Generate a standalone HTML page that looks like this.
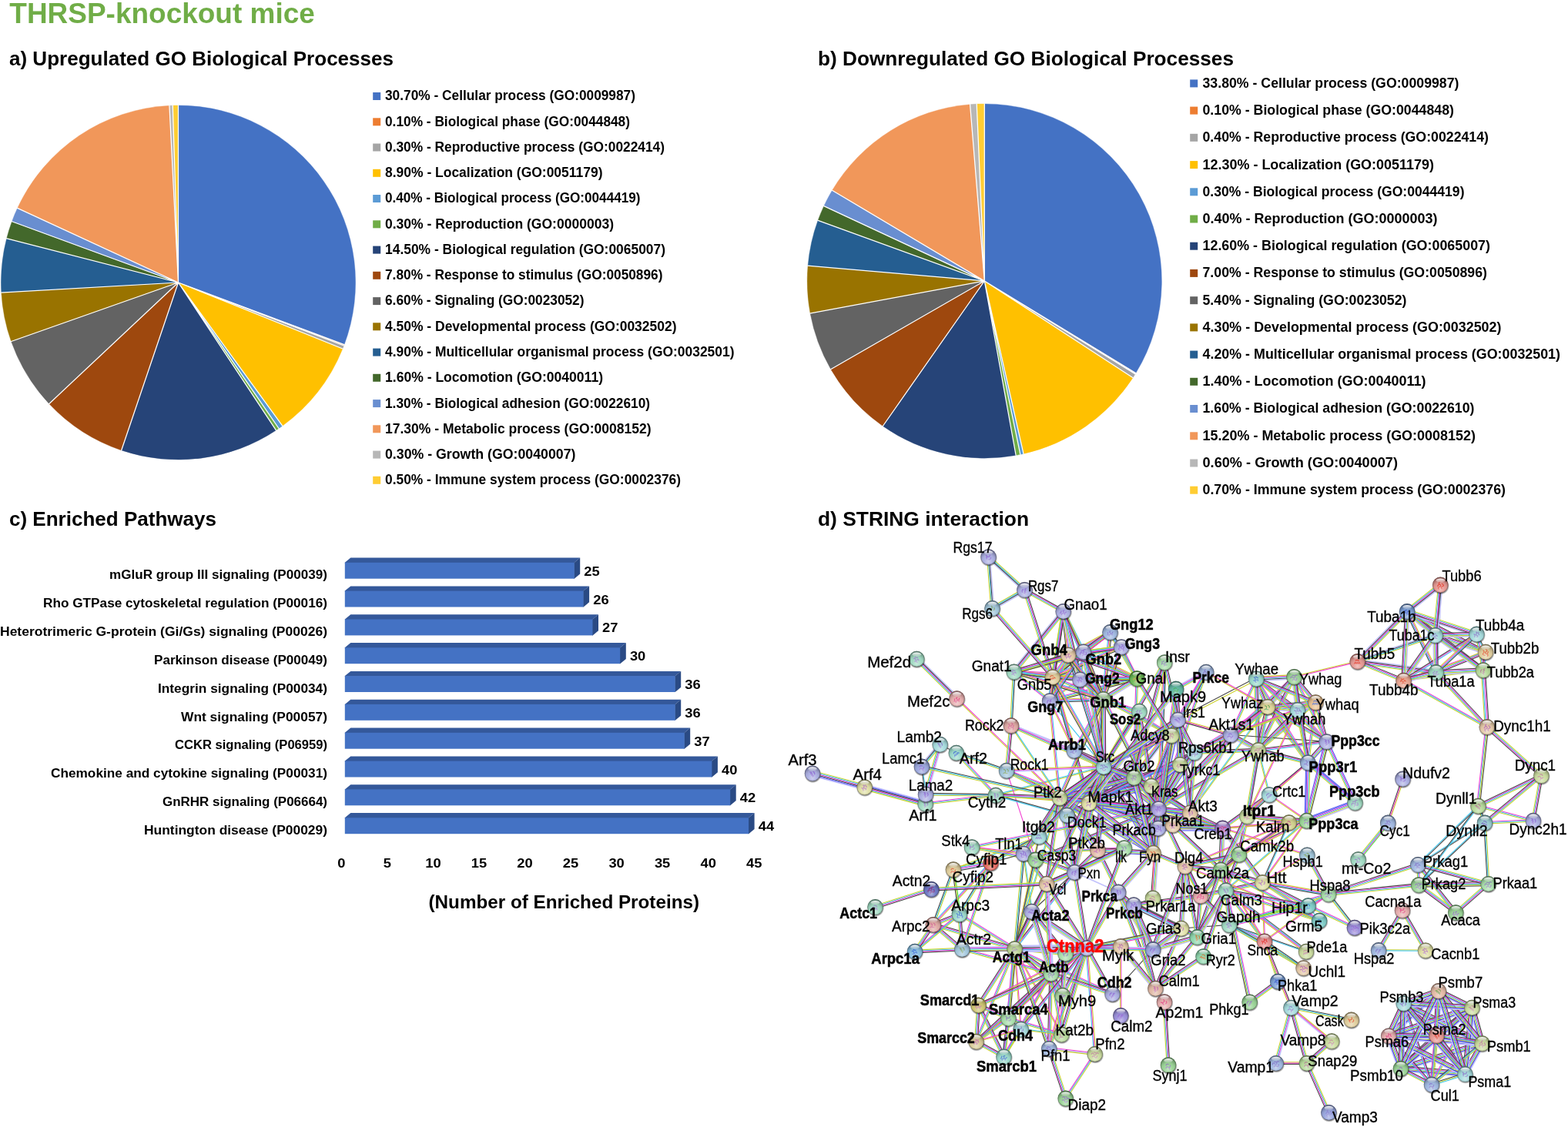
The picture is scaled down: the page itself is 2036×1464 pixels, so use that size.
<!DOCTYPE html>
<html lang="en">
<head>
<meta charset="utf-8">
<title>THRSP-knockout mice</title>
<style>
html,body{margin:0;padding:0;background:#fff;}
body{width:2036px;height:1464px;overflow:hidden;}
svg{display:block;font-family:"Liberation Sans",sans-serif;}
text{white-space:pre;}
</style>
</head>
<body>
<svg width="2036" height="1464" viewBox="0 0 2036 1464">
<rect width="2036" height="1464" fill="#fff"/>
<text x="12.3" y="30.2" font-size="37.5" textLength="396.5" lengthAdjust="spacingAndGlyphs" font-weight="700" fill="#70AD47">THRSP-knockout mice</text>
<text x="12.0" y="85.2" font-size="26" textLength="499.0" lengthAdjust="spacingAndGlyphs" font-weight="700">a) Upregulated GO Biological Processes</text>
<text x="1062.0" y="85.2" font-size="26" textLength="540.0" lengthAdjust="spacingAndGlyphs" font-weight="700">b) Downregulated GO Biological Processes</text>
<text x="12.0" y="683.2" font-size="26" textLength="269.0" lengthAdjust="spacingAndGlyphs" font-weight="700">c) Enriched Pathways</text>
<text x="1062.0" y="683.2" font-size="26" textLength="274.0" lengthAdjust="spacingAndGlyphs" font-weight="700">d) STRING interaction</text>
<g stroke-linejoin="round"><path d="M231.50 367.00L231.50 136.90A230.1 230.1 0 0 1 447.00 447.66Z" fill="#4472C4" stroke="#4472C4" stroke-width="0.4"/><path d="M231.50 367.00L447.00 447.66A230.1 230.1 0 0 1 446.49 449.01Z" fill="#ED7D31" stroke="#ED7D31" stroke-width="0.4"/><path d="M231.50 367.00L446.49 449.01A230.1 230.1 0 0 1 444.91 453.05Z" fill="#A5A5A5" stroke="#A5A5A5" stroke-width="0.4"/><path d="M231.50 367.00L444.91 453.05A230.1 230.1 0 0 1 366.75 553.15Z" fill="#FFC000" stroke="#FFC000" stroke-width="0.4"/><path d="M231.50 367.00L366.75 553.15A230.1 230.1 0 0 1 362.03 556.49Z" fill="#5B9BD5" stroke="#5B9BD5" stroke-width="0.4"/><path d="M231.50 367.00L362.03 556.49A230.1 230.1 0 0 1 358.43 558.92Z" fill="#70AD47" stroke="#70AD47" stroke-width="0.4"/><path d="M231.50 367.00L358.43 558.92A230.1 230.1 0 0 1 157.65 584.93Z" fill="#264478" stroke="#264478" stroke-width="0.4"/><path d="M231.50 367.00L157.65 584.93A230.1 230.1 0 0 1 63.76 524.51Z" fill="#9E480E" stroke="#9E480E" stroke-width="0.4"/><path d="M231.50 367.00L63.76 524.51A230.1 230.1 0 0 1 14.52 443.58Z" fill="#636363" stroke="#636363" stroke-width="0.4"/><path d="M231.50 367.00L14.52 443.58A230.1 230.1 0 0 1 1.77 380.00Z" fill="#997300" stroke="#997300" stroke-width="0.4"/><path d="M231.50 367.00L1.77 380.00A230.1 230.1 0 0 1 8.63 309.78Z" fill="#255E91" stroke="#255E91" stroke-width="0.4"/><path d="M231.50 367.00L8.63 309.78A230.1 230.1 0 0 1 15.50 287.70Z" fill="#43682B" stroke="#43682B" stroke-width="0.4"/><path d="M231.50 367.00L15.50 287.70A230.1 230.1 0 0 1 22.69 270.34Z" fill="#698ED0" stroke="#698ED0" stroke-width="0.4"/><path d="M231.50 367.00L22.69 270.34A230.1 230.1 0 0 1 219.94 137.19Z" fill="#F1975A" stroke="#F1975A" stroke-width="0.4"/><path d="M231.50 367.00L219.94 137.19A230.1 230.1 0 0 1 224.27 137.01Z" fill="#B7B7B7" stroke="#B7B7B7" stroke-width="0.4"/><path d="M231.50 367.00L224.27 137.01A230.1 230.1 0 0 1 231.50 136.90Z" fill="#FFCD33" stroke="#FFCD33" stroke-width="0.4"/></g><path d="M231.50 367.00L231.50 136.30M231.50 367.00L447.56 447.87M231.50 367.00L447.05 449.22M231.50 367.00L445.46 453.27M231.50 367.00L367.10 553.64M231.50 367.00L362.37 556.99M231.50 367.00L358.76 559.42M231.50 367.00L157.46 585.50M231.50 367.00L63.33 524.93M231.50 367.00L13.95 443.78M231.50 367.00L1.17 380.04M231.50 367.00L8.05 309.63M231.50 367.00L14.93 287.49M231.50 367.00L22.14 270.09M231.50 367.00L219.91 136.59M231.50 367.00L224.25 136.41" fill="none" stroke="#fff" stroke-width="1.25" stroke-linecap="butt"/>
<g stroke-linejoin="round"><path d="M1278.30 365.00L1278.30 134.90A230.1 230.1 0 0 1 1474.88 484.60Z" fill="#4472C4" stroke="#4472C4" stroke-width="0.4"/><path d="M1278.30 365.00L1474.88 484.60A230.1 230.1 0 0 1 1474.12 485.83Z" fill="#ED7D31" stroke="#ED7D31" stroke-width="0.4"/><path d="M1278.30 365.00L1474.12 485.83A230.1 230.1 0 0 1 1471.04 490.69Z" fill="#A5A5A5" stroke="#A5A5A5" stroke-width="0.4"/><path d="M1278.30 365.00L1471.04 490.69A230.1 230.1 0 0 1 1329.05 589.43Z" fill="#FFC000" stroke="#FFC000" stroke-width="0.4"/><path d="M1278.30 365.00L1329.05 589.43A230.1 230.1 0 0 1 1324.82 590.35Z" fill="#5B9BD5" stroke="#5B9BD5" stroke-width="0.4"/><path d="M1278.30 365.00L1324.82 590.35A230.1 230.1 0 0 1 1319.16 591.44Z" fill="#70AD47" stroke="#70AD47" stroke-width="0.4"/><path d="M1278.30 365.00L1319.16 591.44A230.1 230.1 0 0 1 1146.34 553.50Z" fill="#264478" stroke="#264478" stroke-width="0.4"/><path d="M1278.30 365.00L1146.34 553.50A230.1 230.1 0 0 1 1078.79 479.63Z" fill="#9E480E" stroke="#9E480E" stroke-width="0.4"/><path d="M1278.30 365.00L1078.79 479.63A230.1 230.1 0 0 1 1052.05 406.93Z" fill="#636363" stroke="#636363" stroke-width="0.4"/><path d="M1278.30 365.00L1052.05 406.93A230.1 230.1 0 0 1 1049.05 345.20Z" fill="#997300" stroke="#997300" stroke-width="0.4"/><path d="M1278.30 365.00L1049.05 345.20A230.1 230.1 0 0 1 1062.09 286.26Z" fill="#255E91" stroke="#255E91" stroke-width="0.4"/><path d="M1278.30 365.00L1062.09 286.26A230.1 230.1 0 0 1 1069.82 267.63Z" fill="#43682B" stroke="#43682B" stroke-width="0.4"/><path d="M1278.30 365.00L1069.82 267.63A230.1 230.1 0 0 1 1080.61 247.26Z" fill="#698ED0" stroke="#698ED0" stroke-width="0.4"/><path d="M1278.30 365.00L1080.61 247.26A230.1 230.1 0 0 1 1259.58 135.66Z" fill="#F1975A" stroke="#F1975A" stroke-width="0.4"/><path d="M1278.30 365.00L1259.58 135.66A230.1 230.1 0 0 1 1268.21 135.12Z" fill="#B7B7B7" stroke="#B7B7B7" stroke-width="0.4"/><path d="M1278.30 365.00L1268.21 135.12A230.1 230.1 0 0 1 1278.30 134.90Z" fill="#FFCD33" stroke="#FFCD33" stroke-width="0.4"/></g><path d="M1278.30 365.00L1278.30 134.30M1278.30 365.00L1475.39 484.91M1278.30 365.00L1474.64 486.14M1278.30 365.00L1471.54 491.02M1278.30 365.00L1329.18 590.02M1278.30 365.00L1324.95 590.94M1278.30 365.00L1319.27 592.03M1278.30 365.00L1145.99 553.99M1278.30 365.00L1078.27 479.93M1278.30 365.00L1051.46 407.04M1278.30 365.00L1048.46 345.15M1278.30 365.00L1061.53 286.06M1278.30 365.00L1069.27 267.37M1278.30 365.00L1080.09 246.95M1278.30 365.00L1259.53 135.06M1278.30 365.00L1268.19 134.52" fill="none" stroke="#fff" stroke-width="1.25" stroke-linecap="butt"/>
<rect x="484.2" y="120.0" width="10" height="10" fill="#4472C4"/><text x="500.0" y="130.4" font-size="17.5" textLength="325.0" lengthAdjust="spacingAndGlyphs" font-weight="700">30.70% - Cellular process (GO:0009987)</text><rect x="484.2" y="153.3" width="10" height="10" fill="#ED7D31"/><text x="500.0" y="163.7" font-size="17.5" textLength="318.0" lengthAdjust="spacingAndGlyphs" font-weight="700">0.10% - Biological phase (GO:0044848)</text><rect x="484.2" y="186.5" width="10" height="10" fill="#A5A5A5"/><text x="500.0" y="196.9" font-size="17.5" textLength="363.0" lengthAdjust="spacingAndGlyphs" font-weight="700">0.30% - Reproductive process (GO:0022414)</text><rect x="484.2" y="219.8" width="10" height="10" fill="#FFC000"/><text x="500.0" y="230.2" font-size="17.5" textLength="282.5" lengthAdjust="spacingAndGlyphs" font-weight="700">8.90% - Localization (GO:0051179)</text><rect x="484.2" y="253.0" width="10" height="10" fill="#5B9BD5"/><text x="500.0" y="263.4" font-size="17.5" textLength="331.5" lengthAdjust="spacingAndGlyphs" font-weight="700">0.40% - Biological process (GO:0044419)</text><rect x="484.2" y="286.3" width="10" height="10" fill="#70AD47"/><text x="500.0" y="296.7" font-size="17.5" textLength="297.0" lengthAdjust="spacingAndGlyphs" font-weight="700">0.30% - Reproduction (GO:0000003)</text><rect x="484.2" y="319.6" width="10" height="10" fill="#264478"/><text x="500.0" y="329.9" font-size="17.5" textLength="364.0" lengthAdjust="spacingAndGlyphs" font-weight="700">14.50% - Biological regulation (GO:0065007)</text><rect x="484.2" y="352.8" width="10" height="10" fill="#9E480E"/><text x="500.0" y="363.2" font-size="17.5" textLength="360.5" lengthAdjust="spacingAndGlyphs" font-weight="700">7.80% - Response to stimulus (GO:0050896)</text><rect x="484.2" y="386.1" width="10" height="10" fill="#636363"/><text x="500.0" y="396.4" font-size="17.5" textLength="258.5" lengthAdjust="spacingAndGlyphs" font-weight="700">6.60% - Signaling (GO:0023052)</text><rect x="484.2" y="419.3" width="10" height="10" fill="#997300"/><text x="500.0" y="429.7" font-size="17.5" textLength="378.5" lengthAdjust="spacingAndGlyphs" font-weight="700">4.50% - Developmental process (GO:0032502)</text><rect x="484.2" y="452.6" width="10" height="10" fill="#255E91"/><text x="500.0" y="462.9" font-size="17.5" textLength="453.5" lengthAdjust="spacingAndGlyphs" font-weight="700">4.90% - Multicellular organismal process (GO:0032501)</text><rect x="484.2" y="485.8" width="10" height="10" fill="#43682B"/><text x="500.0" y="496.2" font-size="17.5" textLength="283.0" lengthAdjust="spacingAndGlyphs" font-weight="700">1.60% - Locomotion (GO:0040011)</text><rect x="484.2" y="519.1" width="10" height="10" fill="#698ED0"/><text x="500.0" y="529.5" font-size="17.5" textLength="344.0" lengthAdjust="spacingAndGlyphs" font-weight="700">1.30% - Biological adhesion (GO:0022610)</text><rect x="484.2" y="552.3" width="10" height="10" fill="#F1975A"/><text x="500.0" y="562.7" font-size="17.5" textLength="345.5" lengthAdjust="spacingAndGlyphs" font-weight="700">17.30% - Metabolic process (GO:0008152)</text><rect x="484.2" y="585.6" width="10" height="10" fill="#B7B7B7"/><text x="500.0" y="596.0" font-size="17.5" textLength="247.5" lengthAdjust="spacingAndGlyphs" font-weight="700">0.30% - Growth (GO:0040007)</text><rect x="484.2" y="618.8" width="10" height="10" fill="#FFCD33"/><text x="500.0" y="629.2" font-size="17.5" textLength="384.0" lengthAdjust="spacingAndGlyphs" font-weight="700">0.50% - Immune system process (GO:0002376)</text>
<rect x="1545.2" y="103.4" width="10" height="10" fill="#4472C4"/><text x="1561.5" y="113.8" font-size="17.9" textLength="333.0" lengthAdjust="spacingAndGlyphs" font-weight="700">33.80% - Cellular process (GO:0009987)</text><rect x="1545.2" y="138.6" width="10" height="10" fill="#ED7D31"/><text x="1561.5" y="149.0" font-size="17.9" textLength="326.5" lengthAdjust="spacingAndGlyphs" font-weight="700">0.10% - Biological phase (GO:0044848)</text><rect x="1545.2" y="173.8" width="10" height="10" fill="#A5A5A5"/><text x="1561.5" y="184.2" font-size="17.9" textLength="371.5" lengthAdjust="spacingAndGlyphs" font-weight="700">0.40% - Reproductive process (GO:0022414)</text><rect x="1545.2" y="209.1" width="10" height="10" fill="#FFC000"/><text x="1561.5" y="219.5" font-size="17.9" textLength="300.5" lengthAdjust="spacingAndGlyphs" font-weight="700">12.30% - Localization (GO:0051179)</text><rect x="1545.2" y="244.3" width="10" height="10" fill="#5B9BD5"/><text x="1561.5" y="254.7" font-size="17.9" textLength="340.0" lengthAdjust="spacingAndGlyphs" font-weight="700">0.30% - Biological process (GO:0044419)</text><rect x="1545.2" y="279.5" width="10" height="10" fill="#70AD47"/><text x="1561.5" y="289.9" font-size="17.9" textLength="305.0" lengthAdjust="spacingAndGlyphs" font-weight="700">0.40% - Reproduction (GO:0000003)</text><rect x="1545.2" y="314.7" width="10" height="10" fill="#264478"/><text x="1561.5" y="325.1" font-size="17.9" textLength="373.5" lengthAdjust="spacingAndGlyphs" font-weight="700">12.60% - Biological regulation (GO:0065007)</text><rect x="1545.2" y="349.9" width="10" height="10" fill="#9E480E"/><text x="1561.5" y="360.3" font-size="17.9" textLength="369.5" lengthAdjust="spacingAndGlyphs" font-weight="700">7.00% - Response to stimulus (GO:0050896)</text><rect x="1545.2" y="385.2" width="10" height="10" fill="#636363"/><text x="1561.5" y="395.6" font-size="17.9" textLength="265.0" lengthAdjust="spacingAndGlyphs" font-weight="700">5.40% - Signaling (GO:0023052)</text><rect x="1545.2" y="420.4" width="10" height="10" fill="#997300"/><text x="1561.5" y="430.8" font-size="17.9" textLength="388.0" lengthAdjust="spacingAndGlyphs" font-weight="700">4.30% - Developmental process (GO:0032502)</text><rect x="1545.2" y="455.6" width="10" height="10" fill="#255E91"/><text x="1561.5" y="466.0" font-size="17.9" textLength="464.5" lengthAdjust="spacingAndGlyphs" font-weight="700">4.20% - Multicellular organismal process (GO:0032501)</text><rect x="1545.2" y="490.8" width="10" height="10" fill="#43682B"/><text x="1561.5" y="501.2" font-size="17.9" textLength="290.0" lengthAdjust="spacingAndGlyphs" font-weight="700">1.40% - Locomotion (GO:0040011)</text><rect x="1545.2" y="526.0" width="10" height="10" fill="#698ED0"/><text x="1561.5" y="536.4" font-size="17.9" textLength="353.0" lengthAdjust="spacingAndGlyphs" font-weight="700">1.60% - Biological adhesion (GO:0022610)</text><rect x="1545.2" y="561.3" width="10" height="10" fill="#F1975A"/><text x="1561.5" y="571.7" font-size="17.9" textLength="354.5" lengthAdjust="spacingAndGlyphs" font-weight="700">15.20% - Metabolic process (GO:0008152)</text><rect x="1545.2" y="596.5" width="10" height="10" fill="#B7B7B7"/><text x="1561.5" y="606.9" font-size="17.9" textLength="253.5" lengthAdjust="spacingAndGlyphs" font-weight="700">0.60% - Growth (GO:0040007)</text><rect x="1545.2" y="631.7" width="10" height="10" fill="#FFCD33"/><text x="1561.5" y="642.1" font-size="17.9" textLength="393.5" lengthAdjust="spacingAndGlyphs" font-weight="700">0.70% - Immune system process (GO:0002376)</text>
<path d="M447.8 731.4V730.8L455.3 724.6H753.2L745.7 730.8V731.4Z" fill="#34589A"/><path d="M745.2 730.8H745.7L753.2 724.6V745.5L745.7 751.7H745.2Z" fill="#2A4A84"/><rect x="447.8" y="730.8" width="297.9" height="20.9" fill="#4472C4"/><text x="758.3" y="747.7" font-size="17.3" textLength="20.4" lengthAdjust="spacingAndGlyphs" font-weight="700">25</text><text x="142.0" y="752.4" font-size="17.4" textLength="283.0" lengthAdjust="spacingAndGlyphs" font-weight="700">mGluR group III signaling (P00039)</text><path d="M447.8 768.2V767.6L455.3 761.4H765.1L757.6 767.6V768.2Z" fill="#34589A"/><path d="M757.1 767.6H757.6L765.1 761.4V782.3L757.6 788.5H757.1Z" fill="#2A4A84"/><rect x="447.8" y="767.6" width="309.8" height="20.9" fill="#4472C4"/><text x="770.2" y="784.5" font-size="17.3" textLength="20.4" lengthAdjust="spacingAndGlyphs" font-weight="700">26</text><text x="56.0" y="789.2" font-size="17.4" textLength="369.0" lengthAdjust="spacingAndGlyphs" font-weight="700">Rho GTPase cytoskeletal regulation (P00016)</text><path d="M447.8 805.1V804.5L455.3 798.3H777.0L769.5 804.5V805.1Z" fill="#34589A"/><path d="M769.0 804.5H769.5L777.0 798.3V819.2L769.5 825.4H769.0Z" fill="#2A4A84"/><rect x="447.8" y="804.5" width="321.7" height="20.9" fill="#4472C4"/><text x="782.1" y="821.4" font-size="17.3" textLength="20.4" lengthAdjust="spacingAndGlyphs" font-weight="700">27</text><text x="0.0" y="826.1" font-size="17.4" textLength="425.0" lengthAdjust="spacingAndGlyphs" font-weight="700">Heterotrimeric G-protein (Gi/Gs) signaling (P00026)</text><path d="M447.8 841.9V841.3L455.3 835.1H812.8L805.2 841.3V841.9Z" fill="#34589A"/><path d="M804.8 841.3H805.2L812.8 835.1V856.0L805.2 862.2H804.8Z" fill="#2A4A84"/><rect x="447.8" y="841.3" width="357.4" height="20.9" fill="#4472C4"/><text x="817.9" y="858.2" font-size="17.3" textLength="20.4" lengthAdjust="spacingAndGlyphs" font-weight="700">30</text><text x="200.0" y="862.9" font-size="17.4" textLength="225.0" lengthAdjust="spacingAndGlyphs" font-weight="700">Parkinson disease (P00049)</text><path d="M447.8 878.7V878.1L455.3 871.9H884.2L876.7 878.1V878.7Z" fill="#34589A"/><path d="M876.2 878.1H876.7L884.2 871.9V892.8L876.7 899.0H876.2Z" fill="#2A4A84"/><rect x="447.8" y="878.1" width="428.9" height="20.9" fill="#4472C4"/><text x="889.3" y="895.0" font-size="17.3" textLength="20.4" lengthAdjust="spacingAndGlyphs" font-weight="700">36</text><text x="205.0" y="899.7" font-size="17.4" textLength="220.0" lengthAdjust="spacingAndGlyphs" font-weight="700">Integrin signaling (P00034)</text><path d="M447.8 915.5V914.9L455.3 908.7H884.2L876.7 914.9V915.5Z" fill="#34589A"/><path d="M876.2 914.9H876.7L884.2 908.7V929.6L876.7 935.8H876.2Z" fill="#2A4A84"/><rect x="447.8" y="914.9" width="428.9" height="20.9" fill="#4472C4"/><text x="889.3" y="931.8" font-size="17.3" textLength="20.4" lengthAdjust="spacingAndGlyphs" font-weight="700">36</text><text x="235.0" y="936.5" font-size="17.4" textLength="190.0" lengthAdjust="spacingAndGlyphs" font-weight="700">Wnt signaling (P00057)</text><path d="M447.8 952.4V951.8L455.3 945.6H896.2L888.7 951.8V952.4Z" fill="#34589A"/><path d="M888.2 951.8H888.7L896.2 945.6V966.5L888.7 972.7H888.2Z" fill="#2A4A84"/><rect x="447.8" y="951.8" width="440.9" height="20.9" fill="#4472C4"/><text x="901.3" y="968.7" font-size="17.3" textLength="20.4" lengthAdjust="spacingAndGlyphs" font-weight="700">37</text><text x="227.0" y="973.4" font-size="17.4" textLength="198.0" lengthAdjust="spacingAndGlyphs" font-weight="700">CCKR signaling (P06959)</text><path d="M447.8 989.2V988.6L455.3 982.4H931.9L924.4 988.6V989.2Z" fill="#34589A"/><path d="M923.9 988.6H924.4L931.9 982.4V1003.3L924.4 1009.5H923.9Z" fill="#2A4A84"/><rect x="447.8" y="988.6" width="476.6" height="20.9" fill="#4472C4"/><text x="937.0" y="1005.5" font-size="17.3" textLength="20.4" lengthAdjust="spacingAndGlyphs" font-weight="700">40</text><text x="66.0" y="1010.2" font-size="17.4" textLength="359.0" lengthAdjust="spacingAndGlyphs" font-weight="700">Chemokine and cytokine signaling (P00031)</text><path d="M447.8 1026.0V1025.4L455.3 1019.2H955.7L948.2 1025.4V1026.0Z" fill="#34589A"/><path d="M947.7 1025.4H948.2L955.7 1019.2V1040.1L948.2 1046.3H947.7Z" fill="#2A4A84"/><rect x="447.8" y="1025.4" width="500.4" height="20.9" fill="#4472C4"/><text x="960.8" y="1042.3" font-size="17.3" textLength="20.4" lengthAdjust="spacingAndGlyphs" font-weight="700">42</text><text x="211.0" y="1047.0" font-size="17.4" textLength="214.0" lengthAdjust="spacingAndGlyphs" font-weight="700">GnRHR signaling (P06664)</text><path d="M447.8 1062.9V1062.3L455.3 1056.1H979.6L972.1 1062.3V1062.9Z" fill="#34589A"/><path d="M971.6 1062.3H972.1L979.6 1056.1V1077.0L972.1 1083.2H971.6Z" fill="#2A4A84"/><rect x="447.8" y="1062.3" width="524.3" height="20.9" fill="#4472C4"/><text x="984.7" y="1079.2" font-size="17.3" textLength="20.4" lengthAdjust="spacingAndGlyphs" font-weight="700">44</text><text x="187.0" y="1083.9" font-size="17.4" textLength="238.0" lengthAdjust="spacingAndGlyphs" font-weight="700">Huntington disease (P00029)</text><text x="443.3" y="1127.3" font-size="17.3" textLength="10.2" lengthAdjust="spacingAndGlyphs" text-anchor="middle" font-weight="700">0</text><text x="502.9" y="1127.3" font-size="17.3" textLength="10.2" lengthAdjust="spacingAndGlyphs" text-anchor="middle" font-weight="700">5</text><text x="562.4" y="1127.3" font-size="17.3" textLength="20.4" lengthAdjust="spacingAndGlyphs" text-anchor="middle" font-weight="700">10</text><text x="622.0" y="1127.3" font-size="17.3" textLength="20.4" lengthAdjust="spacingAndGlyphs" text-anchor="middle" font-weight="700">15</text><text x="681.5" y="1127.3" font-size="17.3" textLength="20.4" lengthAdjust="spacingAndGlyphs" text-anchor="middle" font-weight="700">20</text><text x="741.0" y="1127.3" font-size="17.3" textLength="20.4" lengthAdjust="spacingAndGlyphs" text-anchor="middle" font-weight="700">25</text><text x="800.6" y="1127.3" font-size="17.3" textLength="20.4" lengthAdjust="spacingAndGlyphs" text-anchor="middle" font-weight="700">30</text><text x="860.1" y="1127.3" font-size="17.3" textLength="20.4" lengthAdjust="spacingAndGlyphs" text-anchor="middle" font-weight="700">35</text><text x="919.7" y="1127.3" font-size="17.3" textLength="20.4" lengthAdjust="spacingAndGlyphs" text-anchor="middle" font-weight="700">40</text><text x="979.2" y="1127.3" font-size="17.3" textLength="20.4" lengthAdjust="spacingAndGlyphs" text-anchor="middle" font-weight="700">45</text><text x="556.5" y="1179.5" font-size="24.2" textLength="351.5" lengthAdjust="spacingAndGlyphs" font-weight="700">(Number of Enriched Proteins)</text>
<defs><radialGradient id="ns" cx="50%" cy="72%" r="78%" fx="50%" fy="80%"><stop offset="0" stop-color="#fff" stop-opacity="0.45"/><stop offset="0.38" stop-color="#fff" stop-opacity="0.05"/><stop offset="0.7" stop-color="#000" stop-opacity="0.20"/><stop offset="1" stop-color="#000" stop-opacity="0.48"/></radialGradient><linearGradient id="nh" x1="0" y1="0" x2="0" y2="1"><stop offset="0" stop-color="#fff" stop-opacity="0.95"/><stop offset="1" stop-color="#fff" stop-opacity="0.08"/></linearGradient><radialGradient id="nd" cx="50%" cy="50%" r="50%"><stop offset="0.74" stop-color="#000" stop-opacity="0.7"/><stop offset="1" stop-color="#000" stop-opacity="0"/></radialGradient></defs><g fill="none" stroke-width="1.10" stroke-linecap="butt"><path stroke="#C2C2FC" stroke-width="1.7" d="M1645.7 920.7L1684.6 924.8M1821.1 1390.5L1867.6 1347.6M1862.9 827.7L1928.2 849.4"/><path stroke="#CDD22E" d="M1423.6 1105.0L1450.3 1159.7M1403.7 882.8L1408.1 846.9M1645.9 919.4L1684.8 923.5M1644.4 919.2L1696.7 991.6M1501.9 1285.2L1556.1 1218.5M1505.6 1050.9L1567.3 873.4M1819.3 1388.6L1865.8 1345.7M1413.9 1044.3L1504.3 1051.8M1863.3 826.4L1928.6 848.1M1329.5 767.9L1379.8 795.8M1367.0 877.5L1402.6 880.7M1328.4 1110.1L1344.1 1118.0"/><path stroke="#3FC6EE" d="M1424.8 1104.4L1451.5 1159.1M1402.4 882.6L1406.8 846.7M1646.0 918.1L1684.9 922.2M1645.5 918.5L1697.8 990.9M1500.9 1284.4L1555.1 1217.7M1504.4 1050.5L1566.1 873.0M1818.5 1387.6L1865.0 1344.7M1414.0 1043.0L1504.4 1050.5M1863.7 825.2L1929.0 846.9M1330.1 766.8L1380.4 794.7M1366.9 878.8L1402.5 882.0M1329.0 1108.9L1344.7 1116.8"/><path stroke="#F23FD2" d="M1426.0 1103.8L1452.7 1158.5M1401.1 882.4L1405.5 846.5M1646.1 916.8L1685.0 920.9M1646.5 917.7L1698.8 990.1M1499.9 1283.6L1554.1 1216.9M1503.2 1050.1L1564.9 872.6M1817.6 1386.7L1864.1 1343.8M1414.1 1041.7L1504.5 1049.2M1864.1 824.0L1929.4 845.7M1330.7 765.6L1381.0 793.5M1366.7 880.0L1402.3 883.2M1329.6 1107.7L1345.3 1115.6"/><path stroke="#5A5AF2" d="M1413.8 1045.6L1504.2 1053.1"/><path stroke="#3A3AE8" d="M1820.2 1389.5L1866.7 1346.6"/><path stroke="#4A4A4A" d="M1427.2 1103.2L1453.9 1157.9M1646.3 915.5L1685.2 919.6M1647.6 917.0L1699.9 989.4M1498.9 1282.8L1553.1 1216.1M1816.7 1385.7L1863.2 1342.8M1414.2 1040.4L1504.6 1047.9M1864.5 822.7L1929.8 844.4M1331.3 764.5L1381.6 792.4M1366.6 881.3L1402.2 884.5"/><path stroke="#C2C2FC" stroke-width="1.7" d="M1867.4 1347.8L1913.4 1311.5M1763.1 856.7L1865.1 870.7"/><path stroke="#3FC6EE" d="M1865.0 1344.7L1911.0 1308.4M1634.1 975.6L1722.8 964.7M1559.1 1164.4L1591.8 1157.3M1840.7 1122.7L1919.0 1046.5M1864.2 873.7L1930.3 944.7M1639.3 1146.3L1713.1 1196.0M1362.8 1362.1L1365.3 1264.7M1495.0 1021.0L1545.3 1055.6M1414.0 1043.0L1529.5 934.9M1762.5 860.6L1864.5 874.6M1472.2 1176.1L1559.1 1164.4"/><path stroke="#CDD22E" d="M1865.8 1345.7L1911.8 1309.4M1559.4 1165.7L1592.1 1158.6M1863.3 874.6L1929.4 945.6M1638.6 1147.4L1712.4 1197.1M1364.1 1362.2L1366.6 1264.8M1494.3 1022.1L1544.6 1056.7M1414.9 1043.9L1530.4 935.8M1762.3 861.9L1864.3 875.9M1472.4 1177.4L1559.3 1165.7"/><path stroke="#F23FD2" d="M1864.2 1343.7L1910.2 1307.4M1633.9 974.3L1722.6 963.4M1558.9 1163.2L1591.6 1156.1M1865.2 872.9L1931.3 943.9M1640.0 1145.2L1713.8 1194.9M1361.6 1362.1L1364.1 1264.7M1495.7 1019.9L1546.0 1054.5M1413.1 1042.1L1528.6 934.0M1762.7 859.3L1864.7 873.3M1472.0 1174.9L1558.9 1163.2"/><path stroke="#3A3AE8" d="M1866.6 1346.7L1912.6 1310.4"/><path stroke="#5A5AF2" d="M1493.5 1023.1L1543.8 1057.7M1415.8 1044.9L1531.3 936.8"/><path stroke="#4A4A4A" d="M1863.4 1342.6L1909.4 1306.3M1633.7 973.0L1722.4 962.1M1558.6 1161.9L1591.3 1154.8M1444.5 1291.1L1497.2 1233.3M1841.7 1123.7L1920.0 1047.5M1866.1 872.0L1932.2 943.0M1360.3 1362.0L1362.8 1264.6M1496.5 1018.9L1546.8 1053.5M1412.2 1041.1L1527.7 933.0M1762.9 858.0L1864.9 872.0M1471.8 1173.6L1558.7 1161.9"/><path stroke="#C2C2FC" stroke-width="1.7" d="M1506.3 1050.9L1531.4 935.3M1819.9 1391.2L1925.5 1358.5M1868.6 1345.3L1871.1 1287.4M1825.5 796.4L1924.3 872.6"/><path stroke="#F23FD2" d="M1842.2 1148.2L1932.6 1146.8M1318.2 1232.1L1379.0 1343.5M1502.5 1050.1L1527.6 934.5M1818.3 1386.2L1923.9 1353.5M1863.5 1345.1L1866.0 1287.2M1377.1 1343.8L1378.4 1293.0M1385.2 1058.2L1472.2 1009.4M1827.7 794.0L1865.3 873.0M1827.9 793.3L1926.7 869.5M1472.4 1174.9L1554.9 1216.7M1823.1 882.8L1931.4 943.2M1608.1 1108.9L1673.0 1067.4"/><path stroke="#CDD22E" d="M1842.2 1150.8L1932.6 1149.4M1317.0 1232.7L1377.8 1344.1M1505.0 1050.6L1530.1 935.0M1819.1 1388.7L1924.7 1356.0M1866.0 1345.2L1868.5 1287.3M1379.7 1343.8L1381.0 1293.0M1386.5 1060.5L1473.5 1011.7M1828.9 793.5L1866.5 872.5M1826.3 795.3L1925.1 871.5M1471.2 1177.2L1553.7 1219.0M1821.9 885.0L1930.2 945.4M1609.5 1111.1L1674.4 1069.6"/><path stroke="#3FC6EE" d="M1842.2 1149.5L1932.6 1148.1M1503.8 1050.4L1528.9 934.8M1818.7 1387.5L1924.3 1354.8M1864.8 1345.2L1867.3 1287.3M1378.4 1343.8L1379.7 1293.0M1385.8 1059.4L1472.8 1010.6M1826.5 794.6L1864.1 873.6M1827.1 794.3L1925.9 870.5M1471.8 1176.1L1554.3 1217.9M1822.5 883.9L1930.8 944.3M1608.8 1110.0L1673.7 1068.5"/><path stroke="#5A5AF2" d="M1507.6 1051.2L1532.7 935.6"/><path stroke="#3A3AE8" d="M1819.5 1390.0L1925.1 1357.3M1867.3 1345.3L1869.8 1287.4"/><path stroke="#4A4A4A" d="M1842.2 1146.9L1932.6 1145.5M1842.2 1152.1L1932.6 1150.7M1501.2 1049.8L1526.3 934.2M1817.9 1385.0L1923.5 1352.3M1862.2 1345.1L1864.7 1287.2M1384.5 1057.1L1471.5 1008.3M1825.3 795.1L1862.9 874.1M1828.7 792.2L1927.5 868.4M1473.0 1173.8L1555.5 1215.6"/><path stroke="#C2C2FC" stroke-width="1.7" d="M1866.0 873.4L1871.6 759.9M1677.9 879.5L1682.3 922.5M1532.7 1208.3L1553.4 1219.6M1634.3 880.5L1649.0 916.9M1633.1 881.0L1647.8 917.4M1503.8 1077.8L1587.5 1077.8"/><path stroke="#CDD22E" d="M1679.2 879.3L1683.6 922.3M1330.4 1110.2L1350.5 1088.0M1304.8 1372.8L1318.9 1232.5M1630.1 883.3L1683.7 923.8M1720.8 964.2L1757.7 1043.3M1551.7 978.6L1646.7 919.2M1696.6 992.5L1757.8 1044.5M1533.3 1207.1L1554.0 1218.4M1628.3 882.9L1643.0 919.3M1503.8 1076.5L1587.5 1076.5"/><path stroke="#F23FD2" d="M1863.4 873.2L1869.0 759.7M1681.8 879.1L1686.2 922.1M1328.5 1108.5L1348.6 1086.3M1303.5 1372.7L1317.6 1232.4M1631.7 881.2L1685.3 921.7M1723.2 963.1L1760.1 1042.2M1550.3 976.4L1645.3 917.0M1698.3 990.5L1759.5 1042.5M1534.5 1204.9L1555.2 1216.2M1630.7 881.9L1645.4 918.3M1503.8 1073.8L1587.5 1073.8"/><path stroke="#3FC6EE" d="M1680.5 879.2L1684.9 922.2M1329.5 1109.3L1349.6 1087.1M1302.2 1372.6L1316.3 1232.3M1630.9 882.2L1684.5 922.7M1722.0 963.7L1758.9 1042.8M1551.0 977.5L1646.0 918.1M1697.5 991.5L1758.7 1043.5M1533.9 1206.0L1554.6 1217.3M1698.6 1176.5L1713.1 1196.0M1629.5 882.4L1644.2 918.8M1503.8 1075.1L1587.5 1075.1"/><path stroke="#4A4A4A" d="M1864.7 873.3L1870.3 759.8M1683.1 878.9L1687.5 921.9M1327.6 1107.6L1347.7 1085.4M1632.5 880.1L1686.1 920.6M1535.1 1203.7L1555.8 1215.0M1631.9 881.5L1646.6 917.9M1503.8 1072.5L1587.5 1072.5"/><path stroke="#5A5AF2" d="M1724.4 962.6L1761.3 1041.7M1700.0 988.5L1761.2 1040.5M1699.1 989.5L1760.3 1041.5M1503.8 1079.0L1587.5 1079.0"/><path stroke="#C2C2FC" stroke-width="1.7" d="M1818.6 1391.3L1902.1 1398.4M1587.8 1130.0L1590.1 1075.9"/><path stroke="#CDD22E" d="M1818.8 1388.7L1902.3 1395.8M1595.7 1202.6L1641.4 1223.8M1586.5 1130.0L1588.8 1075.9M1860.9 1409.0L1867.3 1345.4M1374.8 1037.9L1458.6 1103.0M1237.7 1128.9L1348.9 1086.1M1317.1 1233.6L1444.0 1292.3M1706.4 912.9L1720.7 963.9M1266.6 1354.7L1302.6 1374.4M1493.8 1021.4L1503.2 1050.9"/><path stroke="#3FC6EE" d="M1819.0 1387.5L1902.5 1394.6M1596.2 1201.4L1641.9 1222.6M1585.2 1129.9L1587.5 1075.8M1859.6 1408.9L1866.0 1345.3M1375.6 1036.9L1459.4 1102.0M1840.9 1122.6L1927.7 1068.2M1238.1 1130.1L1349.3 1087.3M1317.6 1232.4L1444.5 1291.1M1413.8 1043.6L1522.8 1072.2M1707.7 912.6L1722.0 963.6M1267.2 1353.6L1303.2 1373.3M1495.0 1021.0L1504.4 1050.5"/><path stroke="#F23FD2" d="M1819.1 1386.2L1902.6 1393.3M1596.7 1200.2L1642.4 1221.4M1583.9 1129.8L1586.2 1075.7M1858.4 1408.7L1864.8 1345.1M1376.4 1035.9L1460.2 1101.0M1318.1 1231.2L1445.0 1289.9M1414.2 1042.4L1523.2 1071.0M1708.9 912.2L1723.2 963.2M1267.8 1352.4L1303.8 1372.1M1496.2 1020.6L1505.6 1050.1"/><path stroke="#5A5AF2" d="M1413.5 1044.9L1522.5 1073.5M1492.5 1021.8L1501.9 1051.3"/><path stroke="#3A3AE8" d="M1818.7 1390.0L1902.2 1397.1"/><path stroke="#4A4A4A" d="M1819.2 1384.9L1902.7 1392.0M1582.6 1129.8L1584.9 1075.7M1857.1 1408.6L1863.5 1345.0M1377.2 1034.9L1461.0 1100.0M1841.5 1123.8L1928.3 1069.4M1414.5 1041.1L1523.5 1069.7M1710.2 911.9L1724.5 962.9M1268.4 1351.3L1304.4 1371.0M1497.5 1020.2L1506.9 1049.7"/><path stroke="#C2C2FC" stroke-width="1.7" d="M1908.3 1309.8L1921.4 1356.3M1313.4 941.3L1395.2 973.8"/><path stroke="#3FC6EE" d="M1504.4 1050.5L1532.2 993.1M1382.6 793.9L1389.0 850.5M1912.0 1308.7L1925.1 1355.2M1411.8 1231.8L1452.7 1159.1M1696.7 1066.0L1722.6 963.4M1340.3 1184.3L1359.7 1148.3M1634.3 974.8L1708.7 912.9M1433.1 996.1L1504.4 1050.5M1375.9 1037.0L1413.9 1043.6"/><path stroke="#CDD22E" d="M1505.6 1051.1L1533.4 993.7M1380.1 794.2L1386.5 850.8M1910.8 1309.1L1923.9 1355.6M1412.9 1232.5L1453.8 1159.8M1317.0 1232.4L1325.0 1336.8M1698.0 1066.3L1723.9 963.7M1312.4 943.7L1394.2 976.2M1341.4 1184.9L1360.8 1148.9M1530.1 936.1L1631.9 882.9M1635.1 975.8L1709.5 913.9M1432.3 997.1L1503.6 1051.5M1375.7 1038.3L1413.7 1044.9"/><path stroke="#F23FD2" d="M1503.2 1049.9L1531.0 992.5M1381.3 794.0L1387.7 850.6M1913.3 1308.4L1926.4 1354.9M1410.6 1231.2L1451.5 1158.5M1318.2 1232.4L1326.2 1336.8M1695.4 1065.7L1721.3 963.1M1312.9 942.5L1394.7 975.0M1339.1 1183.7L1358.5 1147.7M1633.5 973.8L1707.9 911.9M1433.9 995.1L1505.2 1049.5M1376.1 1035.8L1414.1 1042.4"/><path stroke="#3A3AE8" d="M1909.5 1309.4L1922.6 1355.9"/><path stroke="#5A5AF2" d="M1506.7 1051.6L1534.5 994.2M1694.2 1065.4L1720.1 962.8M1431.5 998.2L1502.8 1052.6"/><path stroke="#4A4A4A" d="M1502.1 1049.4L1529.9 992.0M1378.8 794.3L1385.2 850.9M1914.5 1308.0L1927.6 1354.5M1409.5 1230.5L1450.4 1157.8M1699.2 1066.6L1725.1 964.0M1338.0 1183.1L1357.4 1147.1M1528.9 933.7L1630.7 880.5M1632.7 972.8L1707.1 910.9M1434.7 994.0L1506.0 1048.4M1376.3 1034.5L1414.3 1041.1"/><path stroke="#C2C2FC" stroke-width="1.7" d="M1633.9 881.6L1636.5 974.2M1338.3 1186.2L1409.8 1233.7M1631.4 884.3L1680.6 881.8M1820.4 1305.7L1863.1 1347.5"/><path stroke="#F23FD2" d="M1267.1 1352.5L1309.0 1322.2M1631.3 881.7L1633.9 974.3M1316.4 871.4L1455.8 839.2M1381.3 793.8L1407.4 846.4M1340.4 1182.9L1411.9 1230.4M1403.7 882.3L1434.4 995.8M1631.2 880.4L1680.4 877.9M1395.3 974.8L1414.6 1042.8M1619.0 1059.7L1697.9 990.0M1597.2 953.5L1679.6 878.2M1329.0 1108.3L1459.8 1100.9M1824.1 1302.0L1866.8 1343.8"/><path stroke="#CDD22E" d="M1268.6 1354.6L1310.5 1324.3M1628.7 881.8L1631.3 974.4M1317.0 874.0L1456.4 841.8M1380.1 794.4L1406.2 847.0M1339.0 1185.1L1410.5 1232.6M1401.1 882.9L1431.8 996.4M1631.2 879.1L1680.4 876.6M1392.8 975.5L1412.1 1043.5M1619.8 1060.7L1698.7 991.0M1599.0 955.5L1681.4 880.2M1329.0 1109.5L1459.8 1102.1M1822.2 1303.9L1864.9 1345.7"/><path stroke="#3FC6EE" d="M1267.9 1353.5L1309.8 1323.2M1630.0 881.7L1632.6 974.3M1316.7 872.7L1456.1 840.5M1382.4 793.2L1408.5 845.8M1339.7 1184.0L1411.2 1231.5M1402.4 882.6L1433.1 996.1M1631.3 881.7L1680.5 879.2M1394.1 975.2L1413.4 1043.2M1598.1 954.5L1680.5 879.2M1823.2 1302.9L1865.9 1344.7"/><path stroke="#3A3AE8" d="M1821.3 1304.8L1864.0 1346.6"/><path stroke="#4A4A4A" d="M1266.4 1351.4L1308.3 1321.1M1632.6 881.7L1635.2 974.3M1379.0 795.0L1405.1 847.6M1341.1 1181.8L1412.6 1229.3M1631.4 883.0L1680.6 880.5M1396.6 974.5L1415.9 1042.5M1825.0 1301.1L1867.7 1342.9"/><path stroke="#C2C2FC" stroke-width="1.7" d="M1203.9 1032.2L1222.6 967.5M1471.2 1177.2L1533.0 1207.7"/><path stroke="#CDD22E" d="M1839.7 1124.4L1888.8 1186.6M1822.7 884.5L1929.2 847.5M1762.1 1115.2L1800.8 1067.6M1200.1 1031.2L1218.8 966.5M1592.1 1158.6L1639.7 1148.2M1505.4 1052.2L1634.9 976.0M1537.1 1126.2L1557.3 1164.7M1496.7 1109.8L1538.0 1127.1M1539.1 1125.9L1674.0 1069.1"/><path stroke="#F23FD2" d="M1841.7 1122.8L1890.8 1185.0M1822.3 883.3L1928.8 846.3M1764.1 1116.8L1802.8 1069.2M1202.6 1031.9L1221.3 967.2M1591.6 1156.1L1639.2 1145.7M1504.1 1049.9L1633.6 973.7M1539.4 1125.0L1559.6 1163.5M1497.8 1107.4L1539.1 1124.7M1538.5 1124.7L1673.4 1067.9M1500.4 1284.0L1512.0 1301.5M1472.4 1174.9L1534.2 1205.4"/><path stroke="#3FC6EE" d="M1840.7 1123.6L1889.8 1185.8M1763.1 1116.0L1801.8 1068.4M1201.4 1031.5L1220.1 966.8M1591.8 1157.3L1639.4 1146.9M1504.7 1051.1L1634.2 974.9M1538.2 1125.6L1558.4 1164.1M1497.2 1108.6L1538.5 1125.9M1499.3 1284.7L1510.9 1302.2M1197.5 995.7L1202.6 1031.6M1471.8 1176.1L1533.6 1206.6"/><path stroke="#55DD44" d="M1765.1 1117.6L1803.8 1070.0"/><path stroke="#4A4A4A" d="M1842.7 1122.0L1891.8 1184.2M1591.3 1154.8L1638.9 1144.4M1503.4 1048.8L1632.9 972.6M1540.5 1124.4L1560.7 1162.9M1498.3 1106.2L1539.6 1123.5M1501.5 1283.3L1513.1 1300.8M1196.3 995.9L1201.4 1031.8M1473.5 1172.6L1535.3 1203.1M1473.0 1173.8L1534.8 1204.3M1470.7 1178.4L1532.5 1208.9"/><path stroke="#C2C2FC" stroke-width="1.7" d="M1828.7 796.3L1871.9 761.8M1289.5 791.9L1331.4 767.9M1673.8 1069.8L1696.8 1067.3M1824.6 885.4L1865.8 826.7"/><path stroke="#CDD22E" d="M1502.2 1284.8L1535.7 1206.8M1825.5 792.3L1868.7 757.8M1432.1 997.0L1502.8 1076.7M1638.7 1146.3L1641.3 1222.6M1864.0 871.5L1928.3 845.1M1287.5 788.5L1329.4 764.5M1474.4 1010.2L1481.2 924.1M1823.6 884.6L1864.8 825.9M1503.4 1051.4L1522.0 1072.5M1213.0 1201.5L1239.1 1129.9"/><path stroke="#3FC6EE" d="M1501.0 1284.3L1534.5 1206.3M1826.3 793.3L1869.5 758.8M1433.1 996.1L1503.8 1075.8M1864.5 872.7L1928.8 846.3M1288.2 789.6L1330.1 765.6M1473.1 1010.1L1479.9 924.0M1596.0 1202.0L1695.8 1236.6M1822.5 883.9L1863.7 825.2M1504.4 1050.5L1523.0 1071.6M1211.8 1201.1L1237.9 1129.5"/><path stroke="#F23FD2" d="M1499.8 1283.7L1533.3 1205.7M1827.1 794.3L1870.3 759.8M1434.1 995.2L1504.8 1074.9M1639.9 1146.3L1642.5 1222.6M1864.9 873.9L1929.2 847.5M1471.9 1009.9L1478.7 923.8M1673.7 1068.5L1696.7 1066.0M1821.4 883.2L1862.6 824.5M1505.4 1049.6L1524.0 1070.7"/><path stroke="#5A5AF2" d="M1431.2 997.8L1501.9 1077.5M1502.4 1052.2L1521.0 1073.3"/><path stroke="#4A4A4A" d="M1498.6 1283.2L1532.1 1205.2M1827.9 795.3L1871.1 760.8M1435.0 994.4L1505.7 1074.1M1865.4 875.1L1929.7 848.7M1288.8 790.8L1330.7 766.8M1470.6 1009.8L1477.4 923.7M1596.4 1200.8L1696.2 1235.4M1673.6 1067.2L1696.6 1064.7M1820.4 882.4L1861.6 823.7M1506.4 1048.8L1525.0 1069.9M1210.6 1200.7L1236.7 1129.1"/><path stroke="#C2C2FC" stroke-width="1.7" d="M1396.4 1135.3L1460.9 1103.8"/><path stroke="#3FC6EE" d="M1677.1 1308.8L1697.5 1380.9M1363.1 910.4L1433.1 996.1M1634.5 974.6L1681.1 879.5M1529.5 934.9L1532.2 993.1M1211.4 1201.6L1248.8 1233.6M1587.9 1076.3L1648.5 1032.9M1841.8 1149.0L1927.6 1068.3M1591.7 1156.7L1713.1 1196.0M1697.3 1381.6L1729.6 1353.0M1395.3 1133.0L1459.8 1101.5M1592.1 1156.2L1696.4 1235.5M1395.8 1133.5L1425.9 1104.6"/><path stroke="#CDD22E" d="M1678.4 1308.5L1698.8 1380.6M1635.7 975.2L1682.3 880.1M1528.2 935.0L1530.9 993.2M1210.5 1202.6L1247.9 1234.6M1588.6 1077.4L1649.2 1034.0M1591.3 1157.9L1712.7 1197.2M1698.2 1382.6L1730.5 1354.0M1395.9 1134.2L1460.4 1102.7M1590.5 1158.3L1694.8 1237.6M1396.7 1134.4L1426.8 1105.5"/><path stroke="#F23FD2" d="M1675.9 1309.2L1696.3 1381.3M1633.3 974.0L1679.9 878.9M1530.8 934.8L1533.5 993.0M1212.2 1200.6L1249.6 1232.6M1587.1 1075.3L1647.7 1031.9M1592.1 1155.5L1713.5 1194.8M1696.5 1380.6L1728.8 1352.0M1394.7 1131.8L1459.2 1100.3M1591.3 1157.2L1695.6 1236.5M1394.8 1132.5L1424.9 1103.6"/><path stroke="#5A5AF2" d="M1526.9 935.0L1529.6 993.2"/><path stroke="#4A4A4A" d="M1674.6 1309.5L1695.0 1381.6M1632.1 973.4L1678.7 878.3M1532.1 934.8L1534.8 993.0M1213.1 1199.6L1250.5 1231.6M1586.4 1074.2L1647.0 1030.8M1842.6 1150.0L1928.4 1069.3M1695.6 1379.6L1727.9 1351.0M1394.2 1130.7L1458.7 1099.2M1592.9 1155.1L1697.2 1234.4M1393.9 1131.6L1424.0 1102.7"/><path stroke="#C2C2FC" stroke-width="1.7" d="M1192.1 854.1L1244.3 905.7"/><path stroke="#F23FD2" d="M1366.8 880.7L1476.3 882.8M1432.4 995.0L1528.8 933.8M1584.8 1129.4L1608.4 1109.5M1344.5 1116.2L1504.2 1049.9M1328.0 1108.0L1432.1 995.2M1386.8 850.1L1441.2 820.7M1558.5 1163.4L1608.3 1109.6M1821.6 1182.2L1851.6 1234.3M1190.3 855.9L1242.5 907.5M1927.9 1067.5L1990.8 1064.7M1471.2 1010.0L1475.0 881.5M1539.0 1124.7L1713.3 1195.4"/><path stroke="#CDD22E" d="M1366.8 878.1L1476.3 880.2M1431.7 993.9L1528.1 932.7M1586.5 1131.4L1610.1 1111.5M1345.4 1118.6L1505.1 1052.3M1330.0 1109.8L1434.1 997.0M1386.2 849.0L1440.6 819.6M1560.4 1165.1L1610.2 1111.3M1819.3 1183.5L1849.3 1235.6M1188.5 857.7L1240.7 909.3M1928.1 1070.1L1991.0 1067.3M1473.8 1010.0L1477.6 881.5M1538.6 1125.9L1712.9 1196.6"/><path stroke="#3FC6EE" d="M1366.8 879.4L1476.3 881.5M1433.1 996.1L1529.5 934.9M1585.6 1130.4L1609.2 1110.5M1344.9 1117.4L1504.6 1051.1M1329.0 1108.9L1433.1 996.1M1387.4 851.3L1441.8 821.9M1559.5 1164.2L1609.3 1110.4M1820.4 1182.8L1850.4 1234.9M1189.4 856.8L1241.6 908.4M1928.0 1068.8L1990.9 1066.0M1472.5 1010.0L1476.3 881.5"/><path stroke="#5A5AF2" d="M1434.5 998.3L1530.9 937.1"/><path stroke="#4A4A4A" d="M1433.8 997.2L1530.2 936.0M1583.9 1128.4L1607.5 1108.5M1344.0 1115.0L1503.7 1048.7M1388.0 852.4L1442.4 823.0M1557.6 1162.5L1607.4 1108.7M1822.7 1181.5L1852.7 1233.6M1191.2 855.0L1243.4 906.6"/><path stroke="#C2C2FC" stroke-width="1.7" d="M1351.4 1087.9L1378.3 1037.6M1905.2 1396.8L1927.3 1357.0M1474.6 1011.6L1531.6 936.5"/><path stroke="#CDD22E" d="M1471.8 1011.1L1544.6 1056.7M1305.4 1372.9L1311.3 1322.9M1361.2 910.1L1378.8 793.8M1363.4 1362.6L1412.4 1232.0M1551.1 979.4L1634.0 976.2M1431.4 995.1L1510.5 859.5M1412.1 1042.7L1430.7 907.9M1350.2 1087.3L1377.1 1037.0M1903.0 1395.5L1925.1 1355.7M1470.4 1008.4L1527.4 933.3M1268.8 1306.7L1301.8 1373.6M1306.1 1002.7L1375.1 1038.1"/><path stroke="#F23FD2" d="M1473.2 1008.9L1546.0 1054.5M1302.9 1372.6L1308.8 1322.6M1363.7 910.5L1381.3 794.2M1361.0 1361.6L1410.0 1231.0M1551.0 976.9L1633.9 973.7M1433.7 996.4L1512.8 860.8M1413.4 1042.9L1432.0 908.1M1348.0 1086.1L1374.9 1035.8M1900.7 1394.3L1922.8 1354.5M1471.5 1009.2L1528.5 934.1M1271.1 1305.5L1304.1 1372.4M1307.3 1000.4L1376.3 1035.8"/><path stroke="#3FC6EE" d="M1472.5 1010.0L1545.3 1055.6M1304.1 1372.8L1310.0 1322.8M1362.5 910.3L1380.1 794.0M1362.2 1362.1L1411.2 1231.5M1551.0 978.1L1633.9 974.9M1432.5 995.8L1511.6 860.2M1414.6 1043.1L1433.2 908.3M1349.1 1086.7L1376.0 1036.4M1901.8 1394.9L1923.9 1355.1M1472.5 1010.0L1529.5 934.9M1269.9 1306.1L1302.9 1373.0M1306.7 1001.6L1375.7 1037.0"/><path stroke="#4A4A4A" d="M1473.9 1007.8L1546.7 1053.4M1301.6 1372.5L1307.5 1322.5M1365.0 910.7L1382.6 794.4M1550.9 975.6L1633.8 972.4M1434.8 997.1L1513.9 861.5M1415.9 1043.3L1434.5 908.5M1346.8 1085.5L1373.7 1035.2M1899.6 1393.6L1921.7 1353.8M1473.5 1010.8L1530.5 935.7M1272.2 1304.9L1305.2 1371.8M1307.9 999.3L1376.9 1034.7"/><path stroke="#5A5AF2" d="M1471.1 1012.2L1543.9 1057.8"/><path stroke="#3A3AE8" d="M1904.1 1396.1L1926.2 1356.3"/><path stroke="#C2C2FC" stroke-width="1.7" d="M1395.3 1133.0L1452.1 1158.8M1496.2 1022.6L1533.4 994.7M1314.7 871.1L1378.7 792.5"/><path stroke="#CDD22E" d="M1639.6 1144.4L1725.3 1159.6M1292.8 1033.6L1413.9 1043.6M1304.6 1373.4L1326.7 1337.5M1599.3 955.0L1632.5 882.2M1495.4 1021.5L1532.6 993.6M1318.7 874.3L1382.7 795.7M1247.0 1188.2L1287.7 1121.4M1505.8 1051.9L1599.5 955.9M1309.0 1323.9L1378.0 1345.0M1365.6 879.8L1412.8 1043.4M1286.6 1120.7L1349.1 1086.7"/><path stroke="#3FC6EE" d="M1639.2 1146.9L1724.9 1162.1M1303.5 1372.7L1325.6 1336.8M1598.1 954.5L1631.3 881.7M1494.6 1020.5L1531.8 992.6M1317.7 873.5L1381.7 794.9M1245.9 1187.5L1286.6 1120.7M1504.9 1051.0L1598.6 955.0M1309.4 1322.7L1378.4 1343.8M1366.8 879.4L1414.0 1043.0M1287.2 1121.8L1349.7 1087.8"/><path stroke="#F23FD2" d="M1639.4 1145.7L1725.1 1160.9M1293.0 1032.4L1414.1 1042.4M1302.4 1372.0L1324.5 1336.1M1596.9 954.0L1630.1 881.2M1493.8 1019.4L1531.0 991.5M1316.7 872.7L1380.7 794.1M1503.9 1050.0L1597.6 954.0M1309.8 1321.5L1378.8 1342.6M1368.0 879.0L1415.2 1042.6"/><path stroke="#5A5AF2" d="M1497.0 1023.6L1534.2 995.7"/><path stroke="#4A4A4A" d="M1639.0 1148.2L1724.7 1163.4M1493.0 1018.4L1530.2 990.5M1315.7 871.9L1379.7 793.3M1244.8 1186.8L1285.5 1120.0M1503.0 1049.1L1596.7 953.1M1286.0 1119.6L1348.5 1085.6"/><path stroke="#C2C2FC" stroke-width="1.7" d="M1496.2 1022.5L1552.2 979.0M1585.4 1077.3L1637.2 1147.8M1636.4 974.8L1648.5 918.6"/><path stroke="#3FC6EE" d="M1494.6 1020.5L1550.6 977.0M1376.0 1036.4L1497.5 1108.0M1505.0 1050.5L1512.8 860.5M1587.5 1075.8L1639.3 1146.3M1478.7 924.0L1494.4 1021.1M1188.0 1235.4L1249.2 1232.5M1633.9 974.3L1646.0 918.1M1317.1 1232.9L1379.2 1293.5M1201.6 1044.0L1292.9 1033.0M1642.5 1222.4L1659.9 1274.7M1697.5 1380.8L1726.0 1444.8"/><path stroke="#CDD22E" d="M1495.4 1021.5L1551.4 978.0M1375.3 1037.5L1496.8 1109.1M1502.5 1050.4L1510.3 860.4M1586.5 1076.6L1638.3 1147.1M1477.4 924.2L1493.1 1021.3M1187.9 1234.1L1249.1 1231.2M1635.2 974.6L1647.3 918.4M1316.2 1233.8L1378.3 1294.4M1201.8 1045.3L1293.1 1034.3M1363.5 910.9L1402.8 883.1M1641.3 1222.8L1658.7 1275.1M1698.7 1380.3L1727.2 1444.3"/><path stroke="#F23FD2" d="M1493.8 1019.5L1549.8 976.0M1376.7 1035.3L1498.2 1106.9M1503.8 1050.5L1511.6 860.5M1588.5 1075.0L1640.3 1145.5M1479.9 923.8L1495.6 1020.9M1188.0 1236.6L1249.2 1233.7M1632.6 974.0L1644.7 917.8M1318.1 1231.9L1380.2 1292.5M1201.4 1042.7L1292.7 1031.7M1362.7 909.9L1402.0 882.1M1696.3 1381.4L1724.8 1445.4"/><path stroke="#5A5AF2" d="M1497.0 1023.6L1553.0 980.1M1374.7 1038.6L1496.2 1110.2"/><path stroke="#4A4A4A" d="M1493.0 1018.4L1549.0 974.9M1377.3 1034.2L1498.8 1105.8M1506.3 1050.6L1514.1 860.6M1589.6 1074.3L1641.4 1144.8M1481.2 923.6L1496.9 1020.7M1188.1 1237.9L1249.3 1235.0M1631.4 973.8L1643.5 917.6M1319.0 1231.0L1381.1 1291.6M1695.1 1381.9L1723.6 1445.9"/><path stroke="#C2C2FC" stroke-width="1.7" d="M1454.0 1160.5L1499.4 1109.7M1825.4 796.3L1862.0 827.2"/><path stroke="#F23FD2" d="M1434.2 995.5L1498.6 1107.4M1451.1 1157.9L1496.5 1107.1M1531.8 992.6L1645.6 917.6M1362.6 908.5L1475.8 879.6M1587.6 1076.4L1673.8 1069.1M1414.4 1041.8L1504.2 1074.6M1410.6 1231.3L1459.2 1101.3M1375.8 1035.1L1494.8 1019.7M1827.9 793.3L1864.5 824.2"/><path stroke="#CDD22E" d="M1432.0 996.7L1496.4 1108.6M1453.1 1159.7L1498.5 1108.9M1241.4 979.1L1306.6 1002.2M1532.6 993.6L1646.4 918.6M1363.3 911.0L1476.5 882.1M1587.4 1075.2L1673.6 1067.9M1595.5 1202.5L1691.9 1258.5M1413.6 1044.2L1503.4 1077.0M1413.0 1232.2L1461.6 1102.2M1376.2 1037.7L1495.2 1022.3M1826.3 795.3L1862.9 826.2"/><path stroke="#3FC6EE" d="M1433.1 996.1L1497.5 1108.0M1452.1 1158.8L1497.5 1108.0M1241.8 977.9L1307.0 1001.0M1362.9 909.8L1476.1 880.9M1596.2 1201.4L1692.6 1257.4M1414.0 1043.0L1503.8 1075.8M1411.8 1231.7L1460.4 1101.7M1376.0 1036.4L1495.0 1021.0M1827.1 794.3L1863.7 825.2"/><path stroke="#5A5AF2" d="M1430.8 997.4L1495.2 1109.3M1413.1 1045.4L1502.9 1078.2M1376.3 1039.0L1495.3 1023.6"/><path stroke="#4A4A4A" d="M1435.4 994.8L1499.8 1106.7M1450.2 1157.1L1495.6 1106.3M1242.2 976.7L1307.4 999.8M1598.1 954.5L1722.6 963.4M1363.6 912.3L1476.8 883.4M1596.9 1200.3L1693.3 1256.3M1414.9 1040.6L1504.7 1073.4M1409.4 1230.8L1458.0 1100.8M1375.7 1033.8L1494.7 1018.4M1828.8 792.3L1865.4 823.2"/><path stroke="#C2C2FC" stroke-width="1.7" d="M1413.6 1044.9L1587.1 1077.7M1596.8 956.8L1632.6 976.6"/><path stroke="#CDD22E" d="M1826.2 796.0L1928.1 848.6M1618.8 1060.1L1645.4 918.0M1593.5 1157.4L1610.6 1110.7M1725.6 1163.4L1841.8 1125.1M1413.9 1043.6L1587.4 1076.4M1647.7 1032.9L1696.3 1066.5M1450.3 1159.5L1498.6 1284.7M1317.4 1234.3L1383.3 1240.6M1695.6 1111.6L1723.3 1162.4M1560.5 1165.0L1586.7 1131.1M1597.5 955.6L1633.3 975.4M1365.6 877.9L1440.3 819.8"/><path stroke="#F23FD2" d="M1827.4 793.7L1929.3 846.3M1591.1 1156.5L1608.2 1109.8M1724.8 1160.9L1841.0 1122.6M1414.4 1041.1L1587.9 1073.9M1648.5 1031.9L1697.1 1065.5M1452.7 1158.6L1501.0 1283.8M1317.7 1231.8L1383.6 1238.1M1697.9 1110.4L1725.6 1161.2M1558.5 1163.4L1584.7 1129.5M1598.7 953.4L1634.5 973.2M1367.2 879.9L1441.9 821.8"/><path stroke="#3FC6EE" d="M1826.8 794.9L1928.7 847.5M1620.0 1060.3L1646.6 918.2M1592.3 1156.9L1609.4 1110.2M1725.2 1162.1L1841.4 1123.8M1414.1 1042.4L1587.6 1075.2M1451.5 1159.0L1499.8 1284.2M1317.5 1233.0L1383.4 1239.3M1696.7 1111.0L1724.4 1161.8M1559.5 1164.2L1585.7 1130.3M1598.1 954.5L1633.9 974.3M1366.4 878.9L1441.1 820.8"/><path stroke="#4A4A4A" d="M1828.0 792.6L1929.9 845.2M1589.9 1156.0L1607.0 1109.3M1724.4 1159.6L1840.6 1121.3M1414.6 1039.8L1588.1 1072.6M1453.9 1158.1L1502.2 1283.3M1317.8 1230.5L1383.7 1236.8M1699.0 1109.8L1726.7 1160.6M1557.5 1162.6L1583.7 1128.7M1599.4 952.2L1635.2 972.0M1368.0 880.9L1442.7 822.8"/><path stroke="#5A5AF2" d="M1413.4 1046.2L1586.9 1079.0"/><path stroke="#C2C2FC" stroke-width="1.7" d="M1195.4 994.6L1219.2 965.8M1499.6 1166.8L1506.4 1076.0M1373.5 1036.9L1392.8 1133.5"/><path stroke="#CDD22E" d="M1198.4 997.0L1222.2 968.2M1498.3 1166.7L1505.1 1075.9M1599.3 956.1L1647.2 919.7M1762.0 861.1L1821.8 885.7M1293.1 1033.6L1433.3 996.7M1367.2 879.9L1407.2 847.2M1374.7 1036.7L1394.0 1133.3M1598.6 955.7L1685.4 923.4M1362.8 1362.3L1380.3 1293.2"/><path stroke="#3FC6EE" d="M1802.2 1346.5L1858.0 1409.7M1197.4 996.2L1221.2 967.4M1497.0 1166.6L1503.8 1075.8M1598.5 955.0L1646.4 918.6M1762.5 859.9L1822.3 884.5M1292.7 1032.4L1432.9 995.5M1366.4 878.9L1406.4 846.2M1376.0 1036.4L1395.3 1133.0M1598.1 954.5L1684.9 922.2M1927.2 870.7L1930.3 847.1"/><path stroke="#F23FD2" d="M1803.2 1345.6L1859.0 1408.8M1495.7 1166.5L1502.5 1075.7M1597.7 954.0L1645.6 917.6M1762.9 858.7L1822.7 883.3M1365.6 877.9L1405.6 845.2M1377.3 1036.1L1396.6 1132.7M1597.6 953.3L1684.4 921.0M1925.9 870.5L1929.0 846.9M1361.6 1361.9L1379.1 1292.8"/><path stroke="#4A4A4A" d="M1804.2 1344.7L1860.0 1407.9M1196.4 995.4L1220.2 966.6M1494.4 1166.4L1501.2 1075.6M1596.9 952.9L1644.8 916.5M1533.9 1206.0L1596.2 1201.4M1763.4 857.5L1823.2 882.1M1368.0 880.9L1408.0 848.2M1378.5 1035.9L1397.8 1132.5M1924.6 870.3L1927.7 846.7"/><path stroke="#C2C2FC" stroke-width="1.7" d="M1449.9 1160.1L1495.0 1234.6M1493.1 1021.3L1501.9 1076.1M1497.9 1235.8L1555.3 1219.8M1805.4 1348.0L1870.1 1289.7"/><path stroke="#3FC6EE" d="M1452.1 1158.8L1497.2 1233.3M1918.9 1046.9L1930.2 944.2M1363.1 910.4L1387.1 850.7M1495.6 1020.9L1504.4 1075.7M1591.3 1156.2L1696.3 1065.5M1592.3 1156.6L1623.3 1301.6M1503.8 1075.8L1504.4 1050.5M1497.2 1233.3L1554.6 1217.3M1307.0 1001.0L1414.0 1043.0M1802.8 1345.1L1867.5 1286.8"/><path stroke="#CDD22E" d="M1451.0 1159.5L1496.1 1234.0M1920.1 1047.1L1931.4 944.4M1364.3 910.9L1388.3 851.2M1494.4 1021.1L1503.2 1075.9M1592.1 1157.2L1697.1 1066.5M1591.1 1156.8L1622.1 1301.8M1505.1 1075.8L1505.7 1050.5M1497.5 1234.6L1554.9 1218.6M1306.5 1002.2L1413.5 1044.2M1656.8 1379.8L1696.9 1379.8M1803.6 1346.1L1868.3 1287.8"/><path stroke="#F23FD2" d="M1453.2 1158.1L1498.3 1232.6M1917.6 1046.8L1928.9 944.1M1361.9 909.9L1385.9 850.2M1496.9 1020.7L1505.7 1075.5M1593.6 1156.3L1624.6 1301.3M1502.5 1075.8L1503.1 1050.5M1496.9 1232.0L1554.3 1216.0M1307.5 999.8L1414.5 1041.8M1656.8 1381.1L1696.9 1381.1M1801.9 1344.2L1866.6 1285.9"/><path stroke="#3A3AE8" d="M1804.5 1347.0L1869.2 1288.7"/><path stroke="#5A5AF2" d="M1491.8 1021.5L1500.6 1076.3M1506.4 1075.9L1507.0 1050.6"/><path stroke="#4A4A4A" d="M1454.3 1157.5L1499.4 1232.0M1921.4 1047.2L1932.7 944.5M1498.2 1020.5L1507.0 1075.3M1589.8 1157.1L1620.8 1302.1M1220.7 967.0L1241.8 977.9M1501.2 1075.7L1501.8 1050.4M1496.5 1230.8L1553.9 1214.8M1656.8 1382.4L1696.9 1382.4M1801.0 1343.2L1865.7 1284.9"/><path stroke="#C2C2FC" stroke-width="1.7" d="M1499.6 1234.2L1541.2 1126.2M1317.6 1228.5L1411.2 1227.6M1317.6 1229.8L1411.2 1228.9M1317.6 1235.0L1411.2 1234.1M1317.6 1236.3L1411.2 1235.4M1393.6 977.4L1471.4 1012.4"/><path stroke="#F23FD2" d="M1315.9 873.7L1362.3 911.4M1407.1 846.1L1476.6 880.9M1496.0 1232.8L1537.6 1124.8M1307.5 1322.5L1315.7 1232.2M1329.5 1108.5L1359.6 1147.6M1890.7 1185.9L1933.0 1148.6M1529.5 934.9L1598.1 954.5M1384.5 1058.0L1432.1 995.3M1317.6 1232.4L1411.2 1231.5M1472.3 1009.4L1532.0 992.5M1395.2 973.8L1473.0 1008.8"/><path stroke="#CDD22E" d="M1317.5 871.7L1363.9 909.4M1407.7 845.0L1477.2 879.8M1498.4 1233.8L1540.0 1125.8M1310.0 1322.8L1318.2 1232.5M1327.5 1110.1L1357.6 1149.2M1889.0 1183.9L1931.3 1146.6M1529.9 933.7L1598.5 953.3M1386.5 1059.6L1434.1 996.9M1545.8 1056.0L1646.5 918.5M1394.2 976.2L1472.0 1011.2"/><path stroke="#3FC6EE" d="M1316.7 872.7L1363.1 910.4M1406.5 847.3L1476.0 882.1M1497.2 1233.3L1538.8 1125.3M1308.8 1322.6L1317.0 1232.3M1328.5 1109.3L1358.6 1148.4M1889.9 1184.9L1932.2 1147.6M1385.5 1058.8L1433.1 996.1M1317.6 1233.7L1411.2 1232.8M1544.8 1055.2L1645.5 917.7M1472.7 1010.6L1532.4 993.7M1394.7 975.0L1472.5 1010.0"/><path stroke="#5A5AF2" d="M1387.6 1060.4L1435.2 997.7M1473.0 1011.9L1532.7 995.0"/><path stroke="#4A4A4A" d="M1405.9 848.4L1475.4 883.2M1494.8 1232.4L1536.4 1124.4M1311.3 1322.9L1319.5 1232.6M1330.5 1107.7L1360.6 1146.8M1891.6 1186.9L1933.9 1149.6M1529.1 936.1L1597.7 955.7M1383.4 1057.2L1431.0 994.5M1317.6 1231.1L1411.2 1230.2M1472.0 1008.1L1531.7 991.2M1395.8 972.6L1473.6 1007.6"/><path stroke="#CDD22E" d="M1316.6 874.0L1476.2 882.8M1433.2 908.3L1442.1 821.4M1242.0 908.0L1375.5 1036.9M1368.7 878.9L1396.6 974.5M1503.8 1052.4L1586.9 1077.7M1639.6 1146.9L1697.6 1111.3M1338.2 1185.2L1382.0 1239.9M1521.7 1073.0L1583.9 1131.3M1363.0 908.5L1432.5 906.3M1841.7 1121.3L1933.1 1146.2"/><path stroke="#F23FD2" d="M1316.8 871.4L1476.4 880.2M1432.0 908.1L1440.9 821.2M1243.0 907.0L1376.5 1035.9M1367.4 879.2L1395.3 974.8M1504.6 1049.9L1587.7 1075.2M1639.0 1145.7L1697.0 1110.1M1340.2 1183.6L1384.0 1238.3M1317.6 1232.4L1395.3 1133.0M1523.4 1071.1L1585.6 1129.4M1363.1 909.8L1432.6 907.6M1841.0 1123.8L1932.4 1148.7"/><path stroke="#3FC6EE" d="M1316.7 872.7L1476.3 881.5M1842.7 1149.9L1920.0 1047.4M1430.7 908.0L1439.6 821.1M1366.2 879.6L1394.1 975.2M1504.2 1051.1L1587.3 1076.4M1339.2 1184.4L1383.0 1239.1M1318.6 1233.2L1396.3 1133.8M1522.6 1072.1L1584.8 1130.4M1363.1 911.0L1432.6 908.8M1841.4 1122.6L1932.8 1147.5"/><path stroke="#4A4A4A" d="M1841.7 1149.1L1919.0 1046.6M1434.5 908.4L1443.4 821.5M1364.9 879.9L1392.8 975.5M1505.0 1048.6L1588.1 1073.9M1341.2 1182.8L1385.0 1237.5M1316.6 1231.6L1394.3 1132.2M1524.3 1070.2L1586.5 1128.5M1363.2 912.3L1432.7 910.1M1840.7 1125.1L1932.1 1150.0"/><path stroke="#C2C2FC" stroke-width="1.7" d="M1362.4 1265.9L1377.4 1294.2M1531.2 935.9L1567.8 874.0M1675.7 1310.0L1728.4 1353.5M1806.2 1347.0L1825.7 1304.8"/><path stroke="#CDD22E" d="M1510.1 1301.6L1515.1 1383.6M1363.6 1265.3L1378.6 1293.6M1530.1 935.2L1566.7 873.3M1725.2 1163.4L1842.4 1151.4M1361.8 910.5L1374.7 1036.5M1639.8 1146.7L1697.2 1066.4M1618.0 1058.8L1646.7 1031.0M1677.3 1308.0L1730.0 1351.5M1414.6 1044.1L1473.1 1011.1M1245.2 1188.6L1316.9 1233.5M1803.8 1345.9L1823.3 1303.7"/><path stroke="#3FC6EE" d="M1511.4 1301.5L1516.4 1383.5M1364.7 1264.7L1379.7 1293.0M1528.9 934.6L1565.5 872.7M1725.1 1162.1L1842.3 1150.1M1364.4 910.3L1377.3 1036.3M1619.9 1060.7L1648.6 1032.9M1414.0 1043.0L1472.5 1010.0M1245.9 1187.5L1317.6 1232.4M1802.6 1345.3L1822.1 1303.1"/><path stroke="#F23FD2" d="M1512.6 1301.5L1517.6 1383.5M1309.8 1323.2L1411.6 1232.0M1365.8 1264.1L1380.8 1292.4M1527.8 933.9L1564.4 872.0M1724.9 1160.9L1842.1 1148.9M1363.1 910.4L1376.0 1036.4M1638.8 1145.9L1696.2 1065.6M1618.9 1059.7L1647.6 1031.9M1676.5 1309.0L1729.2 1352.5M1413.4 1041.9L1471.9 1008.9M1246.6 1186.4L1318.3 1231.3M1801.4 1344.8L1820.9 1302.6"/><path stroke="#5A5AF2" d="M1415.3 1045.3L1473.8 1012.3"/><path stroke="#3A3AE8" d="M1805.0 1346.4L1824.5 1304.2"/><path stroke="#4A4A4A" d="M1513.9 1301.4L1518.9 1383.4M1309.0 1322.2L1410.8 1231.0M1367.0 1263.5L1382.0 1291.8M1724.8 1159.6L1842.0 1147.6M1620.8 1061.6L1649.5 1033.8M1412.7 1040.7L1471.2 1007.7M1800.2 1344.2L1819.7 1302.0"/><path stroke="#C2C2FC" stroke-width="1.7" d="M1826.3 796.8L1916.6 826.3M1760.9 857.5L1825.3 792.5"/><path stroke="#3FC6EE" d="M1698.6 1176.5L1758.9 1205.0M1827.5 793.1L1917.8 822.6M1366.2 879.3L1380.1 794.0M1306.4 1000.9L1312.3 942.4M1545.0 1056.2L1587.2 1076.4M1725.0 1161.5L1758.9 1205.0M1634.5 974.1L1648.7 1032.2M1763.6 860.2L1828.0 795.2M1472.5 1010.0L1495.0 1021.0M1329.6 1108.8L1340.3 1183.9M1623.1 1302.2L1659.7 1275.4"/><path stroke="#CDD22E" d="M1698.0 1177.7L1758.3 1206.2M1827.9 791.8L1918.2 821.3M1641.5 1222.1L1724.6 1161.0M1364.9 879.1L1378.8 793.8M1305.1 1000.8L1311.0 942.3M1544.5 1057.4L1586.7 1077.6M1724.0 1162.3L1757.9 1205.8M1633.3 974.5L1647.5 1032.6M1764.5 861.1L1828.9 796.1M1471.9 1011.2L1494.4 1022.2M1328.4 1109.0L1339.1 1184.1M1623.9 1303.3L1660.5 1276.5"/><path stroke="#F23FD2" d="M1699.2 1175.3L1759.5 1203.8M1827.1 794.3L1917.4 823.8M1642.3 1223.1L1725.4 1162.0M1367.4 879.5L1381.3 794.2M1307.6 1001.1L1313.5 942.6M1545.6 1055.0L1587.8 1075.2M1762.7 859.3L1827.1 794.3M1473.1 1008.8L1495.6 1019.8M1622.3 1301.2L1658.9 1274.4"/><path stroke="#5A5AF2" d="M1471.4 1012.3L1493.9 1023.3"/><path stroke="#4A4A4A" d="M1826.7 795.5L1917.0 825.0M1368.7 879.7L1382.6 794.4M1308.9 1001.2L1314.8 942.7M1546.1 1053.8L1588.3 1074.0M1726.0 1160.7L1759.9 1204.2M1761.8 858.4L1826.2 793.4M1473.6 1007.7L1496.1 1018.7M1621.5 1300.1L1658.1 1273.3"/><path stroke="#C2C2FC" stroke-width="1.7" d="M1404.4 847.7L1430.2 909.2"/><path stroke="#F23FD2" d="M1413.7 1041.7L1494.7 1019.7M1822.5 883.9L1917.4 823.8M1585.8 1129.7L1592.3 1156.5M1266.3 1352.5L1316.4 1231.9M1242.8 977.0L1293.9 1032.1M1408.0 846.2L1433.8 907.7M1841.8 1150.0L1889.9 1185.9M1425.5 1102.8L1497.6 1106.7M1395.9 1132.9L1411.8 1231.4M1413.7 1042.4L1550.7 976.9M1376.1 1035.8L1504.5 1049.9M1619.4 1060.2L1673.7 1068.5"/><path stroke="#CDD22E" d="M1414.3 1044.3L1495.3 1022.3M1583.3 1130.4L1589.8 1157.2M1268.7 1353.5L1318.8 1232.9M1240.8 978.8L1291.9 1033.9M1405.6 847.2L1431.4 908.7M1843.4 1147.9L1891.5 1183.8M1425.3 1105.4L1497.4 1109.3M1393.4 1133.3L1409.3 1231.8M1619.6 1058.9L1673.9 1067.2"/><path stroke="#3FC6EE" d="M1414.0 1043.0L1495.0 1021.0M1823.2 885.0L1918.1 824.9M1584.6 1130.1L1591.1 1156.9M1267.5 1353.0L1317.6 1232.4M1241.8 977.9L1292.9 1033.0M1406.8 846.7L1432.6 908.2M1842.6 1149.0L1890.7 1184.9M1425.4 1104.1L1497.5 1108.0M1394.7 1133.1L1410.6 1231.6M1414.3 1043.6L1551.3 978.1M1375.9 1037.0L1504.3 1051.1"/><path stroke="#5A5AF2" d="M1414.7 1045.5L1495.7 1023.5M1425.3 1106.7L1497.4 1110.6M1414.8 1044.8L1551.8 979.3M1375.8 1038.3L1504.2 1052.4"/><path stroke="#4A4A4A" d="M1413.3 1040.5L1494.3 1018.5M1821.8 882.8L1916.7 822.7M1587.1 1129.4L1593.6 1156.2M1409.2 845.7L1435.0 907.2M1841.0 1151.1L1889.1 1187.0M1425.5 1101.5L1497.6 1105.4M1397.2 1132.7L1413.1 1231.2M1413.2 1041.2L1550.2 975.7M1376.2 1034.5L1504.6 1048.6M1619.2 1061.5L1673.5 1069.8"/><path stroke="#C2C2FC" stroke-width="1.7" d="M1547.6 1056.8L1600.4 955.7M1374.4 1037.5L1423.8 1105.2M1434.0 910.4L1477.7 883.7M1821.2 1306.3L1923.0 1358.3"/><path stroke="#CDD22E" d="M1318.2 1232.6L1376.6 1036.6M1316.5 1234.0L1363.6 1266.3M1433.4 996.7L1521.5 955.9M1546.5 1056.2L1599.3 955.1M1265.6 1352.9L1268.6 1305.7M1539.2 1127.2L1609.2 1111.9M1375.5 1036.8L1424.9 1104.5M1433.3 909.3L1477.0 882.6M1822.4 1304.0L1924.2 1356.0M1839.9 1123.2L1840.9 1149.5"/><path stroke="#F23FD2" d="M1318.0 1231.9L1365.1 1264.2M1432.8 995.5L1520.9 954.7M1544.1 1055.0L1596.9 953.9M1268.1 1353.0L1271.1 1305.8M1538.7 1124.7L1608.7 1109.4M1377.6 1035.3L1427.0 1103.0M1307.0 1001.0L1344.7 1116.8M1431.9 907.1L1475.6 880.4M1823.6 1301.7L1925.4 1353.7M1842.5 1123.2L1843.5 1149.5"/><path stroke="#3FC6EE" d="M1317.0 1232.2L1375.4 1036.2M1317.2 1232.9L1364.3 1265.2M1545.3 1055.6L1598.1 954.5M1266.9 1353.0L1269.9 1305.8M1538.9 1125.9L1608.9 1110.6M1376.5 1036.0L1425.9 1103.7M1432.6 908.2L1476.3 881.5M1823.0 1302.8L1924.8 1354.8M1841.2 1123.2L1842.2 1149.5"/><path stroke="#4A4A4A" d="M1318.7 1230.8L1365.8 1263.1M1432.3 994.3L1520.4 953.5M1543.0 1054.4L1595.8 953.3M1269.4 1353.1L1272.4 1305.9M1538.4 1123.4L1608.4 1108.1M1378.6 1034.5L1428.0 1102.2M1431.2 906.0L1474.9 879.3M1824.2 1300.5L1926.0 1352.5M1309.4 1322.7L1325.6 1336.8"/><path stroke="#5A5AF2" d="M1433.9 997.9L1522.0 957.1M1373.4 1038.3L1422.8 1106.0"/><path stroke="#3A3AE8" d="M1821.8 1305.1L1923.6 1357.1"/><path stroke="#C2C2FC" stroke-width="1.7" d="M1862.2 827.3L1924.4 872.6M1905.6 1395.5L1914.6 1309.2M1866.5 1290.2L1910.0 1311.8"/><path stroke="#CDD22E" d="M1439.8 822.3L1474.6 882.5M1862.9 826.3L1925.1 871.6M1366.3 880.6L1432.1 909.4M1212.8 1202.0L1287.6 1121.6M1903.0 1395.3L1912.0 1309.0M1316.9 870.8L1402.6 880.7M1867.6 1287.9L1911.1 1309.5M1618.8 1059.9L1684.3 921.9"/><path stroke="#3FC6EE" d="M1440.9 821.6L1475.7 881.8M1863.7 825.2L1925.9 870.5M1366.8 879.4L1432.6 908.2M1210.8 1200.2L1285.6 1119.8M1901.8 1395.1L1910.8 1308.8M1316.6 873.3L1402.3 883.2M1868.2 1286.7L1911.7 1308.3M1821.5 1303.8L1857.8 1409.2"/><path stroke="#F23FD2" d="M1442.1 821.0L1476.9 881.2M1864.5 824.1L1926.7 869.4M1367.3 878.2L1433.1 907.0M1211.8 1201.1L1286.6 1120.7M1900.5 1395.0L1909.5 1308.7M1316.8 872.1L1402.5 882.0M1868.8 1285.6L1912.3 1307.2M1822.7 1303.4L1859.0 1408.8M1267.9 1353.5L1411.6 1232.0M1620.0 1060.5L1685.5 922.5"/><path stroke="#3A3AE8" d="M1904.3 1395.4L1913.3 1309.1M1867.0 1289.0L1910.5 1310.6"/><path stroke="#4A4A4A" d="M1339.7 1184.0L1395.3 1133.0M1443.2 820.3L1478.0 880.5M1865.2 823.1L1927.4 868.4M1899.2 1394.9L1908.2 1308.6M1316.5 874.6L1402.2 884.5M1869.3 1284.4L1912.8 1306.0M1823.9 1303.0L1860.2 1408.4M1267.1 1352.5L1410.8 1231.0"/><path stroke="#C2C2FC" stroke-width="1.7" d="M1800.2 1346.7L1815.9 1389.2M1821.0 1390.6L1913.5 1311.4M1415.8 1043.7L1434.9 996.8M1123.6 1019.4L1202.5 1040.9"/><path stroke="#3FC6EE" d="M1503.8 1050.4L1526.4 894.8M1803.8 1345.4L1819.5 1387.9M1818.5 1387.6L1911.0 1308.4M1409.9 1231.6L1420.4 1369.2M1413.4 1042.8L1432.5 995.9M1859.0 1408.8L1911.4 1308.9M1122.2 1024.4L1201.1 1045.9M1292.7 1033.6L1385.3 1059.4M1376.0 1036.4L1472.5 1010.0M1366.0 877.6L1455.3 838.7"/><path stroke="#CDD22E" d="M1505.0 1050.6L1527.6 895.0M1326.2 1337.1L1365.3 1265.0M1802.6 1345.8L1818.3 1388.3M1819.3 1388.6L1911.8 1309.4M1412.5 1231.4L1423.0 1369.0M1414.6 1043.2L1433.7 996.3M1860.2 1409.4L1912.6 1309.5M1121.8 1025.6L1200.7 1047.1M1376.3 1037.7L1472.8 1011.3M1367.1 880.0L1456.4 841.1"/><path stroke="#F23FD2" d="M1502.5 1050.2L1525.1 894.6M1325.0 1336.5L1364.1 1264.4M1805.0 1344.9L1820.7 1387.4M1817.6 1386.6L1910.1 1307.4M1411.2 1231.5L1421.7 1369.1M1412.2 1042.3L1431.3 995.4M1857.8 1408.2L1910.2 1308.3M1122.5 1023.1L1201.4 1044.6M1375.7 1035.1L1472.2 1008.7M1366.5 878.8L1455.8 839.9"/><path stroke="#3A3AE8" d="M1801.4 1346.3L1817.1 1388.8M1820.2 1389.6L1912.7 1310.4"/><path stroke="#5A5AF2" d="M1417.0 1044.2L1436.1 997.3M1123.2 1020.6L1202.1 1042.1M1376.7 1038.9L1473.2 1012.5"/><path stroke="#4A4A4A" d="M1506.3 1050.8L1528.9 895.2M1806.2 1344.5L1821.9 1387.0M1816.8 1385.6L1909.3 1306.4M1411.0 1041.8L1430.1 994.9M1122.9 1021.9L1201.8 1043.4M1293.1 1032.4L1385.7 1058.2M1375.3 1033.9L1471.8 1007.5M1367.6 881.2L1456.9 842.3"/><path stroke="#C2C2FC" stroke-width="1.7" d="M1647.9 919.8L1682.4 880.9M1685.9 924.6L1709.3 914.8M1282.2 724.9L1329.1 767.6"/><path stroke="#F23FD2" d="M1316.3 1232.1L1343.4 1116.5M1608.2 1109.9L1618.8 1060.1M1387.2 851.3L1456.2 841.1M1645.0 917.2L1679.5 878.3M1432.6 995.7L1478.8 923.5M1472.7 1175.3L1501.0 1283.8M1648.5 1032.9L1698.7 991.0M1433.9 908.2L1434.4 996.1M1684.4 921.0L1707.8 911.2"/><path stroke="#CDD22E" d="M1318.9 1232.7L1346.0 1117.1M1610.7 1110.4L1621.3 1060.6M1386.8 848.8L1455.8 838.6M1859.8 1409.8L1925.3 1356.4M1647.0 919.0L1681.5 880.1M1434.7 997.2L1480.9 925.0M1470.2 1176.0L1498.5 1284.5M1431.3 908.2L1431.8 996.1M1685.4 923.4L1708.8 913.6M1284.8 722.1L1331.7 764.8"/><path stroke="#3FC6EE" d="M1317.6 1232.4L1344.7 1116.8M1609.4 1110.1L1620.0 1060.3M1387.0 850.1L1456.0 839.9M1859.0 1408.8L1924.5 1355.4M1646.0 918.1L1680.5 879.2M1433.6 996.5L1479.8 924.3M1471.5 1175.7L1499.8 1284.2M1432.6 908.2L1433.1 996.1M1684.9 922.2L1708.3 912.4M1283.9 723.0L1330.8 765.7"/><path stroke="#4A4A4A" d="M1606.9 1109.6L1617.5 1059.8M1387.4 852.6L1456.4 842.4M1858.2 1407.8L1923.7 1354.4M1644.1 916.4L1678.6 877.5M1431.5 995.0L1477.7 922.8M1474.0 1175.0L1502.3 1283.5M1647.7 1031.9L1697.9 990.0M1435.2 908.2L1435.7 996.1M1430.0 908.2L1430.5 996.1M1683.9 919.8L1707.3 910.0M1283.1 724.0L1330.0 766.7"/><path stroke="#C2C2FC" stroke-width="1.7" d="M1499.4 1108.2L1506.3 1050.7M1054.2 1007.7L1121.9 1025.6M1863.8 827.8L1917.5 826.4"/><path stroke="#CDD22E" d="M1590.7 1157.5L1640.9 1223.4M1679.0 880.5L1706.8 913.7M1498.1 1108.1L1505.0 1050.6M1547.2 1055.7L1552.9 977.6M1493.7 1021.0L1496.2 1108.0M1055.8 1001.5L1123.5 1019.4M1822.6 884.5L1926.0 871.1M1863.7 826.5L1917.4 825.1M1347.7 1088.1L1393.9 1134.4M1916.1 824.0L1924.6 870.7M1270.8 1306.4L1411.5 1232.1"/><path stroke="#F23FD2" d="M1592.7 1155.9L1642.9 1221.8M1681.0 878.8L1708.8 912.0M1495.6 1107.8L1502.5 1050.3M1544.7 1055.6L1550.4 977.5M1496.3 1021.0L1498.8 1108.0M1055.2 1004.0L1122.9 1021.9M1863.7 823.9L1917.4 822.5M1349.6 1086.2L1395.8 1132.5M1918.7 823.6L1927.2 870.3M1270.2 1305.2L1410.9 1230.9"/><path stroke="#3FC6EE" d="M1591.7 1156.7L1641.9 1222.6M1680.0 879.6L1707.8 912.8M1496.9 1107.9L1503.8 1050.4M1545.9 1055.6L1551.6 977.5M1495.0 1021.0L1497.5 1108.0M1055.5 1002.7L1123.2 1020.6M1822.4 883.3L1925.8 869.9M1863.7 825.2L1917.4 823.8M1348.6 1087.2L1394.8 1133.5M1917.4 823.8L1925.9 870.5"/><path stroke="#4A4A4A" d="M1682.0 877.9L1709.8 911.1M1494.3 1107.6L1501.2 1050.1M1543.4 1055.5L1549.1 977.4M1497.6 1020.9L1500.1 1107.9M1054.8 1005.2L1122.5 1023.1M1863.6 822.6L1917.3 821.2M1350.5 1085.3L1396.7 1131.6"/><path stroke="#5A5AF2" d="M1500.7 1108.4L1507.6 1050.9M1492.4 1021.1L1494.9 1108.1M1054.5 1006.5L1122.2 1024.4"/><path stroke="#CDD22E" d="M1630.2 882.4L1697.2 991.2M1376.6 1036.7L1433.2 908.5M1818.0 1389.8L1858.1 1410.5M1641.2 1223.7L1691.9 1258.5M1407.6 847.7L1442.3 822.3M1261.7 1101.8L1344.4 1118.1M1474.4 1010.5L1514.1 861.0M1363.4 1264.9L1377.1 1344.0M1918.3 1047.5L1926.8 1069.3M1211.2 1203.0L1317.0 1234.3M1635.3 975.7L1686.3 923.6"/><path stroke="#3FC6EE" d="M1631.3 881.7L1698.3 990.5M1374.2 1035.6L1430.8 907.4M1818.6 1388.7L1858.7 1409.4M1641.9 1222.6L1692.6 1257.4M1406.8 846.7L1441.5 821.3M1262.0 1100.5L1344.7 1116.8M1473.1 1010.2L1512.8 860.7M1364.7 1264.7L1378.4 1343.8M1919.5 1047.0L1928.0 1068.8M1211.6 1201.7L1317.4 1233.0M1634.4 974.8L1685.4 922.7"/><path stroke="#F23FD2" d="M1632.4 881.0L1699.4 989.8M1375.4 1036.1L1432.0 907.9M1819.2 1387.5L1859.3 1408.2M1406.0 845.7L1440.7 820.3M1408.3 848.8L1443.0 823.4M1262.3 1099.2L1345.0 1115.5M1471.9 1009.8L1511.6 860.3M1366.0 1264.5L1379.7 1343.6M1212.0 1200.5L1317.8 1231.8M1633.4 973.8L1684.4 921.7"/><path stroke="#4A4A4A" d="M1377.8 1037.2L1434.4 909.0M1819.8 1386.4L1859.9 1407.1M1642.6 1221.5L1693.3 1256.3M1405.3 844.6L1440.0 819.2M1470.6 1009.5L1510.3 860.0M1920.7 1046.5L1929.2 1068.3M1212.4 1199.2L1318.2 1230.5M1632.5 972.9L1683.5 920.8"/><path stroke="#3FC6EE" d="M1379.0 1344.0L1411.8 1231.7M1406.8 846.7L1456.1 840.5M1551.3 978.1L1598.4 955.1M1303.5 1372.7L1364.7 1264.7M1366.8 879.4L1387.1 850.7M1684.9 922.2L1722.6 963.4M1270.2 1306.4L1309.1 1323.3M1441.0 821.7L1455.6 840.9M1249.2 1233.1L1364.7 1264.7M1931.2 943.8L2001.8 1007.1M1596.2 1201.4L1725.0 1161.5"/><path stroke="#CDD22E" d="M1380.3 1344.3L1413.1 1232.0M1406.6 845.4L1455.9 839.2M1551.9 979.3L1599.0 956.3M1304.6 1373.3L1365.8 1265.3M1367.9 880.2L1388.2 851.5M1683.9 923.1L1721.6 964.3M1269.7 1307.6L1308.6 1324.5M1248.9 1234.4L1364.4 1266.0M1932.1 942.8L2002.7 1006.1M1596.6 1202.6L1725.4 1162.7"/><path stroke="#F23FD2" d="M1377.8 1343.6L1410.6 1231.3M1407.0 848.0L1456.3 841.8M1550.7 976.9L1597.8 953.9M1302.4 1372.1L1363.6 1264.1M1365.7 878.6L1386.0 849.9M1685.9 921.3L1723.6 962.5M1270.8 1305.2L1309.7 1322.1M1249.5 1231.8L1365.0 1263.4M1930.4 944.8L2001.0 1008.1M1595.8 1200.2L1724.6 1160.3"/><path stroke="#4A4A4A" d="M1376.5 1343.3L1409.3 1231.0M1550.1 975.7L1597.2 952.7M1271.3 1304.0L1310.2 1320.9M1442.0 820.9L1456.6 840.1M1929.5 945.8L2000.1 1009.1"/><path stroke="#C2C2FC" stroke-width="1.7" d="M1404.2 847.2L1430.5 996.6M1373.6 1037.4L1383.1 1059.8"/><path stroke="#F23FD2" d="M1539.4 1125.2L1555.2 1217.2M1455.8 1229.3L1455.9 1319.2M1262.1 1099.9L1329.1 1108.3M1385.5 1058.8L1395.3 1133.0M1270.0 1305.4L1317.1 1232.0M1393.6 974.4L1431.5 907.6M1408.1 846.5L1434.4 995.9M1919.2 1046.4L2001.1 1007.0M1377.2 1035.9L1386.7 1058.3"/><path stroke="#CDD22E" d="M1536.9 1125.6L1552.7 1217.6M1237.9 1129.5L1245.9 1187.5M1454.6 1229.3L1454.7 1319.2M1261.9 1101.1L1328.9 1109.5M1272.1 1306.9L1319.2 1233.5M1395.8 975.6L1433.7 908.8M1405.5 846.9L1431.8 996.3M1920.3 1048.8L2002.2 1009.4M1312.4 942.9L1375.5 1036.8M1374.8 1036.9L1384.3 1059.3"/><path stroke="#3FC6EE" d="M1538.2 1125.4L1554.0 1217.4M1384.2 1059.0L1394.0 1133.2M1271.0 1306.2L1318.1 1232.8M1394.7 975.0L1432.6 908.2M1406.8 846.7L1433.1 996.1M1919.8 1047.6L2001.7 1008.2M1313.4 942.1L1376.5 1036.0M1376.0 1036.4L1385.5 1058.8"/><path stroke="#55DD44" d="M1239.2 1129.3L1247.2 1187.3"/><path stroke="#4A4A4A" d="M1540.7 1125.0L1556.5 1217.0M1236.6 1129.7L1244.6 1187.7M1386.8 1058.6L1396.6 1132.8M1268.9 1304.7L1316.0 1231.3M1409.4 846.2L1435.7 995.6M1918.7 1045.2L2000.6 1005.8M1378.4 1035.4L1387.9 1057.8"/><path stroke="#C2C2FC" stroke-width="1.7" d="M1802.9 1348.8L1924.2 1358.6"/><path stroke="#CDD22E" d="M1267.7 1353.6L1325.8 1337.4M1803.1 1346.2L1924.4 1356.0M1311.6 942.4L1315.4 872.6M1676.2 1310.3L1754.4 1326.1M1316.6 873.3L1366.7 880.0M1316.5 873.3L1432.4 908.8M1364.1 1266.6L1443.9 1293.0M1617.5 1059.9L1632.0 974.0M1638.4 1148.0L1697.7 1178.2M1328.3 1110.7L1394.6 1134.8"/><path stroke="#F23FD2" d="M1267.3 1352.4L1325.4 1336.2M1803.4 1343.7L1924.7 1353.5M1388.3 850.3L1434.3 995.7M1317.0 870.8L1367.1 877.5M1316.9 872.1L1432.8 907.6M1364.9 1264.1L1444.7 1290.5M1620.0 1060.3L1634.5 974.4M1639.6 1145.7L1698.9 1175.9M1329.2 1108.3L1395.5 1132.4"/><path stroke="#3FC6EE" d="M1803.3 1345.0L1924.6 1354.8M1387.1 850.7L1433.1 996.1M1312.9 942.5L1316.7 872.7M1676.5 1309.0L1754.7 1324.8M1316.8 872.1L1366.9 878.8M1317.3 870.8L1433.2 906.3M1364.5 1265.3L1444.3 1291.7M1618.8 1060.1L1633.3 974.2M1639.0 1146.9L1698.3 1177.1M1328.8 1109.5L1395.1 1133.6"/><path stroke="#4A4A4A" d="M1803.5 1342.4L1924.8 1352.2M1385.9 851.1L1431.9 996.5M1314.2 942.6L1318.0 872.8M1676.8 1307.7L1755.0 1323.5M1316.4 874.6L1366.5 881.3M1316.1 874.6L1432.0 910.1M1365.3 1262.8L1445.1 1289.2M1621.3 1060.5L1635.8 974.6M1640.2 1144.6L1699.5 1174.8M1329.7 1107.1L1396.0 1131.2"/><path stroke="#3A3AE8" d="M1803.0 1347.5L1924.3 1357.3"/><path stroke="#C2C2FC" stroke-width="1.7" d="M1533.9 995.1L1552.7 979.5M1861.1 825.3L1862.1 873.4M1801.7 1348.5L1900.9 1398.1"/><path stroke="#CDD22E" d="M1556.5 1217.5L1560.9 1164.0M1533.0 994.1L1551.8 978.5M1862.4 825.2L1863.4 873.3M1361.5 909.3L1405.2 845.6M1386.5 851.0L1401.8 882.9M1683.0 922.6L1696.4 990.9M1609.4 1111.2L1697.3 1067.2M1522.9 1072.9L1587.4 1077.1M1328.5 766.8L1364.9 880.0M1501.5 1285.6L1563.7 1244.0M1802.9 1346.2L1902.1 1395.8"/><path stroke="#3FC6EE" d="M1555.2 1217.4L1559.6 1163.9M1532.2 993.1L1551.0 977.5M1863.7 825.2L1864.7 873.3M1363.6 910.8L1407.3 847.1M1387.7 850.4L1403.0 882.3M1684.3 922.3L1697.7 990.6M1523.0 1071.6L1587.5 1075.8M1329.8 766.4L1366.2 879.6M1500.8 1284.5L1563.0 1242.9M1803.5 1345.0L1902.7 1394.6"/><path stroke="#F23FD2" d="M1554.0 1217.2L1558.4 1163.7M1531.4 992.1L1550.2 976.5M1865.0 825.2L1866.0 873.3M1362.6 910.0L1406.3 846.3M1388.9 849.9L1404.2 881.8M1685.5 922.1L1698.9 990.4M1608.8 1110.0L1696.7 1066.0M1523.1 1070.3L1587.6 1074.5M1331.0 766.0L1367.4 879.2M1500.0 1283.5L1562.2 1241.9M1804.1 1343.9L1903.3 1393.5"/><path stroke="#5A5AF2" d="M1522.8 1074.2L1587.3 1078.4"/><path stroke="#3A3AE8" d="M1802.3 1347.3L1901.5 1396.9"/><path stroke="#4A4A4A" d="M1552.7 1217.1L1557.1 1163.6M1530.5 991.1L1549.3 975.5M1866.3 825.1L1867.3 873.2M1364.7 911.5L1408.4 847.8M1385.3 851.5L1400.6 883.4M1686.8 921.8L1700.2 990.1M1608.2 1108.8L1696.1 1064.8M1523.2 1069.0L1587.7 1073.2M1332.3 765.6L1368.7 878.8M1499.3 1282.4L1561.5 1240.8M1804.7 1342.7L1903.9 1392.3"/><path stroke="#C2C2FC" stroke-width="1.7" d="M1862.8 1347.1L1899.8 1397.1M1313.7 940.7L1433.9 994.3M1360.1 1150.4L1396.3 1135.4"/><path stroke="#3FC6EE" d="M1990.3 1065.9L2000.8 1007.5M1432.6 908.2L1521.2 955.3M1585.0 1130.5L1639.1 1146.9M1865.9 1344.8L1902.9 1394.8M1312.6 943.1L1432.8 996.7M1430.8 907.6L1454.3 839.9M1267.9 1353.5L1365.1 1265.2M1359.1 1148.0L1395.3 1133.0M1329.0 1108.3L1425.4 1103.5M1698.3 990.5L1708.3 912.4"/><path stroke="#CDD22E" d="M1989.0 1065.7L1999.5 1007.3M1432.0 909.3L1520.6 956.4M1584.6 1131.8L1638.7 1148.2M1864.9 1345.6L1901.9 1395.6M1312.1 944.3L1432.3 997.9M1433.2 908.4L1456.7 840.7M1268.8 1354.4L1366.0 1266.1M1359.6 1149.2L1395.8 1134.2M1329.0 1109.5L1425.4 1104.7M1699.6 990.7L1709.6 912.6M1565.8 873.6L1645.7 918.7"/><path stroke="#F23FD2" d="M1991.5 1066.1L2002.0 1007.7M1433.2 907.1L1521.8 954.2M1585.4 1129.3L1639.5 1145.7M1867.0 1344.0L1904.0 1394.0M1313.2 941.9L1433.4 995.5M1432.0 908.0L1455.5 840.3M1267.1 1352.5L1364.3 1264.2M1358.6 1146.8L1394.8 1131.8M1697.0 990.3L1707.0 912.2M1566.4 872.4L1646.3 917.5"/><path stroke="#3A3AE8" d="M1863.8 1346.4L1900.8 1396.4"/><path stroke="#4A4A4A" d="M1992.8 1066.3L2003.3 1007.9M1585.8 1128.0L1639.9 1144.4M1868.0 1343.3L1905.0 1393.3M1434.4 908.8L1457.9 841.1M1266.2 1351.6L1363.4 1263.3M1358.1 1145.6L1394.3 1130.6"/><path stroke="#C2C2FC" stroke-width="1.7" d="M1536.5 1206.2L1541.4 1125.5M1864.8 875.9L1926.0 873.1M1866.3 825.5L1872.9 760.1"/><path stroke="#F23FD2" d="M1434.3 907.3L1506.1 1049.6M1403.1 881.5L1521.9 954.2M1364.3 1264.2L1410.8 1231.0M1270.2 1305.2L1364.4 1264.1M1187.2 1235.0L1245.1 1186.5M1532.6 1205.9L1537.5 1125.2M1864.6 872.0L1925.8 869.2M1379.1 1292.7L1410.6 1231.2M1863.7 825.2L1870.3 759.8M1433.0 907.0L1479.7 922.7M1597.9 953.9L1708.1 911.8"/><path stroke="#CDD22E" d="M1432.0 908.5L1503.8 1050.8M1401.7 883.7L1520.5 956.4M1365.8 1266.3L1412.3 1233.1M1271.3 1307.6L1365.5 1266.5M1188.8 1237.0L1246.7 1188.5M1535.2 1206.1L1540.1 1125.4M1864.8 874.6L1926.0 871.8M1381.4 1293.9L1412.9 1232.4M1861.1 824.9L1867.7 759.5M1432.2 909.4L1478.9 925.1M1598.3 955.1L1708.5 913.0"/><path stroke="#3FC6EE" d="M1433.2 907.9L1505.0 1050.2M1402.4 882.6L1521.2 955.3M1365.1 1265.2L1411.6 1232.0M1270.8 1306.4L1365.0 1265.3M1188.0 1236.0L1245.9 1187.5M1533.9 1206.0L1538.8 1125.3M1864.7 873.3L1925.9 870.5M1380.3 1293.3L1411.8 1231.8M1862.4 825.1L1869.0 759.7M1432.6 908.2L1479.3 923.9"/><path stroke="#4A4A4A" d="M1430.9 909.1L1502.7 1051.4M1363.6 1263.1L1410.1 1229.9M1269.7 1304.0L1363.9 1262.9M1531.3 1205.8L1536.2 1125.1M1864.6 870.7L1925.8 867.9M1378.0 1292.1L1409.5 1230.6M1865.0 825.3L1871.6 759.9"/><path stroke="#C2C2FC" stroke-width="1.7" d="M1804.2 1348.7L1912.4 1312.0M1378.2 794.7L1399.9 883.2M1822.1 1388.2L1825.9 1303.5M1362.2 1362.1L1421.7 1369.1"/><path stroke="#CDD22E" d="M1584.6 1131.1L1712.5 1197.2M1803.4 1346.2L1911.6 1309.5M1366.2 879.7L1432.5 996.4M1791.8 1235.3L1822.7 1183.5M1524.1 1073.2L1546.4 1057.2M1379.4 794.4L1401.1 882.9M1556.4 1217.9L1587.0 1130.5M1359.9 1149.8L1460.6 1103.3M1819.5 1388.1L1823.3 1303.4M1633.4 976.2L1697.8 992.4M1362.0 1363.4L1421.5 1370.4"/><path stroke="#F23FD2" d="M1585.8 1128.7L1713.7 1194.8M1802.6 1343.8L1910.8 1307.1M1367.4 879.1L1433.7 995.8M1789.5 1234.0L1820.4 1182.2M1522.6 1071.1L1544.9 1055.1M1382.0 793.8L1403.7 882.3M1554.0 1217.1L1584.6 1129.7M1358.8 1147.4L1459.5 1100.9M1817.0 1388.0L1820.8 1303.3M1634.1 973.7L1698.5 989.9M1362.4 1360.8L1421.9 1367.8"/><path stroke="#3FC6EE" d="M1585.2 1129.9L1713.1 1196.0M1803.0 1345.0L1911.2 1308.3M1368.5 878.4L1434.8 995.1M1790.7 1234.6L1821.6 1182.8M1523.4 1072.1L1545.7 1056.1M1380.7 794.1L1402.4 882.6M1555.2 1217.5L1585.8 1130.1M1359.4 1148.6L1460.1 1102.1M1818.3 1388.1L1822.1 1303.4M1633.7 974.9L1698.1 991.1"/><path stroke="#4A4A4A" d="M1802.2 1342.5L1910.4 1305.8M1365.1 880.4L1431.4 997.1M1788.4 1233.3L1819.3 1181.5M1521.9 1070.0L1544.2 1054.0M1383.2 793.5L1404.9 882.0M1552.8 1216.7L1583.4 1129.3M1358.3 1146.2L1459.0 1099.7M1815.7 1388.0L1819.5 1303.3M1634.4 972.4L1698.8 988.6"/><path stroke="#3A3AE8" d="M1803.8 1347.4L1912.0 1310.7M1820.8 1388.2L1824.6 1303.5"/><path stroke="#C2C2FC" stroke-width="1.7" d="M1823.1 886.4L1865.3 875.8M1238.1 1130.8L1286.8 1122.0"/><path stroke="#CDD22E" d="M1538.6 1127.2L1585.0 1131.8M1409.5 1232.5L1442.8 1292.1M1364.1 1361.5L1385.6 1426.2M1646.2 920.0L1708.5 914.3M1432.6 997.3L1494.5 1022.2M1426.7 1104.2L1434.4 996.2M1361.0 1148.3L1377.9 1036.7M1822.8 885.2L1865.0 874.6M1584.6 1130.2L1641.3 1222.9M1237.4 1126.9L1286.1 1118.1"/><path stroke="#3FC6EE" d="M1538.7 1125.9L1585.1 1130.5M1410.6 1231.8L1443.9 1291.4M1362.8 1361.9L1384.3 1426.6M1646.1 918.7L1708.4 913.0M1433.1 996.1L1495.0 1021.0M1591.5 1158.0L1698.4 1177.8M1425.4 1104.1L1433.1 996.1M1359.7 1148.1L1376.6 1036.5M1822.5 883.9L1864.7 873.3M1237.7 1128.2L1286.4 1119.4"/><path stroke="#F23FD2" d="M1538.9 1124.7L1585.3 1129.3M1411.8 1231.2L1445.1 1290.8M1361.6 1362.3L1383.1 1427.0M1645.9 917.5L1708.2 911.8M1433.6 994.9L1495.5 1019.8M1591.7 1156.7L1698.6 1176.5M1424.1 1104.0L1431.8 996.0M1358.5 1147.9L1375.4 1036.3M1822.2 882.6L1864.4 872.0M1585.8 1129.6L1642.5 1222.3M1237.9 1129.5L1286.6 1120.7"/><path stroke="#5A5AF2" d="M1432.1 998.5L1494.0 1023.4M1428.0 1104.3L1435.7 996.3"/><path stroke="#4A4A4A" d="M1539.0 1123.4L1585.4 1128.0M1412.9 1230.5L1446.2 1290.1M1360.3 1362.7L1381.8 1427.4M1645.8 916.2L1708.1 910.5M1434.1 993.7L1496.0 1018.6M1591.9 1155.4L1698.8 1175.2M1422.8 1103.9L1430.5 995.9M1357.2 1147.7L1374.1 1036.1M1821.9 881.4L1864.1 870.8M1238.4 1132.1L1287.1 1123.3"/><path stroke="#C2C2FC" stroke-width="1.7" d="M1865.4 1289.4L1922.0 1357.5"/><path stroke="#3FC6EE" d="M1631.3 881.7L1722.6 963.4M1318.2 1232.7L1340.3 1184.3M1451.7 1159.3L1471.7 1176.0M1868.4 1286.9L1925.0 1355.0M1698.3 990.5L1722.6 963.4M1472.0 1010.4L1503.9 1050.9M1358.5 1148.3L1410.6 1231.8M1504.4 1050.5L1646.0 918.1"/><path stroke="#CDD22E" d="M1640.7 1223.1L1675.3 1309.5M1630.4 882.7L1721.7 964.4M1362.5 910.7L1394.1 975.3M1319.4 1233.2L1341.5 1184.8M1317.0 1232.3L1348.5 1086.6M1450.9 1160.3L1470.9 1177.0M1867.4 1287.7L1924.0 1355.8M1699.3 991.4L1723.6 964.3M1471.0 1011.2L1502.9 1051.7M1357.4 1149.0L1409.5 1232.5M1505.3 1051.4L1646.9 919.0"/><path stroke="#F23FD2" d="M1641.9 1222.6L1676.5 1309.0M1632.2 880.7L1723.5 962.4M1363.7 910.1L1395.3 974.7M1317.0 1232.1L1339.1 1183.7M1452.5 1158.3L1472.5 1175.0M1869.4 1286.1L1926.0 1354.2M1697.3 989.6L1721.6 962.5M1473.0 1009.6L1504.9 1050.1M1359.7 1147.7L1411.8 1231.2M1503.5 1049.6L1645.1 917.2"/><path stroke="#3A3AE8" d="M1866.4 1288.5L1923.0 1356.6"/><path stroke="#5A5AF2" d="M1700.2 992.2L1724.5 965.1"/><path stroke="#4A4A4A" d="M1643.1 1222.1L1677.7 1308.5M1315.8 1231.6L1337.9 1183.2M1318.2 1232.5L1349.7 1086.8M1453.3 1157.3L1473.3 1174.0M1870.4 1285.2L1927.0 1353.3M1696.4 988.8L1720.7 961.7M1474.0 1008.8L1505.9 1049.3M1360.8 1147.0L1412.9 1230.5"/><path stroke="#C2C2FC" stroke-width="1.7" d="M1524.4 895.1L1526.9 935.1M1461.8 1103.2L1506.4 1052.2M1416.1 1044.6L1529.1 896.5M1762.1 857.5L1863.1 823.4M1337.2 1184.8L1362.2 1265.5M1377.1 1038.0L1530.6 936.5"/><path stroke="#F23FD2" d="M1528.3 894.8L1530.8 934.8M1395.0 974.4L1433.4 995.5M1246.5 1187.5L1249.8 1233.1M1458.8 1100.6L1503.4 1049.6M1413.0 1042.2L1526.0 894.1M1505.0 1050.2L1559.6 1163.5M1340.9 1183.6L1365.9 1264.3M1411.6 1233.4L1534.3 1207.9M1394.7 1132.8L1432.5 995.9M1374.9 1034.8L1528.4 933.3"/><path stroke="#CDD22E" d="M1525.7 895.0L1528.2 935.0M1393.8 976.7L1432.2 997.8M1244.0 1187.6L1247.3 1233.2M1460.8 1102.4L1505.4 1051.4M1415.0 1043.8L1528.0 895.7M1502.6 1051.3L1557.2 1164.6M1763.3 861.1L1864.3 827.0M1338.5 1184.4L1363.5 1265.1M1411.1 1230.9L1533.8 1205.4M1397.2 1133.5L1435.0 996.6M1376.4 1036.9L1529.9 935.4"/><path stroke="#3FC6EE" d="M1527.0 894.9L1529.5 934.9M1394.4 975.6L1432.8 996.7M1245.3 1187.5L1248.6 1233.1M1459.8 1101.5L1504.4 1050.5M1414.0 1043.0L1527.0 894.9M1503.8 1050.8L1558.4 1164.1M1762.9 859.9L1863.9 825.8M1339.7 1184.0L1364.7 1264.7M1411.3 1232.1L1534.0 1206.6M1395.9 1133.2L1433.7 996.3M1375.6 1035.9L1529.1 934.4"/><path stroke="#5A5AF2" d="M1377.8 1039.1L1531.3 937.6"/><path stroke="#4A4A4A" d="M1529.6 894.7L1532.1 934.7M1395.6 973.3L1434.0 994.4M1247.8 1187.4L1251.1 1233.0M1457.8 1099.8L1502.4 1048.8M1411.9 1041.4L1524.9 893.3M1506.2 1049.7L1560.8 1163.0M1762.5 858.7L1863.5 824.6M1342.2 1183.2L1367.2 1263.9M1410.8 1229.6L1533.5 1204.1M1393.4 1132.5L1431.2 995.6M1374.2 1033.7L1527.7 932.2"/><path stroke="#C2C2FC" stroke-width="1.7" d="M1557.2 1165.6L1594.4 1203.2M1469.7 1176.5L1494.8 1234.3M1825.1 884.0L1829.7 794.4M1864.8 1348.4L1923.9 1358.6"/><path stroke="#CDD22E" d="M1474.6 882.5L1519.5 956.3M1505.5 1051.2L1552.1 978.2M1558.1 1164.7L1595.3 1202.3M1470.9 1176.0L1496.0 1233.8M1680.3 878.6L1762.5 858.7M1645.0 919.8L1721.6 965.1M1823.8 884.0L1828.4 794.4M1360.9 1148.9L1434.9 997.0M1587.3 1076.4L1697.1 1111.3M1865.3 1345.8L1924.4 1356.0"/><path stroke="#F23FD2" d="M1476.9 881.2L1521.8 955.0M1503.3 1049.8L1549.9 976.8M1559.9 1162.9L1597.1 1200.5M1473.3 1175.0L1498.4 1232.8M1680.7 879.8L1762.9 859.9M1646.3 917.5L1722.9 962.8M1821.2 883.8L1825.8 794.2M1358.5 1147.7L1432.5 995.8M1587.7 1075.2L1697.5 1110.1M1865.7 1343.3L1924.8 1353.5"/><path stroke="#3FC6EE" d="M1475.7 881.8L1520.6 955.6M1504.4 1050.5L1551.0 977.5M1559.0 1163.8L1596.2 1201.4M1472.1 1175.5L1497.2 1233.3M1645.7 918.7L1722.3 964.0M1822.5 883.9L1827.1 794.3M1359.7 1148.3L1433.7 996.4M1865.5 1344.6L1924.6 1354.8"/><path stroke="#4A4A4A" d="M1478.0 880.5L1522.9 954.3M1502.2 1049.1L1548.8 976.1M1560.8 1162.0L1598.0 1199.6M1474.5 1174.5L1499.6 1232.3M1472.1 1175.5L1497.0 1166.6M1647.0 916.4L1723.6 961.7M1819.9 883.8L1824.5 794.2M1357.3 1147.1L1431.3 995.2M1866.0 1342.0L1925.1 1352.2"/><path stroke="#5A5AF2" d="M1506.6 1051.9L1553.2 978.9"/><path stroke="#3A3AE8" d="M1865.1 1347.1L1924.2 1357.3"/><path stroke="#C2C2FC" stroke-width="1.7" d="M1803.2 1348.8L1865.4 1348.4M1411.3 1234.1L1455.3 1231.9M1470.6 1010.5L1495.6 1108.5M1925.9 870.5L1930.8 944.3M1411.2 1229.6L1497.2 1231.4"/><path stroke="#CDD22E" d="M1803.2 1346.2L1865.4 1345.8M1317.0 1232.6L1361.6 1362.3M1387.4 852.0L1407.1 848.0M1411.3 1232.8L1455.3 1230.6M1471.9 1010.2L1496.9 1108.2M1923.3 870.7L1928.2 944.5M1596.0 1200.8L1698.4 1175.9M1863.4 871.9L1916.1 822.4M1250.4 1233.5L1287.8 1121.1M1292.8 1034.9L1375.9 1038.3M1411.2 1233.4L1497.2 1235.2"/><path stroke="#3FC6EE" d="M1803.2 1345.0L1865.4 1344.6M1318.2 1232.2L1362.8 1361.9M1387.1 850.7L1406.8 846.7M1411.2 1231.5L1455.2 1229.3M1473.1 1009.8L1498.1 1107.8M1924.6 870.6L1929.5 944.4M1596.4 1202.0L1698.8 1177.1M1865.1 873.8L1917.8 824.3M1249.2 1233.1L1286.6 1120.7M1292.9 1033.6L1376.0 1037.0M1411.2 1232.1L1497.2 1233.9"/><path stroke="#F23FD2" d="M1803.2 1343.7L1865.4 1343.3M1319.4 1231.8L1364.0 1361.5M1386.8 849.4L1406.5 845.4M1411.1 1230.2L1455.1 1228.0M1474.4 1009.5L1499.4 1107.5M1927.2 870.4L1932.1 944.2M1596.7 1203.3L1699.1 1178.4M1864.3 872.8L1917.0 823.3M1248.0 1232.7L1285.4 1120.3M1292.9 1032.4L1376.0 1035.8M1411.2 1230.9L1497.2 1232.7"/><path stroke="#55DD44" d="M1595.7 1199.5L1698.1 1174.6"/><path stroke="#5A5AF2" d="M1469.4 1010.8L1494.4 1108.8"/><path stroke="#3A3AE8" d="M1803.2 1347.5L1865.4 1347.1"/><path stroke="#4A4A4A" d="M1803.2 1342.4L1865.4 1342.0M1315.8 1233.0L1360.4 1362.7M1411.1 1228.9L1455.1 1226.7M1475.6 1009.2L1500.6 1107.2M1928.5 870.3L1933.4 944.1M1866.0 874.7L1918.7 825.2M1293.0 1031.1L1376.1 1034.5"/><path stroke="#C2C2FC" stroke-width="1.7" d="M1556.8 1218.7L1593.9 1158.1M1697.8 1069.0L1760.6 1045.5M1384.2 1241.2L1411.9 1234.0M1361.7 1147.9L1367.3 1264.6M1360.4 1147.9L1366.0 1264.6"/><path stroke="#3FC6EE" d="M1554.6 1217.3L1591.7 1156.7M1326.6 1337.6L1412.2 1232.3M1376.0 1036.4L1433.1 996.1M1212.0 1201.7L1246.1 1188.1M1696.9 1066.6L1759.7 1043.1M1383.7 1426.8L1421.7 1369.1M1383.5 1238.7L1411.2 1231.5M1136.3 1177.7L1209.1 1154.6M1357.8 1148.1L1363.4 1264.8M1262.0 1100.5L1504.4 1050.5"/><path stroke="#CDD22E" d="M1555.7 1218.0L1592.8 1157.4M1376.7 1037.5L1433.8 997.2M1212.5 1202.9L1246.6 1189.3M1697.4 1067.8L1760.2 1044.3M1384.8 1427.5L1422.8 1369.8M1383.8 1240.0L1411.5 1232.8M1135.9 1176.4L1208.7 1153.3M1356.5 1148.1L1362.1 1264.8M1262.3 1101.8L1504.7 1051.8"/><path stroke="#F23FD2" d="M1553.5 1216.6L1590.6 1156.0M1325.6 1336.8L1411.2 1231.5M1375.3 1035.3L1432.4 995.0M1211.6 1200.5L1245.7 1186.9M1696.5 1065.4L1759.3 1041.9M1382.6 1426.1L1420.6 1368.4M1383.2 1237.4L1410.9 1230.2M1136.7 1178.9L1209.5 1155.8M1359.1 1148.0L1364.7 1264.7M1261.7 1099.2L1504.1 1049.2"/><path stroke="#FF7A7A" d="M1497.0 1166.6L1497.5 1108.0"/><path stroke="#5A5AF2" d="M1377.5 1038.5L1434.6 998.2M1695.6 1063.0L1758.4 1039.5M1696.0 1064.2L1758.8 1040.7"/><path stroke="#4A4A4A" d="M1552.4 1215.9L1589.5 1155.3M1324.6 1336.0L1410.2 1230.7M1374.5 1034.3L1431.6 994.0M1211.1 1199.3L1245.2 1185.7M1382.8 1236.2L1410.5 1229.0M1137.1 1180.2L1209.9 1157.1"/><path stroke="#C2C2FC" stroke-width="1.7" d="M1307.1 1002.3L1433.2 997.4"/><path stroke="#F23FD2" d="M1402.8 882.1L1433.0 907.7M1380.1 794.4L1432.0 908.5M1587.4 1075.2L1696.6 1065.4M1592.3 1156.6L1596.8 1201.3M1493.8 1020.5L1528.3 934.4M1681.7 878.6L1723.8 962.8M1308.9 1322.3L1364.2 1264.3M1457.3 839.9L1477.5 880.9M1504.6 1049.2L1545.5 1054.3M1307.0 1001.0L1433.1 996.1"/><path stroke="#CDD22E" d="M1401.1 884.1L1431.3 909.7M1382.5 793.3L1434.4 907.4M1587.6 1076.4L1696.8 1066.6M1589.8 1156.9L1594.3 1201.6M1929.3 1068.7L1933.9 1148.0M1492.6 1020.0L1527.1 933.9M1679.3 879.8L1721.4 964.0M1310.8 1324.0L1366.1 1266.0M1454.9 841.1L1475.1 882.1M1504.2 1051.8L1545.1 1056.9M1306.9 999.7L1433.0 994.8"/><path stroke="#3FC6EE" d="M1402.0 883.1L1432.2 908.7M1378.9 794.9L1430.8 909.0M1591.1 1156.8L1595.6 1201.5M1928.0 1068.8L1932.6 1148.1M1495.0 1021.0L1529.5 934.9M1680.5 879.2L1722.6 963.4M1309.9 1323.1L1365.2 1265.1M1456.1 840.5L1476.3 881.5M1504.4 1050.5L1545.3 1055.6"/><path stroke="#5A5AF2" d="M1497.4 1022.0L1531.9 935.9M1504.1 1053.1L1545.0 1058.2"/><path stroke="#4A4A4A" d="M1403.7 881.1L1433.9 906.7M1381.3 793.8L1433.2 907.9M1593.6 1156.5L1598.1 1201.2M1926.7 1068.9L1931.3 1148.2M1496.2 1021.5L1530.7 935.4M1308.0 1321.4L1363.3 1263.4M1504.7 1047.9L1545.6 1053.0"/><path stroke="#C2C2FC" stroke-width="1.7" d="M1351.0 1088.5L1435.0 997.9M1587.5 1131.0L1621.7 1061.3M1822.5 1306.6L1911.2 1312.1M1249.2 1230.5L1317.6 1229.8M1498.8 1235.4L1535.5 1208.1M1397.8 1133.5L1416.5 1043.5"/><path stroke="#CDD22E" d="M1528.2 935.1L1544.0 1055.8M1350.1 1087.6L1434.1 997.0M1316.3 1232.3L1327.7 1108.8M1586.4 1130.5L1620.6 1060.8M1822.7 1304.0L1911.4 1309.5M1630.6 883.5L1707.6 914.2M1249.2 1234.4L1317.6 1233.7M1498.0 1234.3L1534.7 1207.0M1432.7 997.3L1472.1 1011.2M1396.6 1133.3L1415.3 1043.3"/><path stroke="#F23FD2" d="M1530.8 934.7L1546.6 1055.4M1348.1 1085.8L1432.1 995.2M1584.0 1129.3L1618.2 1059.6M1822.8 1301.5L1911.5 1307.0M1631.5 881.1L1708.5 911.8M1249.2 1231.8L1317.6 1231.1M1496.4 1232.3L1533.1 1205.0M1433.5 994.9L1472.9 1008.8M1394.0 1132.7L1412.7 1042.7"/><path stroke="#3FC6EE" d="M1639.9 1146.6L1674.3 1068.8M1529.5 934.9L1545.3 1055.6M1349.1 1086.7L1433.1 996.1M1317.6 1232.4L1329.0 1108.9M1585.2 1129.9L1619.4 1060.2M1822.7 1302.8L1911.4 1308.3M1631.1 882.3L1708.1 913.0M1249.2 1233.1L1317.6 1232.4M1497.2 1233.3L1533.9 1206.0M1433.1 996.1L1472.5 1010.0M1395.3 1133.0L1414.0 1043.0"/><path stroke="#4A4A4A" d="M1638.7 1146.0L1673.1 1068.2M1532.1 934.6L1547.9 1055.3M1347.2 1084.9L1431.2 994.3M1318.9 1232.5L1330.3 1109.0M1582.9 1128.8L1617.1 1059.1M1822.9 1300.2L1911.6 1305.7M1632.0 879.9L1709.0 910.6M1249.2 1235.7L1317.6 1235.0M1495.6 1231.2L1532.3 1203.9M1434.0 993.6L1473.4 1007.5M1392.8 1132.5L1411.5 1042.5"/><path stroke="#5A5AF2" d="M1526.9 935.2L1542.7 1055.9M1432.2 998.6L1471.6 1012.5"/><path stroke="#3A3AE8" d="M1822.6 1305.3L1911.3 1310.8"/><path stroke="#C2C2FC" stroke-width="1.7" d="M1526.0 893.2L1565.1 871.3"/><path stroke="#CDD22E" d="M1330.6 1110.0L1377.6 1037.5M1196.6 997.1L1375.7 1037.7M1363.7 910.5L1367.4 879.5M1528.0 896.6L1567.1 874.7M1860.3 1408.9L1869.2 1287.4M1699.3 1066.1L1700.9 990.6M1619.3 1062.1L1696.6 1067.9M1528.3 935.5L1549.8 978.1M1186.4 1234.9L1210.2 1200.0M1919.2 1048.3L1990.6 1067.3"/><path stroke="#3FC6EE" d="M1329.5 1109.3L1376.5 1036.8M1196.9 995.8L1376.0 1036.4M1361.2 910.2L1364.9 879.2M1527.3 895.5L1566.4 873.6M1859.0 1408.8L1867.9 1287.3M1698.0 1066.0L1699.6 990.5M1619.4 1060.8L1696.7 1066.6M1529.5 934.9L1551.0 977.5M1187.5 1235.6L1211.3 1200.7M1919.5 1047.0L1990.9 1066.0"/><path stroke="#F23FD2" d="M1328.5 1108.5L1375.5 1036.0M1362.5 910.3L1366.2 879.3M1526.7 894.3L1565.8 872.4M1857.7 1408.7L1866.6 1287.2M1696.7 1066.0L1698.3 990.5M1619.4 1059.6L1696.7 1065.4M1530.7 934.3L1552.2 976.9M1188.5 1236.4L1212.3 1201.5M1919.8 1045.7L1991.2 1064.7"/><path stroke="#5A5AF2" d="M1694.1 1065.9L1695.7 990.4M1695.4 1066.0L1697.0 990.5M1527.2 936.1L1548.7 978.7"/><path stroke="#4A4A4A" d="M1327.4 1107.8L1374.4 1035.3M1286.6 1120.7L1329.0 1108.9M1197.2 994.5L1376.3 1035.1M1365.0 910.6L1368.7 879.6M1619.5 1058.3L1696.8 1064.1M1531.8 933.7L1553.3 976.3M1189.6 1237.1L1213.4 1202.2"/><path stroke="#C2C2FC" stroke-width="1.7" d="M1453.2 1231.0L1498.4 1285.7M1412.8 1044.5L1496.3 1109.5M1382.3 1293.2L1386.1 1238.9M1285.4 723.4L1290.4 790.1"/><path stroke="#3FC6EE" d="M1209.3 1154.6L1359.1 1147.4M1916.8 824.1L1928.4 847.2M1455.2 1229.3L1500.4 1284.0M1414.4 1042.5L1497.9 1107.5M1316.9 873.3L1387.3 851.3M1316.7 872.7L1406.8 846.7M1928.4 1069.3L2001.8 1008.1M1379.7 1293.0L1383.5 1238.7M1318.2 1232.7L1359.7 1148.3M1282.9 723.5L1287.9 790.2"/><path stroke="#CDD22E" d="M1209.2 1153.3L1359.0 1146.1M1454.2 1230.1L1499.4 1284.8M1413.6 1043.5L1497.1 1108.5M1317.3 874.6L1387.7 852.6M1317.1 873.9L1407.2 847.9M1929.2 1070.3L2002.6 1009.1M1585.9 1131.0L1674.4 1069.6M1381.0 1293.1L1384.8 1238.8M1319.3 1233.3L1360.8 1148.9M1281.6 723.6L1286.6 790.3"/><path stroke="#F23FD2" d="M1209.3 1155.8L1359.1 1148.6M1456.2 1228.5L1501.4 1283.2M1415.2 1041.5L1498.7 1106.5M1316.5 872.1L1386.9 850.1M1316.3 871.5L1406.4 845.5M1927.6 1068.3L2001.0 1007.1M1585.2 1129.9L1673.7 1068.5M1378.4 1292.9L1382.2 1238.6M1317.0 1232.1L1358.5 1147.7"/><path stroke="#5A5AF2" d="M1412.0 1045.6L1495.5 1110.6"/><path stroke="#4A4A4A" d="M1209.4 1157.1L1359.2 1149.9M1918.0 823.5L1929.6 846.6M1457.2 1227.6L1502.4 1282.3M1416.0 1040.4L1499.5 1105.4M1316.1 870.8L1386.5 848.8M1316.0 870.2L1406.1 844.2M1317.4 875.2L1407.5 849.2M1926.8 1067.3L2000.2 1006.1M1584.5 1128.8L1673.0 1067.4M1377.1 1292.8L1380.9 1238.5M1315.9 1231.5L1357.4 1147.1M1284.1 723.5L1289.1 790.2"/><path stroke="#C2C2FC" stroke-width="1.7" d="M1821.8 1389.5L1870.8 1288.7M1658.7 1381.6L1678.4 1309.5M1823.8 1306.5L1869.0 1290.4M1864.8 1288.3L1899.3 1396.2"/><path stroke="#F23FD2" d="M1817.1 1387.2L1866.1 1286.4M1364.2 1264.3L1383.0 1238.3M1512.8 860.4L1530.1 934.8M1657.4 1381.3L1677.1 1309.2M1386.9 851.3L1476.1 882.1M1414.2 1041.1L1545.5 1053.7M1822.0 1301.6L1867.2 1285.5M1869.8 1286.7L1904.3 1394.6M1288.0 790.6L1366.3 879.8M1519.5 954.4L1564.4 872.1M1681.1 879.1L1698.9 990.4"/><path stroke="#CDD22E" d="M1819.5 1388.4L1868.5 1287.6M1366.3 1265.8L1385.1 1239.8M1510.3 860.9L1527.6 935.3M1654.9 1380.6L1674.6 1308.5M1387.7 848.9L1476.9 879.7M1413.9 1043.6L1545.2 1056.2M1822.9 1304.0L1868.1 1287.9M1867.3 1287.5L1901.8 1395.4M1290.0 788.9L1368.3 878.1M1521.8 955.6L1566.7 873.3M1678.6 879.5L1696.4 990.8"/><path stroke="#3FC6EE" d="M1818.3 1387.8L1867.3 1287.0M1365.2 1265.1L1384.0 1239.1M1511.6 860.6L1528.9 935.0M1656.2 1380.9L1675.9 1308.8M1387.3 850.1L1476.5 880.9M1414.1 1042.4L1545.4 1055.0M1822.5 1302.8L1867.7 1286.7M1868.5 1287.1L1903.0 1395.0M1289.0 789.8L1367.3 879.0M1520.6 955.0L1565.5 872.7M1679.9 879.3L1697.7 990.6"/><path stroke="#5A5AF2" d="M1413.8 1044.9L1545.1 1057.5"/><path stroke="#3A3AE8" d="M1820.7 1389.0L1869.7 1288.2M1823.4 1305.2L1868.6 1289.1M1866.0 1287.9L1900.5 1395.8"/><path stroke="#4A4A4A" d="M1816.0 1386.7L1865.0 1285.9M1363.1 1263.6L1381.9 1237.6M1514.1 860.1L1531.4 934.5M1386.5 852.5L1475.7 883.3M1821.6 1300.3L1866.8 1284.2M1871.0 1286.3L1905.5 1394.2M1287.0 791.5L1365.3 880.7M1522.9 956.2L1567.8 873.9M1682.4 878.9L1700.2 990.2"/><path stroke="#C2C2FC" stroke-width="1.7" d="M1820.2 1305.5L1899.9 1397.3"/><path stroke="#CDD22E" d="M1698.0 1175.4L1724.4 1160.4M1564.4 1243.0L1593.5 1157.3M1386.6 851.1L1432.1 908.6M1790.1 1233.7L1851.0 1234.0M1803.5 1069.2L1822.7 1012.2M1325.5 1337.4L1378.3 1344.4M1402.4 883.2L1476.3 882.1M1822.2 1303.8L1901.9 1395.6M1859.0 1408.8L1902.4 1395.2M1202.0 1033.0L1292.9 1034.3M1504.4 1075.9L1521.8 955.4"/><path stroke="#F23FD2" d="M1699.2 1177.6L1725.6 1162.6M1562.0 1242.2L1591.1 1156.5M1387.6 850.3L1433.1 907.8M1802.3 1068.8L1821.5 1011.8M1402.4 880.7L1476.3 879.6M1824.2 1302.1L1903.9 1393.9M1501.9 1075.5L1519.3 955.0"/><path stroke="#3FC6EE" d="M1698.6 1176.5L1725.0 1161.5M1563.2 1242.6L1592.3 1156.9M1388.6 849.5L1434.1 907.0M1790.1 1234.9L1851.0 1235.2M1325.7 1336.2L1378.5 1343.2M1402.4 882.0L1476.3 880.9M1823.2 1303.0L1902.9 1394.8M1859.4 1410.0L1902.8 1396.4M1202.0 1031.7L1292.9 1033.0M1503.2 1075.7L1520.6 955.2"/><path stroke="#4A4A4A" d="M1560.8 1241.8L1589.9 1156.1M1385.6 851.9L1431.1 909.4M1801.1 1068.4L1820.3 1011.4M1402.4 884.5L1476.3 883.4M1825.2 1301.3L1904.9 1393.1M1858.6 1407.6L1902.0 1394.0M1202.0 1030.4L1292.9 1031.7M1505.7 1076.1L1523.1 955.6"/><path stroke="#3A3AE8" d="M1821.2 1304.7L1900.9 1396.5"/></g><g transform="translate(1283.5 723.5)"><ellipse cx="0.4" cy="1.5" rx="11.2" ry="11.1" fill="url(#nd)"/><circle r="10.2" fill="#A8ACE1"/><path transform="translate(0.0 1.2) rotate(80)" d="M-3.5 -2.5q3 .5 2 2.5t2.5 2.5M.5 -3q2.5 1 1.5 3M-4 2.5q1.5 -1.5 3 0" fill="none" stroke="#8A62D0" stroke-width="1.2" stroke-opacity="0.85" stroke-linecap="round"/><circle r="10.2" fill="url(#ns)"/><ellipse cy="-5.7" rx="5.7" ry="2.7" fill="url(#nh)"/><circle r="9.85" fill="none" stroke="#000" stroke-opacity="0.32" stroke-width="0.7"/></g><g transform="translate(1330.4 766.2)"><ellipse cx="0.4" cy="1.5" rx="11.2" ry="11.1" fill="url(#nd)"/><circle r="10.2" fill="#A8ACE1"/><path transform="translate(0.0 1.2) rotate(-80)" d="M-4 1.5l1.2 -1.6l1.2 1.6l1.2 -1.6l1.2 1.6l1.2 -1.6l1.2 1.6M-2.5 -2.5q2 -1.5 4 .3" fill="none" stroke="#8A62D0" stroke-width="1.2" stroke-opacity="0.85" stroke-linecap="round"/><circle r="10.2" fill="url(#ns)"/><ellipse cy="-5.7" rx="5.7" ry="2.7" fill="url(#nh)"/><circle r="9.85" fill="none" stroke="#000" stroke-opacity="0.32" stroke-width="0.7"/></g><g transform="translate(1288.5 790.2)"><ellipse cx="0.4" cy="1.5" rx="11.2" ry="11.1" fill="url(#nd)"/><circle r="10.2" fill="#9FC5DB"/><path transform="translate(0.0 1.2) rotate(40)" d="M-3.5 -2.5q3 .5 2 2.5t2.5 2.5M.5 -3q2.5 1 1.5 3M-4 2.5q1.5 -1.5 3 0" fill="none" stroke="#7FA060" stroke-width="1.2" stroke-opacity="0.85" stroke-linecap="round"/><circle r="10.2" fill="url(#ns)"/><ellipse cy="-5.7" rx="5.7" ry="2.7" fill="url(#nh)"/><circle r="9.85" fill="none" stroke="#000" stroke-opacity="0.32" stroke-width="0.7"/></g><g transform="translate(1380.7 794.1)"><ellipse cx="0.4" cy="1.5" rx="11.2" ry="11.1" fill="url(#nd)"/><circle r="10.2" fill="#A8ACE1"/><path transform="translate(0.0 1.2) rotate(-60)" d="M-4 0q1 -2.5 2.2 0t2.2 0t2.2 0M-2 3q2 -1.2 4 0M-3 -3q1.5 1 3.2 -.2" fill="none" stroke="#8A62D0" stroke-width="1.2" stroke-opacity="0.85" stroke-linecap="round"/><circle r="10.2" fill="url(#ns)"/><ellipse cy="-5.7" rx="5.7" ry="2.7" fill="url(#nh)"/><circle r="9.85" fill="none" stroke="#000" stroke-opacity="0.32" stroke-width="0.7"/></g><g transform="translate(1441.5 821.3)"><ellipse cx="0.4" cy="1.5" rx="11.2" ry="11.1" fill="url(#nd)"/><circle r="10.2" fill="#9CB5DF"/><path transform="translate(0.0 1.2) rotate(-80)" d="M-4 0q1 -2.5 2.2 0t2.2 0t2.2 0M-2 3q2 -1.2 4 0M-3 -3q1.5 1 3.2 -.2" fill="none" stroke="#8070C8" stroke-width="1.2" stroke-opacity="0.85" stroke-linecap="round"/><circle r="10.2" fill="url(#ns)"/><ellipse cy="-5.7" rx="5.7" ry="2.7" fill="url(#nh)"/><circle r="9.85" fill="none" stroke="#000" stroke-opacity="0.32" stroke-width="0.7"/></g><g transform="translate(1456.1 840.5)"><ellipse cx="0.4" cy="1.5" rx="11.2" ry="11.1" fill="url(#nd)"/><circle r="10.2" fill="#A8ACE1"/><path transform="translate(0.0 1.2) rotate(80)" d="M-4.5 -1q1.5 -3 3 0t3 0t3 -.5M-3.5 2.5q2 -2 3.5 .5t3 -1.5M-1 -3.5l2.5 1.2" fill="none" stroke="#8A62D0" stroke-width="1.2" stroke-opacity="0.85" stroke-linecap="round"/><circle r="10.2" fill="url(#ns)"/><ellipse cy="-5.7" rx="5.7" ry="2.7" fill="url(#nh)"/><circle r="9.85" fill="none" stroke="#000" stroke-opacity="0.32" stroke-width="0.7"/></g><g transform="translate(1387.1 850.7)"><ellipse cx="0.4" cy="1.5" rx="11.2" ry="11.1" fill="url(#nd)"/><circle r="10.2" fill="#E3C7A4"/><path transform="translate(0.0 1.2) rotate(-60)" d="M-4 0q1 -2.5 2.2 0t2.2 0t2.2 0M-2 3q2 -1.2 4 0M-3 -3q1.5 1 3.2 -.2" fill="none" stroke="#B060B0" stroke-width="1.2" stroke-opacity="0.85" stroke-linecap="round"/><circle r="10.2" fill="url(#ns)"/><ellipse cy="-5.7" rx="5.7" ry="2.7" fill="url(#nh)"/><circle r="9.85" fill="none" stroke="#000" stroke-opacity="0.32" stroke-width="0.7"/></g><g transform="translate(1406.8 846.7)"><ellipse cx="0.4" cy="1.5" rx="11.2" ry="11.1" fill="url(#nd)"/><circle r="10.2" fill="#A8ACE1"/><path transform="translate(0.0 1.2) rotate(-40)" d="M-4.5 -1q1.5 -3 3 0t3 0t3 -.5M-3.5 2.5q2 -2 3.5 .5t3 -1.5M-1 -3.5l2.5 1.2" fill="none" stroke="#8A62D0" stroke-width="1.2" stroke-opacity="0.85" stroke-linecap="round"/><circle r="10.2" fill="url(#ns)"/><ellipse cy="-5.7" rx="5.7" ry="2.7" fill="url(#nh)"/><circle r="9.85" fill="none" stroke="#000" stroke-opacity="0.32" stroke-width="0.7"/></g><g transform="translate(1190.3 855.9)"><ellipse cx="0.4" cy="1.5" rx="11.2" ry="11.1" fill="url(#nd)"/><circle r="10.2" fill="#9DD9C0"/><path transform="translate(0.0 1.2) rotate(20)" d="M-4 0q1 -2.5 2.2 0t2.2 0t2.2 0M-2 3q2 -1.2 4 0M-3 -3q1.5 1 3.2 -.2" fill="none" stroke="#9A7AC8" stroke-width="1.2" stroke-opacity="0.85" stroke-linecap="round"/><circle r="10.2" fill="url(#ns)"/><ellipse cy="-5.7" rx="5.7" ry="2.7" fill="url(#nh)"/><circle r="9.85" fill="none" stroke="#000" stroke-opacity="0.32" stroke-width="0.7"/></g><g transform="translate(1316.7 872.7)"><ellipse cx="0.4" cy="1.5" rx="11.2" ry="11.1" fill="url(#nd)"/><circle r="10.2" fill="#9DD9C0"/><path transform="translate(0.0 1.2) rotate(20)" d="M-4 0q1 -2.5 2.2 0t2.2 0t2.2 0M-2 3q2 -1.2 4 0M-3 -3q1.5 1 3.2 -.2" fill="none" stroke="#9A7AC8" stroke-width="1.2" stroke-opacity="0.85" stroke-linecap="round"/><circle r="10.2" fill="url(#ns)"/><ellipse cy="-5.7" rx="5.7" ry="2.7" fill="url(#nh)"/><circle r="9.85" fill="none" stroke="#000" stroke-opacity="0.32" stroke-width="0.7"/></g><g transform="translate(1366.8 879.4)"><ellipse cx="0.4" cy="1.5" rx="11.2" ry="11.1" fill="url(#nd)"/><circle r="10.2" fill="#DFCC99"/><path transform="translate(0.0 1.2) rotate(-20)" d="M-4 1.5l1.2 -1.6l1.2 1.6l1.2 -1.6l1.2 1.6l1.2 -1.6l1.2 1.6M-2.5 -2.5q2 -1.5 4 .3" fill="none" stroke="#E05030" stroke-width="1.2" stroke-opacity="0.85" stroke-linecap="round"/><circle r="10.2" fill="url(#ns)"/><ellipse cy="-5.7" rx="5.7" ry="2.7" fill="url(#nh)"/><circle r="9.85" fill="none" stroke="#000" stroke-opacity="0.32" stroke-width="0.7"/></g><g transform="translate(1402.4 882.6)"><ellipse cx="0.4" cy="1.5" rx="11.2" ry="11.1" fill="url(#nd)"/><circle r="10.2" fill="#A8ACE1"/><path transform="translate(0.0 1.2) rotate(60)" d="M-4 0q1 -2.5 2.2 0t2.2 0t2.2 0M-2 3q2 -1.2 4 0M-3 -3q1.5 1 3.2 -.2" fill="none" stroke="#8A62D0" stroke-width="1.2" stroke-opacity="0.85" stroke-linecap="round"/><circle r="10.2" fill="url(#ns)"/><ellipse cy="-5.7" rx="5.7" ry="2.7" fill="url(#nh)"/><circle r="9.85" fill="none" stroke="#000" stroke-opacity="0.32" stroke-width="0.7"/></g><g transform="translate(1476.3 881.5)"><ellipse cx="0.4" cy="1.5" rx="11.2" ry="11.1" fill="url(#nd)"/><circle r="10.2" fill="#68B952"/><path transform="translate(0.0 1.2) rotate(-20)" d="M-4.5 -1q1.5 -3 3 0t3 0t3 -.5M-3.5 2.5q2 -2 3.5 .5t3 -1.5M-1 -3.5l2.5 1.2" fill="none" stroke="#D0A050" stroke-width="1.2" stroke-opacity="0.85" stroke-linecap="round"/><circle r="10.2" fill="url(#ns)"/><ellipse cy="-5.7" rx="5.7" ry="2.7" fill="url(#nh)"/><circle r="9.85" fill="none" stroke="#000" stroke-opacity="0.32" stroke-width="0.7"/></g><g transform="translate(1512.2 860.5)"><ellipse cx="0.4" cy="1.5" rx="11.2" ry="11.1" fill="url(#nd)"/><circle r="10.2" fill="#A4DCA6"/><path transform="translate(0.0 1.2) rotate(-20)" d="M-4 0q1 -2.5 2.2 0t2.2 0t2.2 0M-2 3q2 -1.2 4 0M-3 -3q1.5 1 3.2 -.2" fill="none" stroke="#8A78B8" stroke-width="1.2" stroke-opacity="0.85" stroke-linecap="round"/><circle r="10.2" fill="url(#ns)"/><ellipse cy="-5.7" rx="5.7" ry="2.7" fill="url(#nh)"/><circle r="9.85" fill="none" stroke="#000" stroke-opacity="0.32" stroke-width="0.7"/></g><g transform="translate(1566.1 873.0)"><ellipse cx="0.4" cy="1.5" rx="11.2" ry="11.1" fill="url(#nd)"/><circle r="10.2" fill="#9CB5DF"/><path transform="translate(0.0 1.2) rotate(-80)" d="M-4.5 -1q1.5 -3 3 0t3 0t3 -.5M-3.5 2.5q2 -2 3.5 .5t3 -1.5M-1 -3.5l2.5 1.2" fill="none" stroke="#8070C8" stroke-width="1.2" stroke-opacity="0.85" stroke-linecap="round"/><circle r="10.2" fill="url(#ns)"/><ellipse cy="-5.7" rx="5.7" ry="2.7" fill="url(#nh)"/><circle r="9.85" fill="none" stroke="#000" stroke-opacity="0.32" stroke-width="0.7"/></g><g transform="translate(1527.0 894.9)"><ellipse cx="0.4" cy="1.5" rx="11.2" ry="11.1" fill="url(#nd)"/><circle r="10.2" fill="#5AB39F"/><path transform="translate(0.0 1.2) rotate(-80)" d="M-3.5 -2.5q3 .5 2 2.5t2.5 2.5M.5 -3q2.5 1 1.5 3M-4 2.5q1.5 -1.5 3 0" fill="none" stroke="#40B050" stroke-width="1.2" stroke-opacity="0.85" stroke-linecap="round"/><circle r="10.2" fill="url(#ns)"/><ellipse cy="-5.7" rx="5.7" ry="2.7" fill="url(#nh)"/><circle r="9.85" fill="none" stroke="#000" stroke-opacity="0.32" stroke-width="0.7"/></g><g transform="translate(1242.5 907.5)"><ellipse cx="0.4" cy="1.5" rx="11.2" ry="11.1" fill="url(#nd)"/><circle r="10.2" fill="#E6ACAC"/><path transform="translate(0.0 1.2) rotate(-80)" d="M-4 0q1 -2.5 2.2 0t2.2 0t2.2 0M-2 3q2 -1.2 4 0M-3 -3q1.5 1 3.2 -.2" fill="none" stroke="#E04080" stroke-width="1.2" stroke-opacity="0.85" stroke-linecap="round"/><circle r="10.2" fill="url(#ns)"/><ellipse cy="-5.7" rx="5.7" ry="2.7" fill="url(#nh)"/><circle r="9.85" fill="none" stroke="#000" stroke-opacity="0.32" stroke-width="0.7"/></g><g transform="translate(1363.1 910.4)"><ellipse cx="0.4" cy="1.5" rx="11.2" ry="11.1" fill="url(#nd)"/><circle r="10.2" fill="#A8ACE1"/><path transform="translate(0.0 1.2) rotate(-80)" d="M-4 1.5l1.2 -1.6l1.2 1.6l1.2 -1.6l1.2 1.6l1.2 -1.6l1.2 1.6M-2.5 -2.5q2 -1.5 4 .3" fill="none" stroke="#8A62D0" stroke-width="1.2" stroke-opacity="0.85" stroke-linecap="round"/><circle r="10.2" fill="url(#ns)"/><ellipse cy="-5.7" rx="5.7" ry="2.7" fill="url(#nh)"/><circle r="9.85" fill="none" stroke="#000" stroke-opacity="0.32" stroke-width="0.7"/></g><g transform="translate(1432.6 908.2)"><ellipse cx="0.4" cy="1.5" rx="11.2" ry="11.1" fill="url(#nd)"/><circle r="10.2" fill="#A6D099"/><path transform="translate(0.0 1.2) rotate(20)" d="M-3.5 -2.5q3 .5 2 2.5t2.5 2.5M.5 -3q2.5 1 1.5 3M-4 2.5q1.5 -1.5 3 0" fill="none" stroke="#9A78C0" stroke-width="1.2" stroke-opacity="0.85" stroke-linecap="round"/><circle r="10.2" fill="url(#ns)"/><ellipse cy="-5.7" rx="5.7" ry="2.7" fill="url(#nh)"/><circle r="9.85" fill="none" stroke="#000" stroke-opacity="0.32" stroke-width="0.7"/></g><g transform="translate(1479.3 923.9)"><ellipse cx="0.4" cy="1.5" rx="11.2" ry="11.1" fill="url(#nd)"/><circle r="10.2" fill="#9DD9C0"/><path transform="translate(0.0 1.2) rotate(-40)" d="M-4 0q1 -2.5 2.2 0t2.2 0t2.2 0M-2 3q2 -1.2 4 0M-3 -3q1.5 1 3.2 -.2" fill="none" stroke="#9A7AC8" stroke-width="1.2" stroke-opacity="0.85" stroke-linecap="round"/><circle r="10.2" fill="url(#ns)"/><ellipse cy="-5.7" rx="5.7" ry="2.7" fill="url(#nh)"/><circle r="9.85" fill="none" stroke="#000" stroke-opacity="0.32" stroke-width="0.7"/></g><g transform="translate(1529.5 934.9)"><ellipse cx="0.4" cy="1.5" rx="11.2" ry="11.1" fill="url(#nd)"/><circle r="10.2" fill="#A8ACE1"/><path transform="translate(0.0 1.2) rotate(40)" d="M-4 1.5l1.2 -1.6l1.2 1.6l1.2 -1.6l1.2 1.6l1.2 -1.6l1.2 1.6M-2.5 -2.5q2 -1.5 4 .3" fill="none" stroke="#8A62D0" stroke-width="1.2" stroke-opacity="0.85" stroke-linecap="round"/><circle r="10.2" fill="url(#ns)"/><ellipse cy="-5.7" rx="5.7" ry="2.7" fill="url(#nh)"/><circle r="9.85" fill="none" stroke="#000" stroke-opacity="0.32" stroke-width="0.7"/></g><g transform="translate(1312.9 942.5)"><ellipse cx="0.4" cy="1.5" rx="11.2" ry="11.1" fill="url(#nd)"/><circle r="10.2" fill="#DFA6A1"/><path transform="translate(0.0 1.2) rotate(80)" d="M-4.5 -1q1.5 -3 3 0t3 0t3 -.5M-3.5 2.5q2 -2 3.5 .5t3 -1.5M-1 -3.5l2.5 1.2" fill="none" stroke="#D06090" stroke-width="1.2" stroke-opacity="0.85" stroke-linecap="round"/><circle r="10.2" fill="url(#ns)"/><ellipse cy="-5.7" rx="5.7" ry="2.7" fill="url(#nh)"/><circle r="9.85" fill="none" stroke="#000" stroke-opacity="0.32" stroke-width="0.7"/></g><g transform="translate(1521.2 955.3)"><ellipse cx="0.4" cy="1.5" rx="11.2" ry="11.1" fill="url(#nd)"/><circle r="10.2" fill="#C9DB9C"/><path transform="translate(0.0 1.2) rotate(60)" d="M-4 0q1 -2.5 2.2 0t2.2 0t2.2 0M-2 3q2 -1.2 4 0M-3 -3q1.5 1 3.2 -.2" fill="none" stroke="#C080A0" stroke-width="1.2" stroke-opacity="0.85" stroke-linecap="round"/><circle r="10.2" fill="url(#ns)"/><ellipse cy="-5.7" rx="5.7" ry="2.7" fill="url(#nh)"/><circle r="9.85" fill="none" stroke="#000" stroke-opacity="0.32" stroke-width="0.7"/></g><g transform="translate(1220.7 967.0)"><ellipse cx="0.4" cy="1.5" rx="11.2" ry="11.1" fill="url(#nd)"/><circle r="10.2" fill="#A1D9DB"/><path transform="translate(0.0 1.2) rotate(60)" d="M-4 1.5l1.2 -1.6l1.2 1.6l1.2 -1.6l1.2 1.6l1.2 -1.6l1.2 1.6M-2.5 -2.5q2 -1.5 4 .3" fill="none" stroke="#8A72C8" stroke-width="1.2" stroke-opacity="0.85" stroke-linecap="round"/><circle r="10.2" fill="url(#ns)"/><ellipse cy="-5.7" rx="5.7" ry="2.7" fill="url(#nh)"/><circle r="9.85" fill="none" stroke="#000" stroke-opacity="0.32" stroke-width="0.7"/></g><g transform="translate(1241.8 977.9)"><ellipse cx="0.4" cy="1.5" rx="11.2" ry="11.1" fill="url(#nd)"/><circle r="10.2" fill="#97D8C9"/><path transform="translate(0.0 1.2) rotate(-40)" d="M-4 1.5l1.2 -1.6l1.2 1.6l1.2 -1.6l1.2 1.6l1.2 -1.6l1.2 1.6M-2.5 -2.5q2 -1.5 4 .3" fill="none" stroke="#4068D0" stroke-width="1.2" stroke-opacity="0.85" stroke-linecap="round"/><circle r="10.2" fill="url(#ns)"/><ellipse cy="-5.7" rx="5.7" ry="2.7" fill="url(#nh)"/><circle r="9.85" fill="none" stroke="#000" stroke-opacity="0.32" stroke-width="0.7"/></g><g transform="translate(1394.7 975.0)"><ellipse cx="0.4" cy="1.5" rx="11.2" ry="11.1" fill="url(#nd)"/><circle r="10.2" fill="#9CB5DF"/><path transform="translate(0.0 1.2) rotate(20)" d="M-3.5 -2.5q3 .5 2 2.5t2.5 2.5M.5 -3q2.5 1 1.5 3M-4 2.5q1.5 -1.5 3 0" fill="none" stroke="#8070C8" stroke-width="1.2" stroke-opacity="0.85" stroke-linecap="round"/><circle r="10.2" fill="url(#ns)"/><ellipse cy="-5.7" rx="5.7" ry="2.7" fill="url(#nh)"/><circle r="9.85" fill="none" stroke="#000" stroke-opacity="0.32" stroke-width="0.7"/></g><g transform="translate(1196.9 995.8)"><ellipse cx="0.4" cy="1.5" rx="11.2" ry="11.1" fill="url(#nd)"/><circle r="10.2" fill="#96A3DB"/><path transform="translate(0.0 1.2) rotate(-80)" d="M-3.5 -2.5q3 .5 2 2.5t2.5 2.5M.5 -3q2.5 1 1.5 3M-4 2.5q1.5 -1.5 3 0" fill="none" stroke="#8A62D0" stroke-width="1.2" stroke-opacity="0.85" stroke-linecap="round"/><circle r="10.2" fill="url(#ns)"/><ellipse cy="-5.7" rx="5.7" ry="2.7" fill="url(#nh)"/><circle r="9.85" fill="none" stroke="#000" stroke-opacity="0.32" stroke-width="0.7"/></g><g transform="translate(1307.0 1001.0)"><ellipse cx="0.4" cy="1.5" rx="11.2" ry="11.1" fill="url(#nd)"/><circle r="10.2" fill="#9FC5DB"/><path transform="translate(0.0 1.2) rotate(0)" d="M-3.5 -2.5q3 .5 2 2.5t2.5 2.5M.5 -3q2.5 1 1.5 3M-4 2.5q1.5 -1.5 3 0" fill="none" stroke="#7FA060" stroke-width="1.2" stroke-opacity="0.85" stroke-linecap="round"/><circle r="10.2" fill="url(#ns)"/><ellipse cy="-5.7" rx="5.7" ry="2.7" fill="url(#nh)"/><circle r="9.85" fill="none" stroke="#000" stroke-opacity="0.32" stroke-width="0.7"/></g><g transform="translate(1433.1 996.1)"><ellipse cx="0.4" cy="1.5" rx="11.2" ry="11.1" fill="url(#nd)"/><circle r="10.2" fill="#A1D9DB"/><path transform="translate(0.0 1.2) rotate(20)" d="M-4.5 -1q1.5 -3 3 0t3 0t3 -.5M-3.5 2.5q2 -2 3.5 .5t3 -1.5M-1 -3.5l2.5 1.2" fill="none" stroke="#8A72C8" stroke-width="1.2" stroke-opacity="0.85" stroke-linecap="round"/><circle r="10.2" fill="url(#ns)"/><ellipse cy="-5.7" rx="5.7" ry="2.7" fill="url(#nh)"/><circle r="9.85" fill="none" stroke="#000" stroke-opacity="0.32" stroke-width="0.7"/></g><g transform="translate(1472.5 1010.0)"><ellipse cx="0.4" cy="1.5" rx="11.2" ry="11.1" fill="url(#nd)"/><circle r="10.2" fill="#A6D099"/><path transform="translate(0.0 1.2) rotate(60)" d="M-4 0q1 -2.5 2.2 0t2.2 0t2.2 0M-2 3q2 -1.2 4 0M-3 -3q1.5 1 3.2 -.2" fill="none" stroke="#9A78C0" stroke-width="1.2" stroke-opacity="0.85" stroke-linecap="round"/><circle r="10.2" fill="url(#ns)"/><ellipse cy="-5.7" rx="5.7" ry="2.7" fill="url(#nh)"/><circle r="9.85" fill="none" stroke="#000" stroke-opacity="0.32" stroke-width="0.7"/></g><g transform="translate(1495.0 1021.0)"><ellipse cx="0.4" cy="1.5" rx="11.2" ry="11.1" fill="url(#nd)"/><circle r="10.2" fill="#C9DB9C"/><path transform="translate(0.0 1.2) rotate(0)" d="M-4 0q1 -2.5 2.2 0t2.2 0t2.2 0M-2 3q2 -1.2 4 0M-3 -3q1.5 1 3.2 -.2" fill="none" stroke="#C080A0" stroke-width="1.2" stroke-opacity="0.85" stroke-linecap="round"/><circle r="10.2" fill="url(#ns)"/><ellipse cy="-5.7" rx="5.7" ry="2.7" fill="url(#nh)"/><circle r="9.85" fill="none" stroke="#000" stroke-opacity="0.32" stroke-width="0.7"/></g><g transform="translate(1532.2 993.1)"><ellipse cx="0.4" cy="1.5" rx="11.2" ry="11.1" fill="url(#nd)"/><circle r="10.2" fill="#C9DB9C"/><path transform="translate(0.0 1.2) rotate(-60)" d="M-4 0q1 -2.5 2.2 0t2.2 0t2.2 0M-2 3q2 -1.2 4 0M-3 -3q1.5 1 3.2 -.2" fill="none" stroke="#C080A0" stroke-width="1.2" stroke-opacity="0.85" stroke-linecap="round"/><circle r="10.2" fill="url(#ns)"/><ellipse cy="-5.7" rx="5.7" ry="2.7" fill="url(#nh)"/><circle r="9.85" fill="none" stroke="#000" stroke-opacity="0.32" stroke-width="0.7"/></g><g transform="translate(1551.0 977.5)"><ellipse cx="0.4" cy="1.5" rx="11.2" ry="11.1" fill="url(#nd)"/><circle r="10.2" fill="#A1D9DB"/><path transform="translate(0.0 1.2) rotate(-60)" d="M-4.5 -1q1.5 -3 3 0t3 0t3 -.5M-3.5 2.5q2 -2 3.5 .5t3 -1.5M-1 -3.5l2.5 1.2" fill="none" stroke="#8A72C8" stroke-width="1.2" stroke-opacity="0.85" stroke-linecap="round"/><circle r="10.2" fill="url(#ns)"/><ellipse cy="-5.7" rx="5.7" ry="2.7" fill="url(#nh)"/><circle r="9.85" fill="none" stroke="#000" stroke-opacity="0.32" stroke-width="0.7"/></g><g transform="translate(1055.0 1004.6)"><ellipse cx="0.4" cy="1.5" rx="11.2" ry="11.1" fill="url(#nd)"/><circle r="10.2" fill="#A8ACE1"/><path transform="translate(0.0 1.2) rotate(60)" d="M-4 1.5l1.2 -1.6l1.2 1.6l1.2 -1.6l1.2 1.6l1.2 -1.6l1.2 1.6M-2.5 -2.5q2 -1.5 4 .3" fill="none" stroke="#8A62D0" stroke-width="1.2" stroke-opacity="0.85" stroke-linecap="round"/><circle r="10.2" fill="url(#ns)"/><ellipse cy="-5.7" rx="5.7" ry="2.7" fill="url(#nh)"/><circle r="9.85" fill="none" stroke="#000" stroke-opacity="0.32" stroke-width="0.7"/></g><g transform="translate(1122.7 1022.5)"><ellipse cx="0.4" cy="1.5" rx="11.2" ry="11.1" fill="url(#nd)"/><circle r="10.2" fill="#DFDFA2"/><path transform="translate(0.0 1.2) rotate(60)" d="M-4 0q1 -2.5 2.2 0t2.2 0t2.2 0M-2 3q2 -1.2 4 0M-3 -3q1.5 1 3.2 -.2" fill="none" stroke="#B070C0" stroke-width="1.2" stroke-opacity="0.85" stroke-linecap="round"/><circle r="10.2" fill="url(#ns)"/><ellipse cy="-5.7" rx="5.7" ry="2.7" fill="url(#nh)"/><circle r="9.85" fill="none" stroke="#000" stroke-opacity="0.32" stroke-width="0.7"/></g><g transform="translate(1201.6 1044.0)"><ellipse cx="0.4" cy="1.5" rx="11.2" ry="11.1" fill="url(#nd)"/><circle r="10.2" fill="#9DD9C0"/><path transform="translate(0.0 1.2) rotate(80)" d="M-4 1.5l1.2 -1.6l1.2 1.6l1.2 -1.6l1.2 1.6l1.2 -1.6l1.2 1.6M-2.5 -2.5q2 -1.5 4 .3" fill="none" stroke="#9A7AC8" stroke-width="1.2" stroke-opacity="0.85" stroke-linecap="round"/><circle r="10.2" fill="url(#ns)"/><ellipse cy="-5.7" rx="5.7" ry="2.7" fill="url(#nh)"/><circle r="9.85" fill="none" stroke="#000" stroke-opacity="0.32" stroke-width="0.7"/></g><g transform="translate(1202.0 1031.7)"><ellipse cx="0.4" cy="1.5" rx="11.2" ry="11.1" fill="url(#nd)"/><circle r="10.2" fill="#A8ACE1"/><path transform="translate(0.0 1.2) rotate(80)" d="M-4 1.5l1.2 -1.6l1.2 1.6l1.2 -1.6l1.2 1.6l1.2 -1.6l1.2 1.6M-2.5 -2.5q2 -1.5 4 .3" fill="none" stroke="#8A62D0" stroke-width="1.2" stroke-opacity="0.85" stroke-linecap="round"/><circle r="10.2" fill="url(#ns)"/><ellipse cy="-5.7" rx="5.7" ry="2.7" fill="url(#nh)"/><circle r="9.85" fill="none" stroke="#000" stroke-opacity="0.32" stroke-width="0.7"/></g><g transform="translate(1292.9 1033.0)"><ellipse cx="0.4" cy="1.5" rx="11.2" ry="11.1" fill="url(#nd)"/><circle r="10.2" fill="#9DD9C0"/><path transform="translate(0.0 1.2) rotate(80)" d="M-4 1.5l1.2 -1.6l1.2 1.6l1.2 -1.6l1.2 1.6l1.2 -1.6l1.2 1.6M-2.5 -2.5q2 -1.5 4 .3" fill="none" stroke="#9A7AC8" stroke-width="1.2" stroke-opacity="0.85" stroke-linecap="round"/><circle r="10.2" fill="url(#ns)"/><ellipse cy="-5.7" rx="5.7" ry="2.7" fill="url(#nh)"/><circle r="9.85" fill="none" stroke="#000" stroke-opacity="0.32" stroke-width="0.7"/></g><g transform="translate(1376.0 1036.4)"><ellipse cx="0.4" cy="1.5" rx="11.2" ry="11.1" fill="url(#nd)"/><circle r="10.2" fill="#C9DB9C"/><path transform="translate(0.0 1.2) rotate(80)" d="M-4.5 -1q1.5 -3 3 0t3 0t3 -.5M-3.5 2.5q2 -2 3.5 .5t3 -1.5M-1 -3.5l2.5 1.2" fill="none" stroke="#C080A0" stroke-width="1.2" stroke-opacity="0.85" stroke-linecap="round"/><circle r="10.2" fill="url(#ns)"/><ellipse cy="-5.7" rx="5.7" ry="2.7" fill="url(#nh)"/><circle r="9.85" fill="none" stroke="#000" stroke-opacity="0.32" stroke-width="0.7"/></g><g transform="translate(1414.0 1043.0)"><ellipse cx="0.4" cy="1.5" rx="11.2" ry="11.1" fill="url(#nd)"/><circle r="10.2" fill="#DFDFA2"/><path transform="translate(0.0 1.2) rotate(-80)" d="M-3.5 -2.5q3 .5 2 2.5t2.5 2.5M.5 -3q2.5 1 1.5 3M-4 2.5q1.5 -1.5 3 0" fill="none" stroke="#B070C0" stroke-width="1.2" stroke-opacity="0.85" stroke-linecap="round"/><circle r="10.2" fill="url(#ns)"/><ellipse cy="-5.7" rx="5.7" ry="2.7" fill="url(#nh)"/><circle r="9.85" fill="none" stroke="#000" stroke-opacity="0.32" stroke-width="0.7"/></g><g transform="translate(1504.4 1050.5)"><ellipse cx="0.4" cy="1.5" rx="11.2" ry="11.1" fill="url(#nd)"/><circle r="10.2" fill="#A399DD"/><path transform="translate(0.0 1.2) rotate(60)" d="M-4 0q1 -2.5 2.2 0t2.2 0t2.2 0M-2 3q2 -1.2 4 0M-3 -3q1.5 1 3.2 -.2" fill="none" stroke="#9060D0" stroke-width="1.2" stroke-opacity="0.85" stroke-linecap="round"/><circle r="10.2" fill="url(#ns)"/><ellipse cy="-5.7" rx="5.7" ry="2.7" fill="url(#nh)"/><circle r="9.85" fill="none" stroke="#000" stroke-opacity="0.32" stroke-width="0.7"/></g><g transform="translate(1385.5 1058.8)"><ellipse cx="0.4" cy="1.5" rx="11.2" ry="11.1" fill="url(#nd)"/><circle r="10.2" fill="#9FC5DB"/><path transform="translate(0.0 1.2) rotate(-60)" d="M-4 0q1 -2.5 2.2 0t2.2 0t2.2 0M-2 3q2 -1.2 4 0M-3 -3q1.5 1 3.2 -.2" fill="none" stroke="#7FA060" stroke-width="1.2" stroke-opacity="0.85" stroke-linecap="round"/><circle r="10.2" fill="url(#ns)"/><ellipse cy="-5.7" rx="5.7" ry="2.7" fill="url(#nh)"/><circle r="9.85" fill="none" stroke="#000" stroke-opacity="0.32" stroke-width="0.7"/></g><g transform="translate(1349.1 1086.7)"><ellipse cx="0.4" cy="1.5" rx="11.2" ry="11.1" fill="url(#nd)"/><circle r="10.2" fill="#A1D9DB"/><path transform="translate(0.0 1.2) rotate(0)" d="M-4 1.5l1.2 -1.6l1.2 1.6l1.2 -1.6l1.2 1.6l1.2 -1.6l1.2 1.6M-2.5 -2.5q2 -1.5 4 .3" fill="none" stroke="#8A72C8" stroke-width="1.2" stroke-opacity="0.85" stroke-linecap="round"/><circle r="10.2" fill="url(#ns)"/><ellipse cy="-5.7" rx="5.7" ry="2.7" fill="url(#nh)"/><circle r="9.85" fill="none" stroke="#000" stroke-opacity="0.32" stroke-width="0.7"/></g><g transform="translate(1503.8 1075.8)"><ellipse cx="0.4" cy="1.5" rx="11.2" ry="11.1" fill="url(#nd)"/><circle r="10.2" fill="#A8ACE1"/><path transform="translate(0.0 1.2) rotate(60)" d="M-4.5 -1q1.5 -3 3 0t3 0t3 -.5M-3.5 2.5q2 -2 3.5 .5t3 -1.5M-1 -3.5l2.5 1.2" fill="none" stroke="#8A62D0" stroke-width="1.2" stroke-opacity="0.85" stroke-linecap="round"/><circle r="10.2" fill="url(#ns)"/><ellipse cy="-5.7" rx="5.7" ry="2.7" fill="url(#nh)"/><circle r="9.85" fill="none" stroke="#000" stroke-opacity="0.32" stroke-width="0.7"/></g><g transform="translate(1523.0 1071.6)"><ellipse cx="0.4" cy="1.5" rx="11.2" ry="11.1" fill="url(#nd)"/><circle r="10.2" fill="#E3C7A4"/><path transform="translate(0.0 1.2) rotate(0)" d="M-4 0q1 -2.5 2.2 0t2.2 0t2.2 0M-2 3q2 -1.2 4 0M-3 -3q1.5 1 3.2 -.2" fill="none" stroke="#B060B0" stroke-width="1.2" stroke-opacity="0.85" stroke-linecap="round"/><circle r="10.2" fill="url(#ns)"/><ellipse cy="-5.7" rx="5.7" ry="2.7" fill="url(#nh)"/><circle r="9.85" fill="none" stroke="#000" stroke-opacity="0.32" stroke-width="0.7"/></g><g transform="translate(1545.3 1055.6)"><ellipse cx="0.4" cy="1.5" rx="11.2" ry="11.1" fill="url(#nd)"/><circle r="10.2" fill="#E3C7A4"/><path transform="translate(0.0 1.2) rotate(80)" d="M-4 1.5l1.2 -1.6l1.2 1.6l1.2 -1.6l1.2 1.6l1.2 -1.6l1.2 1.6M-2.5 -2.5q2 -1.5 4 .3" fill="none" stroke="#B060B0" stroke-width="1.2" stroke-opacity="0.85" stroke-linecap="round"/><circle r="10.2" fill="url(#ns)"/><ellipse cy="-5.7" rx="5.7" ry="2.7" fill="url(#nh)"/><circle r="9.85" fill="none" stroke="#000" stroke-opacity="0.32" stroke-width="0.7"/></g><g transform="translate(1425.4 1104.1)"><ellipse cx="0.4" cy="1.5" rx="11.2" ry="11.1" fill="url(#nd)"/><circle r="10.2" fill="#DFB6A2"/><path transform="translate(0.0 1.2) rotate(20)" d="M-3.5 -2.5q3 .5 2 2.5t2.5 2.5M.5 -3q2.5 1 1.5 3M-4 2.5q1.5 -1.5 3 0" fill="none" stroke="#C060B0" stroke-width="1.2" stroke-opacity="0.85" stroke-linecap="round"/><circle r="10.2" fill="url(#ns)"/><ellipse cy="-5.7" rx="5.7" ry="2.7" fill="url(#nh)"/><circle r="9.85" fill="none" stroke="#000" stroke-opacity="0.32" stroke-width="0.7"/></g><g transform="translate(1459.8 1101.5)"><ellipse cx="0.4" cy="1.5" rx="11.2" ry="11.1" fill="url(#nd)"/><circle r="10.2" fill="#A4DCA6"/><path transform="translate(0.0 1.2) rotate(0)" d="M-3.5 -2.5q3 .5 2 2.5t2.5 2.5M.5 -3q2.5 1 1.5 3M-4 2.5q1.5 -1.5 3 0" fill="none" stroke="#8A78B8" stroke-width="1.2" stroke-opacity="0.85" stroke-linecap="round"/><circle r="10.2" fill="url(#ns)"/><ellipse cy="-5.7" rx="5.7" ry="2.7" fill="url(#nh)"/><circle r="9.85" fill="none" stroke="#000" stroke-opacity="0.32" stroke-width="0.7"/></g><g transform="translate(1497.5 1108.0)"><ellipse cx="0.4" cy="1.5" rx="11.2" ry="11.1" fill="url(#nd)"/><circle r="10.2" fill="#DFCC99"/><path transform="translate(0.0 1.2) rotate(0)" d="M-3.5 -2.5q3 .5 2 2.5t2.5 2.5M.5 -3q2.5 1 1.5 3M-4 2.5q1.5 -1.5 3 0" fill="none" stroke="#E05030" stroke-width="1.2" stroke-opacity="0.85" stroke-linecap="round"/><circle r="10.2" fill="url(#ns)"/><ellipse cy="-5.7" rx="5.7" ry="2.7" fill="url(#nh)"/><circle r="9.85" fill="none" stroke="#000" stroke-opacity="0.32" stroke-width="0.7"/></g><g transform="translate(1329.0 1108.9)"><ellipse cx="0.4" cy="1.5" rx="11.2" ry="11.1" fill="url(#nd)"/><circle r="10.2" fill="#A8ACE1"/><path transform="translate(0.0 1.2) rotate(60)" d="M-4.5 -1q1.5 -3 3 0t3 0t3 -.5M-3.5 2.5q2 -2 3.5 .5t3 -1.5M-1 -3.5l2.5 1.2" fill="none" stroke="#8A62D0" stroke-width="1.2" stroke-opacity="0.85" stroke-linecap="round"/><circle r="10.2" fill="url(#ns)"/><ellipse cy="-5.7" rx="5.7" ry="2.7" fill="url(#nh)"/><circle r="9.85" fill="none" stroke="#000" stroke-opacity="0.32" stroke-width="0.7"/></g><g transform="translate(1344.7 1116.8)"><ellipse cx="0.4" cy="1.5" rx="11.2" ry="11.1" fill="url(#nd)"/><circle r="10.2" fill="#96D292"/><path transform="translate(0.0 1.2) rotate(-40)" d="M-3.5 -2.5q3 .5 2 2.5t2.5 2.5M.5 -3q2.5 1 1.5 3M-4 2.5q1.5 -1.5 3 0" fill="none" stroke="#9070C0" stroke-width="1.2" stroke-opacity="0.85" stroke-linecap="round"/><circle r="10.2" fill="url(#ns)"/><ellipse cy="-5.7" rx="5.7" ry="2.7" fill="url(#nh)"/><circle r="9.85" fill="none" stroke="#000" stroke-opacity="0.32" stroke-width="0.7"/></g><g transform="translate(1262.0 1100.5)"><ellipse cx="0.4" cy="1.5" rx="11.2" ry="11.1" fill="url(#nd)"/><circle r="10.2" fill="#9DD9C0"/><path transform="translate(0.0 1.2) rotate(80)" d="M-3.5 -2.5q3 .5 2 2.5t2.5 2.5M.5 -3q2.5 1 1.5 3M-4 2.5q1.5 -1.5 3 0" fill="none" stroke="#9A7AC8" stroke-width="1.2" stroke-opacity="0.85" stroke-linecap="round"/><circle r="10.2" fill="url(#ns)"/><ellipse cy="-5.7" rx="5.7" ry="2.7" fill="url(#nh)"/><circle r="9.85" fill="none" stroke="#000" stroke-opacity="0.32" stroke-width="0.7"/></g><g transform="translate(1286.6 1120.7)"><ellipse cx="0.4" cy="1.5" rx="11.2" ry="11.1" fill="url(#nd)"/><circle r="10.2" fill="#E56259"/><path transform="translate(0.0 1.2) rotate(0)" d="M-3.5 -2.5q3 .5 2 2.5t2.5 2.5M.5 -3q2.5 1 1.5 3M-4 2.5q1.5 -1.5 3 0" fill="none" stroke="#B08020" stroke-width="1.2" stroke-opacity="0.85" stroke-linecap="round"/><circle r="10.2" fill="url(#ns)"/><ellipse cy="-5.7" rx="5.7" ry="2.7" fill="url(#nh)"/><circle r="9.85" fill="none" stroke="#000" stroke-opacity="0.32" stroke-width="0.7"/></g><g transform="translate(1237.9 1129.5)"><ellipse cx="0.4" cy="1.5" rx="11.2" ry="11.1" fill="url(#nd)"/><circle r="10.2" fill="#DFCC99"/><path transform="translate(0.0 1.2) rotate(-80)" d="M-3.5 -2.5q3 .5 2 2.5t2.5 2.5M.5 -3q2.5 1 1.5 3M-4 2.5q1.5 -1.5 3 0" fill="none" stroke="#E05030" stroke-width="1.2" stroke-opacity="0.85" stroke-linecap="round"/><circle r="10.2" fill="url(#ns)"/><ellipse cy="-5.7" rx="5.7" ry="2.7" fill="url(#nh)"/><circle r="9.85" fill="none" stroke="#000" stroke-opacity="0.32" stroke-width="0.7"/></g><g transform="translate(1395.3 1133.0)"><ellipse cx="0.4" cy="1.5" rx="11.2" ry="11.1" fill="url(#nd)"/><circle r="10.2" fill="#A8ACE1"/><path transform="translate(0.0 1.2) rotate(-80)" d="M-4 1.5l1.2 -1.6l1.2 1.6l1.2 -1.6l1.2 1.6l1.2 -1.6l1.2 1.6M-2.5 -2.5q2 -1.5 4 .3" fill="none" stroke="#8A62D0" stroke-width="1.2" stroke-opacity="0.85" stroke-linecap="round"/><circle r="10.2" fill="url(#ns)"/><ellipse cy="-5.7" rx="5.7" ry="2.7" fill="url(#nh)"/><circle r="9.85" fill="none" stroke="#000" stroke-opacity="0.32" stroke-width="0.7"/></g><g transform="translate(1359.1 1148.0)"><ellipse cx="0.4" cy="1.5" rx="11.2" ry="11.1" fill="url(#nd)"/><circle r="10.2" fill="#E3C7A4"/><path transform="translate(0.0 1.2) rotate(-20)" d="M-3.5 -2.5q3 .5 2 2.5t2.5 2.5M.5 -3q2.5 1 1.5 3M-4 2.5q1.5 -1.5 3 0" fill="none" stroke="#B060B0" stroke-width="1.2" stroke-opacity="0.85" stroke-linecap="round"/><circle r="10.2" fill="url(#ns)"/><ellipse cy="-5.7" rx="5.7" ry="2.7" fill="url(#nh)"/><circle r="9.85" fill="none" stroke="#000" stroke-opacity="0.32" stroke-width="0.7"/></g><g transform="translate(1209.3 1155.2)"><ellipse cx="0.4" cy="1.5" rx="11.2" ry="11.1" fill="url(#nd)"/><circle r="10.2" fill="#6772C2"/><path transform="translate(0.0 1.2) rotate(-40)" d="M-4.5 -1q1.5 -3 3 0t3 0t3 -.5M-3.5 2.5q2 -2 3.5 .5t3 -1.5M-1 -3.5l2.5 1.2" fill="none" stroke="#802070" stroke-width="1.2" stroke-opacity="0.85" stroke-linecap="round"/><circle r="10.2" fill="url(#ns)"/><ellipse cy="-5.7" rx="5.7" ry="2.7" fill="url(#nh)"/><circle r="9.85" fill="none" stroke="#000" stroke-opacity="0.32" stroke-width="0.7"/></g><g transform="translate(1136.5 1178.3)"><ellipse cx="0.4" cy="1.5" rx="11.2" ry="11.1" fill="url(#nd)"/><circle r="10.2" fill="#9DD9C0"/><path transform="translate(0.0 1.2) rotate(20)" d="M-4 1.5l1.2 -1.6l1.2 1.6l1.2 -1.6l1.2 1.6l1.2 -1.6l1.2 1.6M-2.5 -2.5q2 -1.5 4 .3" fill="none" stroke="#9A7AC8" stroke-width="1.2" stroke-opacity="0.85" stroke-linecap="round"/><circle r="10.2" fill="url(#ns)"/><ellipse cy="-5.7" rx="5.7" ry="2.7" fill="url(#nh)"/><circle r="9.85" fill="none" stroke="#000" stroke-opacity="0.32" stroke-width="0.7"/></g><g transform="translate(1245.9 1187.5)"><ellipse cx="0.4" cy="1.5" rx="11.2" ry="11.1" fill="url(#nd)"/><circle r="10.2" fill="#97D8C9"/><path transform="translate(0.0 1.2) rotate(60)" d="M-4.5 -1q1.5 -3 3 0t3 0t3 -.5M-3.5 2.5q2 -2 3.5 .5t3 -1.5M-1 -3.5l2.5 1.2" fill="none" stroke="#4068D0" stroke-width="1.2" stroke-opacity="0.85" stroke-linecap="round"/><circle r="10.2" fill="url(#ns)"/><ellipse cy="-5.7" rx="5.7" ry="2.7" fill="url(#nh)"/><circle r="9.85" fill="none" stroke="#000" stroke-opacity="0.32" stroke-width="0.7"/></g><g transform="translate(1211.8 1201.1)"><ellipse cx="0.4" cy="1.5" rx="11.2" ry="11.1" fill="url(#nd)"/><circle r="10.2" fill="#DFA6A1"/><path transform="translate(0.0 1.2) rotate(0)" d="M-3.5 -2.5q3 .5 2 2.5t2.5 2.5M.5 -3q2.5 1 1.5 3M-4 2.5q1.5 -1.5 3 0" fill="none" stroke="#D06090" stroke-width="1.2" stroke-opacity="0.85" stroke-linecap="round"/><circle r="10.2" fill="url(#ns)"/><ellipse cy="-5.7" rx="5.7" ry="2.7" fill="url(#nh)"/><circle r="9.85" fill="none" stroke="#000" stroke-opacity="0.32" stroke-width="0.7"/></g><g transform="translate(1339.7 1184.0)"><ellipse cx="0.4" cy="1.5" rx="11.2" ry="11.1" fill="url(#nd)"/><circle r="10.2" fill="#A8ACE1"/><path transform="translate(0.0 1.2) rotate(20)" d="M-4 1.5l1.2 -1.6l1.2 1.6l1.2 -1.6l1.2 1.6l1.2 -1.6l1.2 1.6M-2.5 -2.5q2 -1.5 4 .3" fill="none" stroke="#8A62D0" stroke-width="1.2" stroke-opacity="0.85" stroke-linecap="round"/><circle r="10.2" fill="url(#ns)"/><ellipse cy="-5.7" rx="5.7" ry="2.7" fill="url(#nh)"/><circle r="9.85" fill="none" stroke="#000" stroke-opacity="0.32" stroke-width="0.7"/></g><g transform="translate(1188.0 1236.0)"><ellipse cx="0.4" cy="1.5" rx="11.2" ry="11.1" fill="url(#nd)"/><circle r="10.2" fill="#85BEE1"/><path transform="translate(0.0 1.2) rotate(20)" d="M-4 0q1 -2.5 2.2 0t2.2 0t2.2 0M-2 3q2 -1.2 4 0M-3 -3q1.5 1 3.2 -.2" fill="none" stroke="#3060D8" stroke-width="1.2" stroke-opacity="0.85" stroke-linecap="round"/><circle r="10.2" fill="url(#ns)"/><ellipse cy="-5.7" rx="5.7" ry="2.7" fill="url(#nh)"/><circle r="9.85" fill="none" stroke="#000" stroke-opacity="0.32" stroke-width="0.7"/></g><g transform="translate(1249.2 1233.1)"><ellipse cx="0.4" cy="1.5" rx="11.2" ry="11.1" fill="url(#nd)"/><circle r="10.2" fill="#9FC5DB"/><path transform="translate(0.0 1.2) rotate(60)" d="M-4 1.5l1.2 -1.6l1.2 1.6l1.2 -1.6l1.2 1.6l1.2 -1.6l1.2 1.6M-2.5 -2.5q2 -1.5 4 .3" fill="none" stroke="#7FA060" stroke-width="1.2" stroke-opacity="0.85" stroke-linecap="round"/><circle r="10.2" fill="url(#ns)"/><ellipse cy="-5.7" rx="5.7" ry="2.7" fill="url(#nh)"/><circle r="9.85" fill="none" stroke="#000" stroke-opacity="0.32" stroke-width="0.7"/></g><g transform="translate(1317.6 1232.4)"><ellipse cx="0.4" cy="1.5" rx="11.2" ry="11.1" fill="url(#nd)"/><circle r="10.2" fill="#B7D08E"/><path transform="translate(0.0 1.2) rotate(-20)" d="M-4 1.5l1.2 -1.6l1.2 1.6l1.2 -1.6l1.2 1.6l1.2 -1.6l1.2 1.6M-2.5 -2.5q2 -1.5 4 .3" fill="none" stroke="#A090B0" stroke-width="1.2" stroke-opacity="0.85" stroke-linecap="round"/><circle r="10.2" fill="url(#ns)"/><ellipse cy="-5.7" rx="5.7" ry="2.7" fill="url(#nh)"/><circle r="9.85" fill="none" stroke="#000" stroke-opacity="0.32" stroke-width="0.7"/></g><g transform="translate(1383.5 1238.7)"><ellipse cx="0.4" cy="1.5" rx="11.2" ry="11.1" fill="url(#nd)"/><circle r="10.2" fill="#A4DCA6"/><path transform="translate(0.0 1.2) rotate(60)" d="M-3.5 -2.5q3 .5 2 2.5t2.5 2.5M.5 -3q2.5 1 1.5 3M-4 2.5q1.5 -1.5 3 0" fill="none" stroke="#8A78B8" stroke-width="1.2" stroke-opacity="0.85" stroke-linecap="round"/><circle r="10.2" fill="url(#ns)"/><ellipse cy="-5.7" rx="5.7" ry="2.7" fill="url(#nh)"/><circle r="9.85" fill="none" stroke="#000" stroke-opacity="0.32" stroke-width="0.7"/></g><g transform="translate(1411.2 1231.5)"><ellipse cx="0.4" cy="1.5" rx="11.2" ry="11.1" fill="url(#nd)"/><circle r="10.2" fill="#A8ACE1"/><path transform="translate(0.0 1.2) rotate(0)" d="M-4 0q1 -2.5 2.2 0t2.2 0t2.2 0M-2 3q2 -1.2 4 0M-3 -3q1.5 1 3.2 -.2" fill="none" stroke="#8A62D0" stroke-width="1.2" stroke-opacity="0.85" stroke-linecap="round"/><circle r="10.2" fill="url(#ns)"/><ellipse cy="-5.7" rx="5.7" ry="2.7" fill="url(#nh)"/><circle r="9.85" fill="none" stroke="#000" stroke-opacity="0.32" stroke-width="0.7"/></g><g transform="translate(1364.7 1264.7)"><ellipse cx="0.4" cy="1.5" rx="11.2" ry="11.1" fill="url(#nd)"/><circle r="10.2" fill="#A4DCA6"/><path transform="translate(0.0 1.2) rotate(-80)" d="M-4.5 -1q1.5 -3 3 0t3 0t3 -.5M-3.5 2.5q2 -2 3.5 .5t3 -1.5M-1 -3.5l2.5 1.2" fill="none" stroke="#8A78B8" stroke-width="1.2" stroke-opacity="0.85" stroke-linecap="round"/><circle r="10.2" fill="url(#ns)"/><ellipse cy="-5.7" rx="5.7" ry="2.7" fill="url(#nh)"/><circle r="9.85" fill="none" stroke="#000" stroke-opacity="0.32" stroke-width="0.7"/></g><g transform="translate(1455.2 1229.3)"><ellipse cx="0.4" cy="1.5" rx="11.2" ry="11.1" fill="url(#nd)"/><circle r="10.2" fill="#E3C7A4"/><path transform="translate(0.0 1.2) rotate(60)" d="M-4 0q1 -2.5 2.2 0t2.2 0t2.2 0M-2 3q2 -1.2 4 0M-3 -3q1.5 1 3.2 -.2" fill="none" stroke="#B060B0" stroke-width="1.2" stroke-opacity="0.85" stroke-linecap="round"/><circle r="10.2" fill="url(#ns)"/><ellipse cy="-5.7" rx="5.7" ry="2.7" fill="url(#nh)"/><circle r="9.85" fill="none" stroke="#000" stroke-opacity="0.32" stroke-width="0.7"/></g><g transform="translate(1452.1 1158.8)"><ellipse cx="0.4" cy="1.5" rx="11.2" ry="11.1" fill="url(#nd)"/><circle r="10.2" fill="#A8ACE1"/><path transform="translate(0.0 1.2) rotate(80)" d="M-4 1.5l1.2 -1.6l1.2 1.6l1.2 -1.6l1.2 1.6l1.2 -1.6l1.2 1.6M-2.5 -2.5q2 -1.5 4 .3" fill="none" stroke="#8A62D0" stroke-width="1.2" stroke-opacity="0.85" stroke-linecap="round"/><circle r="10.2" fill="url(#ns)"/><ellipse cy="-5.7" rx="5.7" ry="2.7" fill="url(#nh)"/><circle r="9.85" fill="none" stroke="#000" stroke-opacity="0.32" stroke-width="0.7"/></g><g transform="translate(1472.1 1175.5)"><ellipse cx="0.4" cy="1.5" rx="11.2" ry="11.1" fill="url(#nd)"/><circle r="10.2" fill="#A8ACE1"/><path transform="translate(0.0 1.2) rotate(80)" d="M-4.5 -1q1.5 -3 3 0t3 0t3 -.5M-3.5 2.5q2 -2 3.5 .5t3 -1.5M-1 -3.5l2.5 1.2" fill="none" stroke="#8A62D0" stroke-width="1.2" stroke-opacity="0.85" stroke-linecap="round"/><circle r="10.2" fill="url(#ns)"/><ellipse cy="-5.7" rx="5.7" ry="2.7" fill="url(#nh)"/><circle r="9.85" fill="none" stroke="#000" stroke-opacity="0.32" stroke-width="0.7"/></g><g transform="translate(1497.0 1166.6)"><ellipse cx="0.4" cy="1.5" rx="11.2" ry="11.1" fill="url(#nd)"/><circle r="10.2" fill="#C9DB9C"/><path transform="translate(0.0 1.2) rotate(20)" d="M-4 1.5l1.2 -1.6l1.2 1.6l1.2 -1.6l1.2 1.6l1.2 -1.6l1.2 1.6M-2.5 -2.5q2 -1.5 4 .3" fill="none" stroke="#C080A0" stroke-width="1.2" stroke-opacity="0.85" stroke-linecap="round"/><circle r="10.2" fill="url(#ns)"/><ellipse cy="-5.7" rx="5.7" ry="2.7" fill="url(#nh)"/><circle r="9.85" fill="none" stroke="#000" stroke-opacity="0.32" stroke-width="0.7"/></g><g transform="translate(1538.8 1125.3)"><ellipse cx="0.4" cy="1.5" rx="11.2" ry="11.1" fill="url(#nd)"/><circle r="10.2" fill="#E3C7A4"/><path transform="translate(0.0 1.2) rotate(20)" d="M-4 0q1 -2.5 2.2 0t2.2 0t2.2 0M-2 3q2 -1.2 4 0M-3 -3q1.5 1 3.2 -.2" fill="none" stroke="#B060B0" stroke-width="1.2" stroke-opacity="0.85" stroke-linecap="round"/><circle r="10.2" fill="url(#ns)"/><ellipse cy="-5.7" rx="5.7" ry="2.7" fill="url(#nh)"/><circle r="9.85" fill="none" stroke="#000" stroke-opacity="0.32" stroke-width="0.7"/></g><g transform="translate(1585.2 1129.9)"><ellipse cx="0.4" cy="1.5" rx="11.2" ry="11.1" fill="url(#nd)"/><circle r="10.2" fill="#96D292"/><path transform="translate(0.0 1.2) rotate(-60)" d="M-3.5 -2.5q3 .5 2 2.5t2.5 2.5M.5 -3q2.5 1 1.5 3M-4 2.5q1.5 -1.5 3 0" fill="none" stroke="#9070C0" stroke-width="1.2" stroke-opacity="0.85" stroke-linecap="round"/><circle r="10.2" fill="url(#ns)"/><ellipse cy="-5.7" rx="5.7" ry="2.7" fill="url(#nh)"/><circle r="9.85" fill="none" stroke="#000" stroke-opacity="0.32" stroke-width="0.7"/></g><g transform="translate(1608.8 1110.0)"><ellipse cx="0.4" cy="1.5" rx="11.2" ry="11.1" fill="url(#nd)"/><circle r="10.2" fill="#96D292"/><path transform="translate(0.0 1.2) rotate(20)" d="M-4 0q1 -2.5 2.2 0t2.2 0t2.2 0M-2 3q2 -1.2 4 0M-3 -3q1.5 1 3.2 -.2" fill="none" stroke="#9070C0" stroke-width="1.2" stroke-opacity="0.85" stroke-linecap="round"/><circle r="10.2" fill="url(#ns)"/><ellipse cy="-5.7" rx="5.7" ry="2.7" fill="url(#nh)"/><circle r="9.85" fill="none" stroke="#000" stroke-opacity="0.32" stroke-width="0.7"/></g><g transform="translate(1587.5 1075.8)"><ellipse cx="0.4" cy="1.5" rx="11.2" ry="11.1" fill="url(#nd)"/><circle r="10.2" fill="#A686D6"/><path transform="translate(0.0 1.2) rotate(0)" d="M-4.5 -1q1.5 -3 3 0t3 0t3 -.5M-3.5 2.5q2 -2 3.5 .5t3 -1.5M-1 -3.5l2.5 1.2" fill="none" stroke="#D03070" stroke-width="1.2" stroke-opacity="0.85" stroke-linecap="round"/><circle r="10.2" fill="url(#ns)"/><ellipse cy="-5.7" rx="5.7" ry="2.7" fill="url(#nh)"/><circle r="9.85" fill="none" stroke="#000" stroke-opacity="0.32" stroke-width="0.7"/></g><g transform="translate(1619.4 1060.2)"><ellipse cx="0.4" cy="1.5" rx="11.2" ry="11.1" fill="url(#nd)"/><circle r="10.2" fill="#C9DB9C"/><path transform="translate(0.0 1.2) rotate(-20)" d="M-4 0q1 -2.5 2.2 0t2.2 0t2.2 0M-2 3q2 -1.2 4 0M-3 -3q1.5 1 3.2 -.2" fill="none" stroke="#C080A0" stroke-width="1.2" stroke-opacity="0.85" stroke-linecap="round"/><circle r="10.2" fill="url(#ns)"/><ellipse cy="-5.7" rx="5.7" ry="2.7" fill="url(#nh)"/><circle r="9.85" fill="none" stroke="#000" stroke-opacity="0.32" stroke-width="0.7"/></g><g transform="translate(1648.1 1032.4)"><ellipse cx="0.4" cy="1.5" rx="11.2" ry="11.1" fill="url(#nd)"/><circle r="10.2" fill="#A1D9DB"/><path transform="translate(0.0 1.2) rotate(-40)" d="M-4 1.5l1.2 -1.6l1.2 1.6l1.2 -1.6l1.2 1.6l1.2 -1.6l1.2 1.6M-2.5 -2.5q2 -1.5 4 .3" fill="none" stroke="#8A72C8" stroke-width="1.2" stroke-opacity="0.85" stroke-linecap="round"/><circle r="10.2" fill="url(#ns)"/><ellipse cy="-5.7" rx="5.7" ry="2.7" fill="url(#nh)"/><circle r="9.85" fill="none" stroke="#000" stroke-opacity="0.32" stroke-width="0.7"/></g><g transform="translate(1673.7 1068.5)"><ellipse cx="0.4" cy="1.5" rx="11.2" ry="11.1" fill="url(#nd)"/><circle r="10.2" fill="#CECE87"/><path transform="translate(0.0 1.2) rotate(-40)" d="M-3.5 -2.5q3 .5 2 2.5t2.5 2.5M.5 -3q2.5 1 1.5 3M-4 2.5q1.5 -1.5 3 0" fill="none" stroke="#C05080" stroke-width="1.2" stroke-opacity="0.85" stroke-linecap="round"/><circle r="10.2" fill="url(#ns)"/><ellipse cy="-5.7" rx="5.7" ry="2.7" fill="url(#nh)"/><circle r="9.85" fill="none" stroke="#000" stroke-opacity="0.32" stroke-width="0.7"/></g><g transform="translate(1696.7 1066.0)"><ellipse cx="0.4" cy="1.5" rx="11.2" ry="11.1" fill="url(#nd)"/><circle r="10.2" fill="#96D292"/><path transform="translate(0.0 1.2) rotate(-80)" d="M-3.5 -2.5q3 .5 2 2.5t2.5 2.5M.5 -3q2.5 1 1.5 3M-4 2.5q1.5 -1.5 3 0" fill="none" stroke="#9070C0" stroke-width="1.2" stroke-opacity="0.85" stroke-linecap="round"/><circle r="10.2" fill="url(#ns)"/><ellipse cy="-5.7" rx="5.7" ry="2.7" fill="url(#nh)"/><circle r="9.85" fill="none" stroke="#000" stroke-opacity="0.32" stroke-width="0.7"/></g><g transform="translate(1759.5 1042.5)"><ellipse cx="0.4" cy="1.5" rx="11.2" ry="11.1" fill="url(#nd)"/><circle r="10.2" fill="#9DD9C0"/><path transform="translate(0.0 1.2) rotate(-40)" d="M-4.5 -1q1.5 -3 3 0t3 0t3 -.5M-3.5 2.5q2 -2 3.5 .5t3 -1.5M-1 -3.5l2.5 1.2" fill="none" stroke="#9A7AC8" stroke-width="1.2" stroke-opacity="0.85" stroke-linecap="round"/><circle r="10.2" fill="url(#ns)"/><ellipse cy="-5.7" rx="5.7" ry="2.7" fill="url(#nh)"/><circle r="9.85" fill="none" stroke="#000" stroke-opacity="0.32" stroke-width="0.7"/></g><g transform="translate(1722.6 963.4)"><ellipse cx="0.4" cy="1.5" rx="11.2" ry="11.1" fill="url(#nd)"/><circle r="10.2" fill="#A8ACE1"/><path transform="translate(0.0 1.2) rotate(80)" d="M-4 1.5l1.2 -1.6l1.2 1.6l1.2 -1.6l1.2 1.6l1.2 -1.6l1.2 1.6M-2.5 -2.5q2 -1.5 4 .3" fill="none" stroke="#8A62D0" stroke-width="1.2" stroke-opacity="0.85" stroke-linecap="round"/><circle r="10.2" fill="url(#ns)"/><ellipse cy="-5.7" rx="5.7" ry="2.7" fill="url(#nh)"/><circle r="9.85" fill="none" stroke="#000" stroke-opacity="0.32" stroke-width="0.7"/></g><g transform="translate(1698.3 990.5)"><ellipse cx="0.4" cy="1.5" rx="11.2" ry="11.1" fill="url(#nd)"/><circle r="10.2" fill="#9CB5DF"/><path transform="translate(0.0 1.2) rotate(20)" d="M-3.5 -2.5q3 .5 2 2.5t2.5 2.5M.5 -3q2.5 1 1.5 3M-4 2.5q1.5 -1.5 3 0" fill="none" stroke="#8070C8" stroke-width="1.2" stroke-opacity="0.85" stroke-linecap="round"/><circle r="10.2" fill="url(#ns)"/><ellipse cy="-5.7" rx="5.7" ry="2.7" fill="url(#nh)"/><circle r="9.85" fill="none" stroke="#000" stroke-opacity="0.32" stroke-width="0.7"/></g><g transform="translate(1697.3 1110.7)"><ellipse cx="0.4" cy="1.5" rx="11.2" ry="11.1" fill="url(#nd)"/><circle r="10.2" fill="#9FC5DB"/><path transform="translate(0.0 1.2) rotate(40)" d="M-4 1.5l1.2 -1.6l1.2 1.6l1.2 -1.6l1.2 1.6l1.2 -1.6l1.2 1.6M-2.5 -2.5q2 -1.5 4 .3" fill="none" stroke="#7FA060" stroke-width="1.2" stroke-opacity="0.85" stroke-linecap="round"/><circle r="10.2" fill="url(#ns)"/><ellipse cy="-5.7" rx="5.7" ry="2.7" fill="url(#nh)"/><circle r="9.85" fill="none" stroke="#000" stroke-opacity="0.32" stroke-width="0.7"/></g><g transform="translate(1639.3 1146.3)"><ellipse cx="0.4" cy="1.5" rx="11.2" ry="11.1" fill="url(#nd)"/><circle r="10.2" fill="#DFDFA2"/><path transform="translate(0.0 1.2) rotate(40)" d="M-3.5 -2.5q3 .5 2 2.5t2.5 2.5M.5 -3q2.5 1 1.5 3M-4 2.5q1.5 -1.5 3 0" fill="none" stroke="#B070C0" stroke-width="1.2" stroke-opacity="0.85" stroke-linecap="round"/><circle r="10.2" fill="url(#ns)"/><ellipse cy="-5.7" rx="5.7" ry="2.7" fill="url(#nh)"/><circle r="9.85" fill="none" stroke="#000" stroke-opacity="0.32" stroke-width="0.7"/></g><g transform="translate(1559.0 1163.8)"><ellipse cx="0.4" cy="1.5" rx="11.2" ry="11.1" fill="url(#nd)"/><circle r="10.2" fill="#E6ACAC"/><path transform="translate(0.0 1.2) rotate(-40)" d="M-4.5 -1q1.5 -3 3 0t3 0t3 -.5M-3.5 2.5q2 -2 3.5 .5t3 -1.5M-1 -3.5l2.5 1.2" fill="none" stroke="#E04080" stroke-width="1.2" stroke-opacity="0.85" stroke-linecap="round"/><circle r="10.2" fill="url(#ns)"/><ellipse cy="-5.7" rx="5.7" ry="2.7" fill="url(#nh)"/><circle r="9.85" fill="none" stroke="#000" stroke-opacity="0.32" stroke-width="0.7"/></g><g transform="translate(1591.7 1156.7)"><ellipse cx="0.4" cy="1.5" rx="11.2" ry="11.1" fill="url(#nd)"/><circle r="10.2" fill="#9DD9C0"/><path transform="translate(0.0 1.2) rotate(60)" d="M-4 1.5l1.2 -1.6l1.2 1.6l1.2 -1.6l1.2 1.6l1.2 -1.6l1.2 1.6M-2.5 -2.5q2 -1.5 4 .3" fill="none" stroke="#9A7AC8" stroke-width="1.2" stroke-opacity="0.85" stroke-linecap="round"/><circle r="10.2" fill="url(#ns)"/><ellipse cy="-5.7" rx="5.7" ry="2.7" fill="url(#nh)"/><circle r="9.85" fill="none" stroke="#000" stroke-opacity="0.32" stroke-width="0.7"/></g><g transform="translate(1725.0 1161.5)"><ellipse cx="0.4" cy="1.5" rx="11.2" ry="11.1" fill="url(#nd)"/><circle r="10.2" fill="#A4DCA6"/><path transform="translate(0.0 1.2) rotate(0)" d="M-4.5 -1q1.5 -3 3 0t3 0t3 -.5M-3.5 2.5q2 -2 3.5 .5t3 -1.5M-1 -3.5l2.5 1.2" fill="none" stroke="#8A78B8" stroke-width="1.2" stroke-opacity="0.85" stroke-linecap="round"/><circle r="10.2" fill="url(#ns)"/><ellipse cy="-5.7" rx="5.7" ry="2.7" fill="url(#nh)"/><circle r="9.85" fill="none" stroke="#000" stroke-opacity="0.32" stroke-width="0.7"/></g><g transform="translate(1698.6 1176.5)"><ellipse cx="0.4" cy="1.5" rx="11.2" ry="11.1" fill="url(#nd)"/><circle r="10.2" fill="#7BCAC5"/><path transform="translate(0.0 1.2) rotate(-20)" d="M-3.5 -2.5q3 .5 2 2.5t2.5 2.5M.5 -3q2.5 1 1.5 3M-4 2.5q1.5 -1.5 3 0" fill="none" stroke="#4080D0" stroke-width="1.2" stroke-opacity="0.85" stroke-linecap="round"/><circle r="10.2" fill="url(#ns)"/><ellipse cy="-5.7" rx="5.7" ry="2.7" fill="url(#nh)"/><circle r="9.85" fill="none" stroke="#000" stroke-opacity="0.32" stroke-width="0.7"/></g><g transform="translate(1713.1 1196.0)"><ellipse cx="0.4" cy="1.5" rx="11.2" ry="11.1" fill="url(#nd)"/><circle r="10.2" fill="#7BCAC5"/><path transform="translate(0.0 1.2) rotate(-40)" d="M-3.5 -2.5q3 .5 2 2.5t2.5 2.5M.5 -3q2.5 1 1.5 3M-4 2.5q1.5 -1.5 3 0" fill="none" stroke="#4080D0" stroke-width="1.2" stroke-opacity="0.85" stroke-linecap="round"/><circle r="10.2" fill="url(#ns)"/><ellipse cy="-5.7" rx="5.7" ry="2.7" fill="url(#nh)"/><circle r="9.85" fill="none" stroke="#000" stroke-opacity="0.32" stroke-width="0.7"/></g><g transform="translate(1596.2 1201.4)"><ellipse cx="0.4" cy="1.5" rx="11.2" ry="11.1" fill="url(#nd)"/><circle r="10.2" fill="#9DD9C0"/><path transform="translate(0.0 1.2) rotate(20)" d="M-4 0q1 -2.5 2.2 0t2.2 0t2.2 0M-2 3q2 -1.2 4 0M-3 -3q1.5 1 3.2 -.2" fill="none" stroke="#9A7AC8" stroke-width="1.2" stroke-opacity="0.85" stroke-linecap="round"/><circle r="10.2" fill="url(#ns)"/><ellipse cy="-5.7" rx="5.7" ry="2.7" fill="url(#nh)"/><circle r="9.85" fill="none" stroke="#000" stroke-opacity="0.32" stroke-width="0.7"/></g><g transform="translate(1533.9 1206.0)"><ellipse cx="0.4" cy="1.5" rx="11.2" ry="11.1" fill="url(#nd)"/><circle r="10.2" fill="#DFDFA2"/><path transform="translate(0.0 1.2) rotate(40)" d="M-3.5 -2.5q3 .5 2 2.5t2.5 2.5M.5 -3q2.5 1 1.5 3M-4 2.5q1.5 -1.5 3 0" fill="none" stroke="#B070C0" stroke-width="1.2" stroke-opacity="0.85" stroke-linecap="round"/><circle r="10.2" fill="url(#ns)"/><ellipse cy="-5.7" rx="5.7" ry="2.7" fill="url(#nh)"/><circle r="9.85" fill="none" stroke="#000" stroke-opacity="0.32" stroke-width="0.7"/></g><g transform="translate(1554.6 1217.3)"><ellipse cx="0.4" cy="1.5" rx="11.2" ry="11.1" fill="url(#nd)"/><circle r="10.2" fill="#8BD6AB"/><path transform="translate(0.0 1.2) rotate(80)" d="M-4 1.5l1.2 -1.6l1.2 1.6l1.2 -1.6l1.2 1.6l1.2 -1.6l1.2 1.6M-2.5 -2.5q2 -1.5 4 .3" fill="none" stroke="#D07030" stroke-width="1.2" stroke-opacity="0.85" stroke-linecap="round"/><circle r="10.2" fill="url(#ns)"/><ellipse cy="-5.7" rx="5.7" ry="2.7" fill="url(#nh)"/><circle r="9.85" fill="none" stroke="#000" stroke-opacity="0.32" stroke-width="0.7"/></g><g transform="translate(1562.6 1242.4)"><ellipse cx="0.4" cy="1.5" rx="11.2" ry="11.1" fill="url(#nd)"/><circle r="10.2" fill="#8BD6AB"/><path transform="translate(0.0 1.2) rotate(20)" d="M-4 1.5l1.2 -1.6l1.2 1.6l1.2 -1.6l1.2 1.6l1.2 -1.6l1.2 1.6M-2.5 -2.5q2 -1.5 4 .3" fill="none" stroke="#D07030" stroke-width="1.2" stroke-opacity="0.85" stroke-linecap="round"/><circle r="10.2" fill="url(#ns)"/><ellipse cy="-5.7" rx="5.7" ry="2.7" fill="url(#nh)"/><circle r="9.85" fill="none" stroke="#000" stroke-opacity="0.32" stroke-width="0.7"/></g><g transform="translate(1497.2 1233.3)"><ellipse cx="0.4" cy="1.5" rx="11.2" ry="11.1" fill="url(#nd)"/><circle r="10.2" fill="#96A3DB"/><path transform="translate(0.0 1.2) rotate(-60)" d="M-4 1.5l1.2 -1.6l1.2 1.6l1.2 -1.6l1.2 1.6l1.2 -1.6l1.2 1.6M-2.5 -2.5q2 -1.5 4 .3" fill="none" stroke="#8A62D0" stroke-width="1.2" stroke-opacity="0.85" stroke-linecap="round"/><circle r="10.2" fill="url(#ns)"/><ellipse cy="-5.7" rx="5.7" ry="2.7" fill="url(#nh)"/><circle r="9.85" fill="none" stroke="#000" stroke-opacity="0.32" stroke-width="0.7"/></g><g transform="translate(1641.9 1222.6)"><ellipse cx="0.4" cy="1.5" rx="11.2" ry="11.1" fill="url(#nd)"/><circle r="10.2" fill="#E48D8D"/><path transform="translate(0.0 1.2) rotate(80)" d="M-4 0q1 -2.5 2.2 0t2.2 0t2.2 0M-2 3q2 -1.2 4 0M-3 -3q1.5 1 3.2 -.2" fill="none" stroke="#E02020" stroke-width="1.2" stroke-opacity="0.85" stroke-linecap="round"/><circle r="10.2" fill="url(#ns)"/><ellipse cy="-5.7" rx="5.7" ry="2.7" fill="url(#nh)"/><circle r="9.85" fill="none" stroke="#000" stroke-opacity="0.32" stroke-width="0.7"/></g><g transform="translate(1696.0 1236.0)"><ellipse cx="0.4" cy="1.5" rx="11.2" ry="11.1" fill="url(#nd)"/><circle r="10.2" fill="#C9DB9C"/><path transform="translate(0.0 1.2) rotate(-20)" d="M-4 1.5l1.2 -1.6l1.2 1.6l1.2 -1.6l1.2 1.6l1.2 -1.6l1.2 1.6M-2.5 -2.5q2 -1.5 4 .3" fill="none" stroke="#C080A0" stroke-width="1.2" stroke-opacity="0.85" stroke-linecap="round"/><circle r="10.2" fill="url(#ns)"/><ellipse cy="-5.7" rx="5.7" ry="2.7" fill="url(#nh)"/><circle r="9.85" fill="none" stroke="#000" stroke-opacity="0.32" stroke-width="0.7"/></g><g transform="translate(1692.6 1257.4)"><ellipse cx="0.4" cy="1.5" rx="11.2" ry="11.1" fill="url(#nd)"/><circle r="10.2" fill="#E3C7A4"/><path transform="translate(0.0 1.2) rotate(20)" d="M-4.5 -1q1.5 -3 3 0t3 0t3 -.5M-3.5 2.5q2 -2 3.5 .5t3 -1.5M-1 -3.5l2.5 1.2" fill="none" stroke="#B060B0" stroke-width="1.2" stroke-opacity="0.85" stroke-linecap="round"/><circle r="10.2" fill="url(#ns)"/><ellipse cy="-5.7" rx="5.7" ry="2.7" fill="url(#nh)"/><circle r="9.85" fill="none" stroke="#000" stroke-opacity="0.32" stroke-width="0.7"/></g><g transform="translate(1758.9 1205.0)"><ellipse cx="0.4" cy="1.5" rx="11.2" ry="11.1" fill="url(#nd)"/><circle r="10.2" fill="#978CD9"/><path transform="translate(0.0 1.2) rotate(20)" d="M-4.5 -1q1.5 -3 3 0t3 0t3 -.5M-3.5 2.5q2 -2 3.5 .5t3 -1.5M-1 -3.5l2.5 1.2" fill="none" stroke="#9060D0" stroke-width="1.2" stroke-opacity="0.85" stroke-linecap="round"/><circle r="10.2" fill="url(#ns)"/><ellipse cy="-5.7" rx="5.7" ry="2.7" fill="url(#nh)"/><circle r="9.85" fill="none" stroke="#000" stroke-opacity="0.32" stroke-width="0.7"/></g><g transform="translate(1500.4 1284.0)"><ellipse cx="0.4" cy="1.5" rx="11.2" ry="11.1" fill="url(#nd)"/><circle r="10.2" fill="#DFB6A2"/><path transform="translate(0.0 1.2) rotate(80)" d="M-4 1.5l1.2 -1.6l1.2 1.6l1.2 -1.6l1.2 1.6l1.2 -1.6l1.2 1.6M-2.5 -2.5q2 -1.5 4 .3" fill="none" stroke="#C060B0" stroke-width="1.2" stroke-opacity="0.85" stroke-linecap="round"/><circle r="10.2" fill="url(#ns)"/><ellipse cy="-5.7" rx="5.7" ry="2.7" fill="url(#nh)"/><circle r="9.85" fill="none" stroke="#000" stroke-opacity="0.32" stroke-width="0.7"/></g><g transform="translate(1512.0 1301.5)"><ellipse cx="0.4" cy="1.5" rx="11.2" ry="11.1" fill="url(#nd)"/><circle r="10.2" fill="#E6ACAC"/><path transform="translate(0.0 1.2) rotate(40)" d="M-3.5 -2.5q3 .5 2 2.5t2.5 2.5M.5 -3q2.5 1 1.5 3M-4 2.5q1.5 -1.5 3 0" fill="none" stroke="#E04080" stroke-width="1.2" stroke-opacity="0.85" stroke-linecap="round"/><circle r="10.2" fill="url(#ns)"/><ellipse cy="-5.7" rx="5.7" ry="2.7" fill="url(#nh)"/><circle r="9.85" fill="none" stroke="#000" stroke-opacity="0.32" stroke-width="0.7"/></g><g transform="translate(1444.5 1291.1)"><ellipse cx="0.4" cy="1.5" rx="11.2" ry="11.1" fill="url(#nd)"/><circle r="10.2" fill="#A8ACE1"/><path transform="translate(0.0 1.2) rotate(-60)" d="M-4 1.5l1.2 -1.6l1.2 1.6l1.2 -1.6l1.2 1.6l1.2 -1.6l1.2 1.6M-2.5 -2.5q2 -1.5 4 .3" fill="none" stroke="#8A62D0" stroke-width="1.2" stroke-opacity="0.85" stroke-linecap="round"/><circle r="10.2" fill="url(#ns)"/><ellipse cy="-5.7" rx="5.7" ry="2.7" fill="url(#nh)"/><circle r="9.85" fill="none" stroke="#000" stroke-opacity="0.32" stroke-width="0.7"/></g><g transform="translate(1455.3 1319.2)"><ellipse cx="0.4" cy="1.5" rx="11.2" ry="11.1" fill="url(#nd)"/><circle r="10.2" fill="#978CD9"/><path transform="translate(0.0 1.2) rotate(-60)" d="M-4 1.5l1.2 -1.6l1.2 1.6l1.2 -1.6l1.2 1.6l1.2 -1.6l1.2 1.6M-2.5 -2.5q2 -1.5 4 .3" fill="none" stroke="#9060D0" stroke-width="1.2" stroke-opacity="0.85" stroke-linecap="round"/><circle r="10.2" fill="url(#ns)"/><ellipse cy="-5.7" rx="5.7" ry="2.7" fill="url(#nh)"/><circle r="9.85" fill="none" stroke="#000" stroke-opacity="0.32" stroke-width="0.7"/></g><g transform="translate(1379.7 1293.0)"><ellipse cx="0.4" cy="1.5" rx="11.2" ry="11.1" fill="url(#nd)"/><circle r="10.2" fill="#A6D099"/><path transform="translate(0.0 1.2) rotate(-40)" d="M-4 1.5l1.2 -1.6l1.2 1.6l1.2 -1.6l1.2 1.6l1.2 -1.6l1.2 1.6M-2.5 -2.5q2 -1.5 4 .3" fill="none" stroke="#9A78C0" stroke-width="1.2" stroke-opacity="0.85" stroke-linecap="round"/><circle r="10.2" fill="url(#ns)"/><ellipse cy="-5.7" rx="5.7" ry="2.7" fill="url(#nh)"/><circle r="9.85" fill="none" stroke="#000" stroke-opacity="0.32" stroke-width="0.7"/></g><g transform="translate(1517.0 1383.5)"><ellipse cx="0.4" cy="1.5" rx="11.2" ry="11.1" fill="url(#nd)"/><circle r="10.2" fill="#96D292"/><path transform="translate(0.0 1.2) rotate(-80)" d="M-3.5 -2.5q3 .5 2 2.5t2.5 2.5M.5 -3q2.5 1 1.5 3M-4 2.5q1.5 -1.5 3 0" fill="none" stroke="#9070C0" stroke-width="1.2" stroke-opacity="0.85" stroke-linecap="round"/><circle r="10.2" fill="url(#ns)"/><ellipse cy="-5.7" rx="5.7" ry="2.7" fill="url(#nh)"/><circle r="9.85" fill="none" stroke="#000" stroke-opacity="0.32" stroke-width="0.7"/></g><g transform="translate(1659.3 1274.9)"><ellipse cx="0.4" cy="1.5" rx="11.2" ry="11.1" fill="url(#nd)"/><circle r="10.2" fill="#789DD6"/><path transform="translate(0.0 1.2) rotate(0)" d="M-4 0q1 -2.5 2.2 0t2.2 0t2.2 0M-2 3q2 -1.2 4 0M-3 -3q1.5 1 3.2 -.2" fill="none" stroke="#3050D0" stroke-width="1.2" stroke-opacity="0.85" stroke-linecap="round"/><circle r="10.2" fill="url(#ns)"/><ellipse cy="-5.7" rx="5.7" ry="2.7" fill="url(#nh)"/><circle r="9.85" fill="none" stroke="#000" stroke-opacity="0.32" stroke-width="0.7"/></g><g transform="translate(1622.7 1301.7)"><ellipse cx="0.4" cy="1.5" rx="11.2" ry="11.1" fill="url(#nd)"/><circle r="10.2" fill="#96D292"/><path transform="translate(0.0 1.2) rotate(-60)" d="M-4 1.5l1.2 -1.6l1.2 1.6l1.2 -1.6l1.2 1.6l1.2 -1.6l1.2 1.6M-2.5 -2.5q2 -1.5 4 .3" fill="none" stroke="#9070C0" stroke-width="1.2" stroke-opacity="0.85" stroke-linecap="round"/><circle r="10.2" fill="url(#ns)"/><ellipse cy="-5.7" rx="5.7" ry="2.7" fill="url(#nh)"/><circle r="9.85" fill="none" stroke="#000" stroke-opacity="0.32" stroke-width="0.7"/></g><g transform="translate(1676.5 1309.0)"><ellipse cx="0.4" cy="1.5" rx="11.2" ry="11.1" fill="url(#nd)"/><circle r="10.2" fill="#A1D9DB"/><path transform="translate(0.0 1.2) rotate(-60)" d="M-3.5 -2.5q3 .5 2 2.5t2.5 2.5M.5 -3q2.5 1 1.5 3M-4 2.5q1.5 -1.5 3 0" fill="none" stroke="#8A72C8" stroke-width="1.2" stroke-opacity="0.85" stroke-linecap="round"/><circle r="10.2" fill="url(#ns)"/><ellipse cy="-5.7" rx="5.7" ry="2.7" fill="url(#nh)"/><circle r="9.85" fill="none" stroke="#000" stroke-opacity="0.32" stroke-width="0.7"/></g><g transform="translate(1754.7 1324.8)"><ellipse cx="0.4" cy="1.5" rx="11.2" ry="11.1" fill="url(#nd)"/><circle r="10.2" fill="#DFCC99"/><path transform="translate(0.0 1.2) rotate(60)" d="M-3.5 -2.5q3 .5 2 2.5t2.5 2.5M.5 -3q2.5 1 1.5 3M-4 2.5q1.5 -1.5 3 0" fill="none" stroke="#E05030" stroke-width="1.2" stroke-opacity="0.85" stroke-linecap="round"/><circle r="10.2" fill="url(#ns)"/><ellipse cy="-5.7" rx="5.7" ry="2.7" fill="url(#nh)"/><circle r="9.85" fill="none" stroke="#000" stroke-opacity="0.32" stroke-width="0.7"/></g><g transform="translate(1729.2 1352.5)"><ellipse cx="0.4" cy="1.5" rx="11.2" ry="11.1" fill="url(#nd)"/><circle r="10.2" fill="#C9DB9C"/><path transform="translate(0.0 1.2) rotate(-60)" d="M-3.5 -2.5q3 .5 2 2.5t2.5 2.5M.5 -3q2.5 1 1.5 3M-4 2.5q1.5 -1.5 3 0" fill="none" stroke="#C080A0" stroke-width="1.2" stroke-opacity="0.85" stroke-linecap="round"/><circle r="10.2" fill="url(#ns)"/><ellipse cy="-5.7" rx="5.7" ry="2.7" fill="url(#nh)"/><circle r="9.85" fill="none" stroke="#000" stroke-opacity="0.32" stroke-width="0.7"/></g><g transform="translate(1656.8 1381.1)"><ellipse cx="0.4" cy="1.5" rx="11.2" ry="11.1" fill="url(#nd)"/><circle r="10.2" fill="#9CB5DF"/><path transform="translate(0.0 1.2) rotate(-20)" d="M-4.5 -1q1.5 -3 3 0t3 0t3 -.5M-3.5 2.5q2 -2 3.5 .5t3 -1.5M-1 -3.5l2.5 1.2" fill="none" stroke="#8070C8" stroke-width="1.2" stroke-opacity="0.85" stroke-linecap="round"/><circle r="10.2" fill="url(#ns)"/><ellipse cy="-5.7" rx="5.7" ry="2.7" fill="url(#nh)"/><circle r="9.85" fill="none" stroke="#000" stroke-opacity="0.32" stroke-width="0.7"/></g><g transform="translate(1696.9 1381.1)"><ellipse cx="0.4" cy="1.5" rx="11.2" ry="11.1" fill="url(#nd)"/><circle r="10.2" fill="#B3D896"/><path transform="translate(0.0 1.2) rotate(-80)" d="M-3.5 -2.5q3 .5 2 2.5t2.5 2.5M.5 -3q2.5 1 1.5 3M-4 2.5q1.5 -1.5 3 0" fill="none" stroke="#B07090" stroke-width="1.2" stroke-opacity="0.85" stroke-linecap="round"/><circle r="10.2" fill="url(#ns)"/><ellipse cy="-5.7" rx="5.7" ry="2.7" fill="url(#nh)"/><circle r="9.85" fill="none" stroke="#000" stroke-opacity="0.32" stroke-width="0.7"/></g><g transform="translate(1725.4 1445.1)"><ellipse cx="0.4" cy="1.5" rx="11.2" ry="11.1" fill="url(#nd)"/><circle r="10.2" fill="#94A3DD"/><path transform="translate(0.0 1.2) rotate(-80)" d="M-4.5 -1q1.5 -3 3 0t3 0t3 -.5M-3.5 2.5q2 -2 3.5 .5t3 -1.5M-1 -3.5l2.5 1.2" fill="none" stroke="#8A80D0" stroke-width="1.2" stroke-opacity="0.85" stroke-linecap="round"/><circle r="10.2" fill="url(#ns)"/><ellipse cy="-5.7" rx="5.7" ry="2.7" fill="url(#nh)"/><circle r="9.85" fill="none" stroke="#000" stroke-opacity="0.32" stroke-width="0.7"/></g><g transform="translate(1270.5 1305.8)"><ellipse cx="0.4" cy="1.5" rx="11.2" ry="11.1" fill="url(#nd)"/><circle r="10.2" fill="#CCC36B"/><path transform="translate(0.0 1.2) rotate(-60)" d="M-4 0q1 -2.5 2.2 0t2.2 0t2.2 0M-2 3q2 -1.2 4 0M-3 -3q1.5 1 3.2 -.2" fill="none" stroke="#C070A0" stroke-width="1.2" stroke-opacity="0.85" stroke-linecap="round"/><circle r="10.2" fill="url(#ns)"/><ellipse cy="-5.7" rx="5.7" ry="2.7" fill="url(#nh)"/><circle r="9.85" fill="none" stroke="#000" stroke-opacity="0.32" stroke-width="0.7"/></g><g transform="translate(1309.4 1322.7)"><ellipse cx="0.4" cy="1.5" rx="11.2" ry="11.1" fill="url(#nd)"/><circle r="10.2" fill="#A4DCA6"/><path transform="translate(0.0 1.2) rotate(80)" d="M-3.5 -2.5q3 .5 2 2.5t2.5 2.5M.5 -3q2.5 1 1.5 3M-4 2.5q1.5 -1.5 3 0" fill="none" stroke="#8A78B8" stroke-width="1.2" stroke-opacity="0.85" stroke-linecap="round"/><circle r="10.2" fill="url(#ns)"/><ellipse cy="-5.7" rx="5.7" ry="2.7" fill="url(#nh)"/><circle r="9.85" fill="none" stroke="#000" stroke-opacity="0.32" stroke-width="0.7"/></g><g transform="translate(1325.6 1336.8)"><ellipse cx="0.4" cy="1.5" rx="11.2" ry="11.1" fill="url(#nd)"/><circle r="10.2" fill="#A1D9DB"/><path transform="translate(0.0 1.2) rotate(60)" d="M-3.5 -2.5q3 .5 2 2.5t2.5 2.5M.5 -3q2.5 1 1.5 3M-4 2.5q1.5 -1.5 3 0" fill="none" stroke="#8A72C8" stroke-width="1.2" stroke-opacity="0.85" stroke-linecap="round"/><circle r="10.2" fill="url(#ns)"/><ellipse cy="-5.7" rx="5.7" ry="2.7" fill="url(#nh)"/><circle r="9.85" fill="none" stroke="#000" stroke-opacity="0.32" stroke-width="0.7"/></g><g transform="translate(1378.4 1343.8)"><ellipse cx="0.4" cy="1.5" rx="11.2" ry="11.1" fill="url(#nd)"/><circle r="10.2" fill="#B3D896"/><path transform="translate(0.0 1.2) rotate(-20)" d="M-3.5 -2.5q3 .5 2 2.5t2.5 2.5M.5 -3q2.5 1 1.5 3M-4 2.5q1.5 -1.5 3 0" fill="none" stroke="#B07090" stroke-width="1.2" stroke-opacity="0.85" stroke-linecap="round"/><circle r="10.2" fill="url(#ns)"/><ellipse cy="-5.7" rx="5.7" ry="2.7" fill="url(#nh)"/><circle r="9.85" fill="none" stroke="#000" stroke-opacity="0.32" stroke-width="0.7"/></g><g transform="translate(1267.5 1353.0)"><ellipse cx="0.4" cy="1.5" rx="11.2" ry="11.1" fill="url(#nd)"/><circle r="10.2" fill="#D6CA94"/><path transform="translate(0.0 1.2) rotate(80)" d="M-4 0q1 -2.5 2.2 0t2.2 0t2.2 0M-2 3q2 -1.2 4 0M-3 -3q1.5 1 3.2 -.2" fill="none" stroke="#C060B0" stroke-width="1.2" stroke-opacity="0.85" stroke-linecap="round"/><circle r="10.2" fill="url(#ns)"/><ellipse cy="-5.7" rx="5.7" ry="2.7" fill="url(#nh)"/><circle r="9.85" fill="none" stroke="#000" stroke-opacity="0.32" stroke-width="0.7"/></g><g transform="translate(1362.2 1362.1)"><ellipse cx="0.4" cy="1.5" rx="11.2" ry="11.1" fill="url(#nd)"/><circle r="10.2" fill="#9CB5DF"/><path transform="translate(0.0 1.2) rotate(20)" d="M-4 0q1 -2.5 2.2 0t2.2 0t2.2 0M-2 3q2 -1.2 4 0M-3 -3q1.5 1 3.2 -.2" fill="none" stroke="#8070C8" stroke-width="1.2" stroke-opacity="0.85" stroke-linecap="round"/><circle r="10.2" fill="url(#ns)"/><ellipse cy="-5.7" rx="5.7" ry="2.7" fill="url(#nh)"/><circle r="9.85" fill="none" stroke="#000" stroke-opacity="0.32" stroke-width="0.7"/></g><g transform="translate(1421.7 1369.1)"><ellipse cx="0.4" cy="1.5" rx="11.2" ry="11.1" fill="url(#nd)"/><circle r="10.2" fill="#C9DB9C"/><path transform="translate(0.0 1.2) rotate(0)" d="M-4.5 -1q1.5 -3 3 0t3 0t3 -.5M-3.5 2.5q2 -2 3.5 .5t3 -1.5M-1 -3.5l2.5 1.2" fill="none" stroke="#C080A0" stroke-width="1.2" stroke-opacity="0.85" stroke-linecap="round"/><circle r="10.2" fill="url(#ns)"/><ellipse cy="-5.7" rx="5.7" ry="2.7" fill="url(#nh)"/><circle r="9.85" fill="none" stroke="#000" stroke-opacity="0.32" stroke-width="0.7"/></g><g transform="translate(1303.5 1372.7)"><ellipse cx="0.4" cy="1.5" rx="11.2" ry="11.1" fill="url(#nd)"/><circle r="10.2" fill="#97D8C9"/><path transform="translate(0.0 1.2) rotate(-60)" d="M-4 0q1 -2.5 2.2 0t2.2 0t2.2 0M-2 3q2 -1.2 4 0M-3 -3q1.5 1 3.2 -.2" fill="none" stroke="#4068D0" stroke-width="1.2" stroke-opacity="0.85" stroke-linecap="round"/><circle r="10.2" fill="url(#ns)"/><ellipse cy="-5.7" rx="5.7" ry="2.7" fill="url(#nh)"/><circle r="9.85" fill="none" stroke="#000" stroke-opacity="0.32" stroke-width="0.7"/></g><g transform="translate(1383.7 1426.8)"><ellipse cx="0.4" cy="1.5" rx="11.2" ry="11.1" fill="url(#nd)"/><circle r="10.2" fill="#96D292"/><path transform="translate(0.0 1.2) rotate(20)" d="M-4.5 -1q1.5 -3 3 0t3 0t3 -.5M-3.5 2.5q2 -2 3.5 .5t3 -1.5M-1 -3.5l2.5 1.2" fill="none" stroke="#9070C0" stroke-width="1.2" stroke-opacity="0.85" stroke-linecap="round"/><circle r="10.2" fill="url(#ns)"/><ellipse cy="-5.7" rx="5.7" ry="2.7" fill="url(#nh)"/><circle r="9.85" fill="none" stroke="#000" stroke-opacity="0.32" stroke-width="0.7"/></g><g transform="translate(1870.3 759.8)"><ellipse cx="0.4" cy="1.5" rx="11.2" ry="11.1" fill="url(#nd)"/><circle r="10.2" fill="#E4948E"/><path transform="translate(0.0 1.2) rotate(-80)" d="M-4.5 -1q1.5 -3 3 0t3 0t3 -.5M-3.5 2.5q2 -2 3.5 .5t3 -1.5M-1 -3.5l2.5 1.2" fill="none" stroke="#E03020" stroke-width="1.2" stroke-opacity="0.85" stroke-linecap="round"/><circle r="10.2" fill="url(#ns)"/><ellipse cy="-5.7" rx="5.7" ry="2.7" fill="url(#nh)"/><circle r="9.85" fill="none" stroke="#000" stroke-opacity="0.32" stroke-width="0.7"/></g><g transform="translate(1827.1 794.3)"><ellipse cx="0.4" cy="1.5" rx="11.2" ry="11.1" fill="url(#nd)"/><circle r="10.2" fill="#789DD6"/><path transform="translate(0.0 1.2) rotate(-20)" d="M-4 0q1 -2.5 2.2 0t2.2 0t2.2 0M-2 3q2 -1.2 4 0M-3 -3q1.5 1 3.2 -.2" fill="none" stroke="#3050D0" stroke-width="1.2" stroke-opacity="0.85" stroke-linecap="round"/><circle r="10.2" fill="url(#ns)"/><ellipse cy="-5.7" rx="5.7" ry="2.7" fill="url(#nh)"/><circle r="9.85" fill="none" stroke="#000" stroke-opacity="0.32" stroke-width="0.7"/></g><g transform="translate(1863.7 825.2)"><ellipse cx="0.4" cy="1.5" rx="11.2" ry="11.1" fill="url(#nd)"/><circle r="10.2" fill="#A1D9DB"/><path transform="translate(0.0 1.2) rotate(0)" d="M-4 0q1 -2.5 2.2 0t2.2 0t2.2 0M-2 3q2 -1.2 4 0M-3 -3q1.5 1 3.2 -.2" fill="none" stroke="#8A72C8" stroke-width="1.2" stroke-opacity="0.85" stroke-linecap="round"/><circle r="10.2" fill="url(#ns)"/><ellipse cy="-5.7" rx="5.7" ry="2.7" fill="url(#nh)"/><circle r="9.85" fill="none" stroke="#000" stroke-opacity="0.32" stroke-width="0.7"/></g><g transform="translate(1917.4 823.8)"><ellipse cx="0.4" cy="1.5" rx="11.2" ry="11.1" fill="url(#nd)"/><circle r="10.2" fill="#A1D9DB"/><path transform="translate(0.0 1.2) rotate(80)" d="M-4 0q1 -2.5 2.2 0t2.2 0t2.2 0M-2 3q2 -1.2 4 0M-3 -3q1.5 1 3.2 -.2" fill="none" stroke="#8A72C8" stroke-width="1.2" stroke-opacity="0.85" stroke-linecap="round"/><circle r="10.2" fill="url(#ns)"/><ellipse cy="-5.7" rx="5.7" ry="2.7" fill="url(#nh)"/><circle r="9.85" fill="none" stroke="#000" stroke-opacity="0.32" stroke-width="0.7"/></g><g transform="translate(1929.0 846.9)"><ellipse cx="0.4" cy="1.5" rx="11.2" ry="11.1" fill="url(#nd)"/><circle r="10.2" fill="#DFCC99"/><path transform="translate(0.0 1.2) rotate(80)" d="M-4.5 -1q1.5 -3 3 0t3 0t3 -.5M-3.5 2.5q2 -2 3.5 .5t3 -1.5M-1 -3.5l2.5 1.2" fill="none" stroke="#E05030" stroke-width="1.2" stroke-opacity="0.85" stroke-linecap="round"/><circle r="10.2" fill="url(#ns)"/><ellipse cy="-5.7" rx="5.7" ry="2.7" fill="url(#nh)"/><circle r="9.85" fill="none" stroke="#000" stroke-opacity="0.32" stroke-width="0.7"/></g><g transform="translate(1762.7 859.3)"><ellipse cx="0.4" cy="1.5" rx="11.2" ry="11.1" fill="url(#nd)"/><circle r="10.2" fill="#E4948E"/><path transform="translate(0.0 1.2) rotate(0)" d="M-4 1.5l1.2 -1.6l1.2 1.6l1.2 -1.6l1.2 1.6l1.2 -1.6l1.2 1.6M-2.5 -2.5q2 -1.5 4 .3" fill="none" stroke="#E03020" stroke-width="1.2" stroke-opacity="0.85" stroke-linecap="round"/><circle r="10.2" fill="url(#ns)"/><ellipse cy="-5.7" rx="5.7" ry="2.7" fill="url(#nh)"/><circle r="9.85" fill="none" stroke="#000" stroke-opacity="0.32" stroke-width="0.7"/></g><g transform="translate(1864.7 873.3)"><ellipse cx="0.4" cy="1.5" rx="11.2" ry="11.1" fill="url(#nd)"/><circle r="10.2" fill="#9DD9C0"/><path transform="translate(0.0 1.2) rotate(-40)" d="M-4 0q1 -2.5 2.2 0t2.2 0t2.2 0M-2 3q2 -1.2 4 0M-3 -3q1.5 1 3.2 -.2" fill="none" stroke="#9A7AC8" stroke-width="1.2" stroke-opacity="0.85" stroke-linecap="round"/><circle r="10.2" fill="url(#ns)"/><ellipse cy="-5.7" rx="5.7" ry="2.7" fill="url(#nh)"/><circle r="9.85" fill="none" stroke="#000" stroke-opacity="0.32" stroke-width="0.7"/></g><g transform="translate(1925.9 870.5)"><ellipse cx="0.4" cy="1.5" rx="11.2" ry="11.1" fill="url(#nd)"/><circle r="10.2" fill="#B3D896"/><path transform="translate(0.0 1.2) rotate(-80)" d="M-4 1.5l1.2 -1.6l1.2 1.6l1.2 -1.6l1.2 1.6l1.2 -1.6l1.2 1.6M-2.5 -2.5q2 -1.5 4 .3" fill="none" stroke="#B07090" stroke-width="1.2" stroke-opacity="0.85" stroke-linecap="round"/><circle r="10.2" fill="url(#ns)"/><ellipse cy="-5.7" rx="5.7" ry="2.7" fill="url(#nh)"/><circle r="9.85" fill="none" stroke="#000" stroke-opacity="0.32" stroke-width="0.7"/></g><g transform="translate(1822.5 883.9)"><ellipse cx="0.4" cy="1.5" rx="11.2" ry="11.1" fill="url(#nd)"/><circle r="10.2" fill="#E8A28D"/><path transform="translate(0.0 1.2) rotate(0)" d="M-4 0q1 -2.5 2.2 0t2.2 0t2.2 0M-2 3q2 -1.2 4 0M-3 -3q1.5 1 3.2 -.2" fill="none" stroke="#E04020" stroke-width="1.2" stroke-opacity="0.85" stroke-linecap="round"/><circle r="10.2" fill="url(#ns)"/><ellipse cy="-5.7" rx="5.7" ry="2.7" fill="url(#nh)"/><circle r="9.85" fill="none" stroke="#000" stroke-opacity="0.32" stroke-width="0.7"/></g><g transform="translate(1631.3 881.7)"><ellipse cx="0.4" cy="1.5" rx="11.2" ry="11.1" fill="url(#nd)"/><circle r="10.2" fill="#97D8C9"/><path transform="translate(0.0 1.2) rotate(40)" d="M-4 0q1 -2.5 2.2 0t2.2 0t2.2 0M-2 3q2 -1.2 4 0M-3 -3q1.5 1 3.2 -.2" fill="none" stroke="#4068D0" stroke-width="1.2" stroke-opacity="0.85" stroke-linecap="round"/><circle r="10.2" fill="url(#ns)"/><ellipse cy="-5.7" rx="5.7" ry="2.7" fill="url(#nh)"/><circle r="9.85" fill="none" stroke="#000" stroke-opacity="0.32" stroke-width="0.7"/></g><g transform="translate(1680.5 879.2)"><ellipse cx="0.4" cy="1.5" rx="11.2" ry="11.1" fill="url(#nd)"/><circle r="10.2" fill="#96D292"/><path transform="translate(0.0 1.2) rotate(-20)" d="M-4.5 -1q1.5 -3 3 0t3 0t3 -.5M-3.5 2.5q2 -2 3.5 .5t3 -1.5M-1 -3.5l2.5 1.2" fill="none" stroke="#9070C0" stroke-width="1.2" stroke-opacity="0.85" stroke-linecap="round"/><circle r="10.2" fill="url(#ns)"/><ellipse cy="-5.7" rx="5.7" ry="2.7" fill="url(#nh)"/><circle r="9.85" fill="none" stroke="#000" stroke-opacity="0.32" stroke-width="0.7"/></g><g transform="translate(1646.0 918.1)"><ellipse cx="0.4" cy="1.5" rx="11.2" ry="11.1" fill="url(#nd)"/><circle r="10.2" fill="#DDD394"/><path transform="translate(0.0 1.2) rotate(0)" d="M-3.5 -2.5q3 .5 2 2.5t2.5 2.5M.5 -3q2.5 1 1.5 3M-4 2.5q1.5 -1.5 3 0" fill="none" stroke="#50A050" stroke-width="1.2" stroke-opacity="0.85" stroke-linecap="round"/><circle r="10.2" fill="url(#ns)"/><ellipse cy="-5.7" rx="5.7" ry="2.7" fill="url(#nh)"/><circle r="9.85" fill="none" stroke="#000" stroke-opacity="0.32" stroke-width="0.7"/></g><g transform="translate(1684.9 922.2)"><ellipse cx="0.4" cy="1.5" rx="11.2" ry="11.1" fill="url(#nd)"/><circle r="10.2" fill="#A1D9DB"/><path transform="translate(0.0 1.2) rotate(40)" d="M-4.5 -1q1.5 -3 3 0t3 0t3 -.5M-3.5 2.5q2 -2 3.5 .5t3 -1.5M-1 -3.5l2.5 1.2" fill="none" stroke="#8A72C8" stroke-width="1.2" stroke-opacity="0.85" stroke-linecap="round"/><circle r="10.2" fill="url(#ns)"/><ellipse cy="-5.7" rx="5.7" ry="2.7" fill="url(#nh)"/><circle r="9.85" fill="none" stroke="#000" stroke-opacity="0.32" stroke-width="0.7"/></g><g transform="translate(1708.3 912.4)"><ellipse cx="0.4" cy="1.5" rx="11.2" ry="11.1" fill="url(#nd)"/><circle r="10.2" fill="#E6BD8D"/><path transform="translate(0.0 1.2) rotate(0)" d="M-4 1.5l1.2 -1.6l1.2 1.6l1.2 -1.6l1.2 1.6l1.2 -1.6l1.2 1.6M-2.5 -2.5q2 -1.5 4 .3" fill="none" stroke="#5070D0" stroke-width="1.2" stroke-opacity="0.85" stroke-linecap="round"/><circle r="10.2" fill="url(#ns)"/><ellipse cy="-5.7" rx="5.7" ry="2.7" fill="url(#nh)"/><circle r="9.85" fill="none" stroke="#000" stroke-opacity="0.32" stroke-width="0.7"/></g><g transform="translate(1598.1 954.5)"><ellipse cx="0.4" cy="1.5" rx="11.2" ry="11.1" fill="url(#nd)"/><circle r="10.2" fill="#A8ACE1"/><path transform="translate(0.0 1.2) rotate(-60)" d="M-3.5 -2.5q3 .5 2 2.5t2.5 2.5M.5 -3q2.5 1 1.5 3M-4 2.5q1.5 -1.5 3 0" fill="none" stroke="#8A62D0" stroke-width="1.2" stroke-opacity="0.85" stroke-linecap="round"/><circle r="10.2" fill="url(#ns)"/><ellipse cy="-5.7" rx="5.7" ry="2.7" fill="url(#nh)"/><circle r="9.85" fill="none" stroke="#000" stroke-opacity="0.32" stroke-width="0.7"/></g><g transform="translate(1633.9 974.3)"><ellipse cx="0.4" cy="1.5" rx="11.2" ry="11.1" fill="url(#nd)"/><circle r="10.2" fill="#C9DB9C"/><path transform="translate(0.0 1.2) rotate(-20)" d="M-4.5 -1q1.5 -3 3 0t3 0t3 -.5M-3.5 2.5q2 -2 3.5 .5t3 -1.5M-1 -3.5l2.5 1.2" fill="none" stroke="#C080A0" stroke-width="1.2" stroke-opacity="0.85" stroke-linecap="round"/><circle r="10.2" fill="url(#ns)"/><ellipse cy="-5.7" rx="5.7" ry="2.7" fill="url(#nh)"/><circle r="9.85" fill="none" stroke="#000" stroke-opacity="0.32" stroke-width="0.7"/></g><g transform="translate(1930.8 944.3)"><ellipse cx="0.4" cy="1.5" rx="11.2" ry="11.1" fill="url(#nd)"/><circle r="10.2" fill="#E3C7A4"/><path transform="translate(0.0 1.2) rotate(-80)" d="M-4.5 -1q1.5 -3 3 0t3 0t3 -.5M-3.5 2.5q2 -2 3.5 .5t3 -1.5M-1 -3.5l2.5 1.2" fill="none" stroke="#B060B0" stroke-width="1.2" stroke-opacity="0.85" stroke-linecap="round"/><circle r="10.2" fill="url(#ns)"/><ellipse cy="-5.7" rx="5.7" ry="2.7" fill="url(#nh)"/><circle r="9.85" fill="none" stroke="#000" stroke-opacity="0.32" stroke-width="0.7"/></g><g transform="translate(2001.4 1007.6)"><ellipse cx="0.4" cy="1.5" rx="11.2" ry="11.1" fill="url(#nd)"/><circle r="10.2" fill="#C9DB9C"/><path transform="translate(0.0 1.2) rotate(-40)" d="M-3.5 -2.5q3 .5 2 2.5t2.5 2.5M.5 -3q2.5 1 1.5 3M-4 2.5q1.5 -1.5 3 0" fill="none" stroke="#C080A0" stroke-width="1.2" stroke-opacity="0.85" stroke-linecap="round"/><circle r="10.2" fill="url(#ns)"/><ellipse cy="-5.7" rx="5.7" ry="2.7" fill="url(#nh)"/><circle r="9.85" fill="none" stroke="#000" stroke-opacity="0.32" stroke-width="0.7"/></g><g transform="translate(1821.5 1011.8)"><ellipse cx="0.4" cy="1.5" rx="11.2" ry="11.1" fill="url(#nd)"/><circle r="10.2" fill="#A8ACE1"/><path transform="translate(0.0 1.2) rotate(80)" d="M-3.5 -2.5q3 .5 2 2.5t2.5 2.5M.5 -3q2.5 1 1.5 3M-4 2.5q1.5 -1.5 3 0" fill="none" stroke="#8A62D0" stroke-width="1.2" stroke-opacity="0.85" stroke-linecap="round"/><circle r="10.2" fill="url(#ns)"/><ellipse cy="-5.7" rx="5.7" ry="2.7" fill="url(#nh)"/><circle r="9.85" fill="none" stroke="#000" stroke-opacity="0.32" stroke-width="0.7"/></g><g transform="translate(1919.5 1047.0)"><ellipse cx="0.4" cy="1.5" rx="11.2" ry="11.1" fill="url(#nd)"/><circle r="10.2" fill="#B3D896"/><path transform="translate(0.0 1.2) rotate(40)" d="M-4 1.5l1.2 -1.6l1.2 1.6l1.2 -1.6l1.2 1.6l1.2 -1.6l1.2 1.6M-2.5 -2.5q2 -1.5 4 .3" fill="none" stroke="#B07090" stroke-width="1.2" stroke-opacity="0.85" stroke-linecap="round"/><circle r="10.2" fill="url(#ns)"/><ellipse cy="-5.7" rx="5.7" ry="2.7" fill="url(#nh)"/><circle r="9.85" fill="none" stroke="#000" stroke-opacity="0.32" stroke-width="0.7"/></g><g transform="translate(1928.0 1068.8)"><ellipse cx="0.4" cy="1.5" rx="11.2" ry="11.1" fill="url(#nd)"/><circle r="10.2" fill="#94CBD0"/><path transform="translate(0.0 1.2) rotate(20)" d="M-4 1.5l1.2 -1.6l1.2 1.6l1.2 -1.6l1.2 1.6l1.2 -1.6l1.2 1.6M-2.5 -2.5q2 -1.5 4 .3" fill="none" stroke="#7060C0" stroke-width="1.2" stroke-opacity="0.85" stroke-linecap="round"/><circle r="10.2" fill="url(#ns)"/><ellipse cy="-5.7" rx="5.7" ry="2.7" fill="url(#nh)"/><circle r="9.85" fill="none" stroke="#000" stroke-opacity="0.32" stroke-width="0.7"/></g><g transform="translate(1990.9 1066.0)"><ellipse cx="0.4" cy="1.5" rx="11.2" ry="11.1" fill="url(#nd)"/><circle r="10.2" fill="#A8ACE1"/><path transform="translate(0.0 1.2) rotate(80)" d="M-4 1.5l1.2 -1.6l1.2 1.6l1.2 -1.6l1.2 1.6l1.2 -1.6l1.2 1.6M-2.5 -2.5q2 -1.5 4 .3" fill="none" stroke="#8A62D0" stroke-width="1.2" stroke-opacity="0.85" stroke-linecap="round"/><circle r="10.2" fill="url(#ns)"/><ellipse cy="-5.7" rx="5.7" ry="2.7" fill="url(#nh)"/><circle r="9.85" fill="none" stroke="#000" stroke-opacity="0.32" stroke-width="0.7"/></g><g transform="translate(1802.3 1068.8)"><ellipse cx="0.4" cy="1.5" rx="11.2" ry="11.1" fill="url(#nd)"/><circle r="10.2" fill="#9CB5DF"/><path transform="translate(0.0 1.2) rotate(60)" d="M-4 0q1 -2.5 2.2 0t2.2 0t2.2 0M-2 3q2 -1.2 4 0M-3 -3q1.5 1 3.2 -.2" fill="none" stroke="#8070C8" stroke-width="1.2" stroke-opacity="0.85" stroke-linecap="round"/><circle r="10.2" fill="url(#ns)"/><ellipse cy="-5.7" rx="5.7" ry="2.7" fill="url(#nh)"/><circle r="9.85" fill="none" stroke="#000" stroke-opacity="0.32" stroke-width="0.7"/></g><g transform="translate(1763.6 1116.4)"><ellipse cx="0.4" cy="1.5" rx="11.2" ry="11.1" fill="url(#nd)"/><circle r="10.2" fill="#9DD9C0"/><path transform="translate(0.0 1.2) rotate(-20)" d="M-3.5 -2.5q3 .5 2 2.5t2.5 2.5M.5 -3q2.5 1 1.5 3M-4 2.5q1.5 -1.5 3 0" fill="none" stroke="#9A7AC8" stroke-width="1.2" stroke-opacity="0.85" stroke-linecap="round"/><circle r="10.2" fill="url(#ns)"/><ellipse cy="-5.7" rx="5.7" ry="2.7" fill="url(#nh)"/><circle r="9.85" fill="none" stroke="#000" stroke-opacity="0.32" stroke-width="0.7"/></g><g transform="translate(1841.2 1123.2)"><ellipse cx="0.4" cy="1.5" rx="11.2" ry="11.1" fill="url(#nd)"/><circle r="10.2" fill="#9CB5DF"/><path transform="translate(0.0 1.2) rotate(0)" d="M-4 0q1 -2.5 2.2 0t2.2 0t2.2 0M-2 3q2 -1.2 4 0M-3 -3q1.5 1 3.2 -.2" fill="none" stroke="#8070C8" stroke-width="1.2" stroke-opacity="0.85" stroke-linecap="round"/><circle r="10.2" fill="url(#ns)"/><ellipse cy="-5.7" rx="5.7" ry="2.7" fill="url(#nh)"/><circle r="9.85" fill="none" stroke="#000" stroke-opacity="0.32" stroke-width="0.7"/></g><g transform="translate(1842.2 1149.5)"><ellipse cx="0.4" cy="1.5" rx="11.2" ry="11.1" fill="url(#nd)"/><circle r="10.2" fill="#96D292"/><path transform="translate(0.0 1.2) rotate(0)" d="M-4.5 -1q1.5 -3 3 0t3 0t3 -.5M-3.5 2.5q2 -2 3.5 .5t3 -1.5M-1 -3.5l2.5 1.2" fill="none" stroke="#9070C0" stroke-width="1.2" stroke-opacity="0.85" stroke-linecap="round"/><circle r="10.2" fill="url(#ns)"/><ellipse cy="-5.7" rx="5.7" ry="2.7" fill="url(#nh)"/><circle r="9.85" fill="none" stroke="#000" stroke-opacity="0.32" stroke-width="0.7"/></g><g transform="translate(1932.6 1148.1)"><ellipse cx="0.4" cy="1.5" rx="11.2" ry="11.1" fill="url(#nd)"/><circle r="10.2" fill="#A4DCA6"/><path transform="translate(0.0 1.2) rotate(-20)" d="M-4.5 -1q1.5 -3 3 0t3 0t3 -.5M-3.5 2.5q2 -2 3.5 .5t3 -1.5M-1 -3.5l2.5 1.2" fill="none" stroke="#8A78B8" stroke-width="1.2" stroke-opacity="0.85" stroke-linecap="round"/><circle r="10.2" fill="url(#ns)"/><ellipse cy="-5.7" rx="5.7" ry="2.7" fill="url(#nh)"/><circle r="9.85" fill="none" stroke="#000" stroke-opacity="0.32" stroke-width="0.7"/></g><g transform="translate(1890.3 1185.4)"><ellipse cx="0.4" cy="1.5" rx="11.2" ry="11.1" fill="url(#nd)"/><circle r="10.2" fill="#96D292"/><path transform="translate(0.0 1.2) rotate(-60)" d="M-4 0q1 -2.5 2.2 0t2.2 0t2.2 0M-2 3q2 -1.2 4 0M-3 -3q1.5 1 3.2 -.2" fill="none" stroke="#9070C0" stroke-width="1.2" stroke-opacity="0.85" stroke-linecap="round"/><circle r="10.2" fill="url(#ns)"/><ellipse cy="-5.7" rx="5.7" ry="2.7" fill="url(#nh)"/><circle r="9.85" fill="none" stroke="#000" stroke-opacity="0.32" stroke-width="0.7"/></g><g transform="translate(1821.0 1182.5)"><ellipse cx="0.4" cy="1.5" rx="11.2" ry="11.1" fill="url(#nd)"/><circle r="10.2" fill="#E6ACAC"/><path transform="translate(0.0 1.2) rotate(80)" d="M-3.5 -2.5q3 .5 2 2.5t2.5 2.5M.5 -3q2.5 1 1.5 3M-4 2.5q1.5 -1.5 3 0" fill="none" stroke="#E04080" stroke-width="1.2" stroke-opacity="0.85" stroke-linecap="round"/><circle r="10.2" fill="url(#ns)"/><ellipse cy="-5.7" rx="5.7" ry="2.7" fill="url(#nh)"/><circle r="9.85" fill="none" stroke="#000" stroke-opacity="0.32" stroke-width="0.7"/></g><g transform="translate(1790.1 1234.3)"><ellipse cx="0.4" cy="1.5" rx="11.2" ry="11.1" fill="url(#nd)"/><circle r="10.2" fill="#9CB5DF"/><path transform="translate(0.0 1.2) rotate(-60)" d="M-4 1.5l1.2 -1.6l1.2 1.6l1.2 -1.6l1.2 1.6l1.2 -1.6l1.2 1.6M-2.5 -2.5q2 -1.5 4 .3" fill="none" stroke="#8070C8" stroke-width="1.2" stroke-opacity="0.85" stroke-linecap="round"/><circle r="10.2" fill="url(#ns)"/><ellipse cy="-5.7" rx="5.7" ry="2.7" fill="url(#nh)"/><circle r="9.85" fill="none" stroke="#000" stroke-opacity="0.32" stroke-width="0.7"/></g><g transform="translate(1851.0 1234.6)"><ellipse cx="0.4" cy="1.5" rx="11.2" ry="11.1" fill="url(#nd)"/><circle r="10.2" fill="#DFDFA2"/><path transform="translate(0.0 1.2) rotate(20)" d="M-4 0q1 -2.5 2.2 0t2.2 0t2.2 0M-2 3q2 -1.2 4 0M-3 -3q1.5 1 3.2 -.2" fill="none" stroke="#B070C0" stroke-width="1.2" stroke-opacity="0.85" stroke-linecap="round"/><circle r="10.2" fill="url(#ns)"/><ellipse cy="-5.7" rx="5.7" ry="2.7" fill="url(#nh)"/><circle r="9.85" fill="none" stroke="#000" stroke-opacity="0.32" stroke-width="0.7"/></g><g transform="translate(1867.9 1287.3)"><ellipse cx="0.4" cy="1.5" rx="11.2" ry="11.1" fill="url(#nd)"/><circle r="10.2" fill="#E3B7A2"/><path transform="translate(0.0 1.2) rotate(40)" d="M-4 1.5l1.2 -1.6l1.2 1.6l1.2 -1.6l1.2 1.6l1.2 -1.6l1.2 1.6M-2.5 -2.5q2 -1.5 4 .3" fill="none" stroke="#70A050" stroke-width="1.2" stroke-opacity="0.85" stroke-linecap="round"/><circle r="10.2" fill="url(#ns)"/><ellipse cy="-5.7" rx="5.7" ry="2.7" fill="url(#nh)"/><circle r="9.85" fill="none" stroke="#000" stroke-opacity="0.32" stroke-width="0.7"/></g><g transform="translate(1822.7 1303.4)"><ellipse cx="0.4" cy="1.5" rx="11.2" ry="11.1" fill="url(#nd)"/><circle r="10.2" fill="#A1D9DB"/><path transform="translate(0.0 1.2) rotate(40)" d="M-3.5 -2.5q3 .5 2 2.5t2.5 2.5M.5 -3q2.5 1 1.5 3M-4 2.5q1.5 -1.5 3 0" fill="none" stroke="#8A72C8" stroke-width="1.2" stroke-opacity="0.85" stroke-linecap="round"/><circle r="10.2" fill="url(#ns)"/><ellipse cy="-5.7" rx="5.7" ry="2.7" fill="url(#nh)"/><circle r="9.85" fill="none" stroke="#000" stroke-opacity="0.32" stroke-width="0.7"/></g><g transform="translate(1911.4 1308.9)"><ellipse cx="0.4" cy="1.5" rx="11.2" ry="11.1" fill="url(#nd)"/><circle r="10.2" fill="#C9DB9C"/><path transform="translate(0.0 1.2) rotate(40)" d="M-4 1.5l1.2 -1.6l1.2 1.6l1.2 -1.6l1.2 1.6l1.2 -1.6l1.2 1.6M-2.5 -2.5q2 -1.5 4 .3" fill="none" stroke="#C080A0" stroke-width="1.2" stroke-opacity="0.85" stroke-linecap="round"/><circle r="10.2" fill="url(#ns)"/><ellipse cy="-5.7" rx="5.7" ry="2.7" fill="url(#nh)"/><circle r="9.85" fill="none" stroke="#000" stroke-opacity="0.32" stroke-width="0.7"/></g><g transform="translate(1803.2 1345.6)"><ellipse cx="0.4" cy="1.5" rx="11.2" ry="11.1" fill="url(#nd)"/><circle r="10.2" fill="#E6ACAC"/><path transform="translate(0.0 1.2) rotate(80)" d="M-4 0q1 -2.5 2.2 0t2.2 0t2.2 0M-2 3q2 -1.2 4 0M-3 -3q1.5 1 3.2 -.2" fill="none" stroke="#E04080" stroke-width="1.2" stroke-opacity="0.85" stroke-linecap="round"/><circle r="10.2" fill="url(#ns)"/><ellipse cy="-5.7" rx="5.7" ry="2.7" fill="url(#nh)"/><circle r="9.85" fill="none" stroke="#000" stroke-opacity="0.32" stroke-width="0.7"/></g><g transform="translate(1865.4 1345.2)"><ellipse cx="0.4" cy="1.5" rx="11.2" ry="11.1" fill="url(#nd)"/><circle r="10.2" fill="#E4948E"/><path transform="translate(0.0 1.2) rotate(60)" d="M-4 1.5l1.2 -1.6l1.2 1.6l1.2 -1.6l1.2 1.6l1.2 -1.6l1.2 1.6M-2.5 -2.5q2 -1.5 4 .3" fill="none" stroke="#E03020" stroke-width="1.2" stroke-opacity="0.85" stroke-linecap="round"/><circle r="10.2" fill="url(#ns)"/><ellipse cy="-5.7" rx="5.7" ry="2.7" fill="url(#nh)"/><circle r="9.85" fill="none" stroke="#000" stroke-opacity="0.32" stroke-width="0.7"/></g><g transform="translate(1924.5 1355.4)"><ellipse cx="0.4" cy="1.5" rx="11.2" ry="11.1" fill="url(#nd)"/><circle r="10.2" fill="#C9DB9C"/><path transform="translate(0.0 1.2) rotate(-60)" d="M-4.5 -1q1.5 -3 3 0t3 0t3 -.5M-3.5 2.5q2 -2 3.5 .5t3 -1.5M-1 -3.5l2.5 1.2" fill="none" stroke="#C080A0" stroke-width="1.2" stroke-opacity="0.85" stroke-linecap="round"/><circle r="10.2" fill="url(#ns)"/><ellipse cy="-5.7" rx="5.7" ry="2.7" fill="url(#nh)"/><circle r="9.85" fill="none" stroke="#000" stroke-opacity="0.32" stroke-width="0.7"/></g><g transform="translate(1818.9 1388.1)"><ellipse cx="0.4" cy="1.5" rx="11.2" ry="11.1" fill="url(#nd)"/><circle r="10.2" fill="#96D292"/><path transform="translate(0.0 1.2) rotate(-40)" d="M-3.5 -2.5q3 .5 2 2.5t2.5 2.5M.5 -3q2.5 1 1.5 3M-4 2.5q1.5 -1.5 3 0" fill="none" stroke="#9070C0" stroke-width="1.2" stroke-opacity="0.85" stroke-linecap="round"/><circle r="10.2" fill="url(#ns)"/><ellipse cy="-5.7" rx="5.7" ry="2.7" fill="url(#nh)"/><circle r="9.85" fill="none" stroke="#000" stroke-opacity="0.32" stroke-width="0.7"/></g><g transform="translate(1902.4 1395.2)"><ellipse cx="0.4" cy="1.5" rx="11.2" ry="11.1" fill="url(#nd)"/><circle r="10.2" fill="#A1D9DB"/><path transform="translate(0.0 1.2) rotate(80)" d="M-3.5 -2.5q3 .5 2 2.5t2.5 2.5M.5 -3q2.5 1 1.5 3M-4 2.5q1.5 -1.5 3 0" fill="none" stroke="#8A72C8" stroke-width="1.2" stroke-opacity="0.85" stroke-linecap="round"/><circle r="10.2" fill="url(#ns)"/><ellipse cy="-5.7" rx="5.7" ry="2.7" fill="url(#nh)"/><circle r="9.85" fill="none" stroke="#000" stroke-opacity="0.32" stroke-width="0.7"/></g><g transform="translate(1859.0 1408.8)"><ellipse cx="0.4" cy="1.5" rx="11.2" ry="11.1" fill="url(#nd)"/><circle r="10.2" fill="#9CB5DF"/><path transform="translate(0.0 1.2) rotate(-80)" d="M-3.5 -2.5q3 .5 2 2.5t2.5 2.5M.5 -3q2.5 1 1.5 3M-4 2.5q1.5 -1.5 3 0" fill="none" stroke="#8070C8" stroke-width="1.2" stroke-opacity="0.85" stroke-linecap="round"/><circle r="10.2" fill="url(#ns)"/><ellipse cy="-5.7" rx="5.7" ry="2.7" fill="url(#nh)"/><circle r="9.85" fill="none" stroke="#000" stroke-opacity="0.32" stroke-width="0.7"/></g><text x="1237.5" y="718.4" font-size="19.6" textLength="51.0" lengthAdjust="spacingAndGlyphs" stroke="#000" stroke-width="0.35">Rgs17</text><text x="1334.9" y="767.8" font-size="19.6" textLength="39.5" lengthAdjust="spacingAndGlyphs" stroke="#000" stroke-width="0.35">Rgs7</text><text x="1249.2" y="803.5" font-size="19.6" textLength="39.8" lengthAdjust="spacingAndGlyphs" stroke="#000" stroke-width="0.35">Rgs6</text><text x="1381.5" y="792.3" font-size="19.6" textLength="56.2" lengthAdjust="spacingAndGlyphs" stroke="#000" stroke-width="0.35">Gnao1</text><text x="1440.9" y="817.5" font-size="19.4" textLength="56.8" lengthAdjust="spacingAndGlyphs" font-weight="700" stroke="#000" stroke-width="0.5">Gng12</text><text x="1460.7" y="842.5" font-size="19.4" textLength="45.3" lengthAdjust="spacingAndGlyphs" font-weight="700" stroke="#000" stroke-width="0.5">Gng3</text><text x="1338.5" y="850.7" font-size="19.4" textLength="47.3" lengthAdjust="spacingAndGlyphs" font-weight="700" stroke="#000" stroke-width="0.5">Gnb4</text><text x="1409.6" y="863.2" font-size="19.4" textLength="46.6" lengthAdjust="spacingAndGlyphs" font-weight="700" stroke="#000" stroke-width="0.5">Gnb2</text><text x="1126.2" y="867.0" font-size="19.6" textLength="56.9" lengthAdjust="spacingAndGlyphs" stroke="#000" stroke-width="0.35">Mef2d</text><text x="1261.8" y="872.0" font-size="19.6" textLength="51.8" lengthAdjust="spacingAndGlyphs" stroke="#000" stroke-width="0.35">Gnat1</text><text x="1320.8" y="896.2" font-size="19.6" textLength="44.7" lengthAdjust="spacingAndGlyphs" stroke="#000" stroke-width="0.35">Gnb5</text><text x="1409.0" y="888.1" font-size="19.4" textLength="44.7" lengthAdjust="spacingAndGlyphs" font-weight="700" stroke="#000" stroke-width="0.5">Gng2</text><text x="1474.7" y="888.1" font-size="19.6" textLength="39.6" lengthAdjust="spacingAndGlyphs" stroke="#000" stroke-width="0.35">Gnal</text><text x="1513.0" y="860.4" font-size="19.6" textLength="32.0" lengthAdjust="spacingAndGlyphs" stroke="#000" stroke-width="0.35">Insr</text><text x="1548.4" y="886.5" font-size="19.4" textLength="47.6" lengthAdjust="spacingAndGlyphs" font-weight="700" stroke="#000" stroke-width="0.5">Prkce</text><text x="1506.0" y="912.4" font-size="19.6" textLength="60.0" lengthAdjust="spacingAndGlyphs" stroke="#000" stroke-width="0.35">Mapk9</text><text x="1178.1" y="917.9" font-size="19.6" textLength="55.2" lengthAdjust="spacingAndGlyphs" stroke="#000" stroke-width="0.35">Mef2c</text><text x="1334.3" y="924.5" font-size="19.4" textLength="45.9" lengthAdjust="spacingAndGlyphs" font-weight="700" stroke="#000" stroke-width="0.5">Gng7</text><text x="1415.3" y="919.4" font-size="19.4" textLength="46.7" lengthAdjust="spacingAndGlyphs" font-weight="700" stroke="#000" stroke-width="0.5">Gnb1</text><text x="1440.9" y="941.1" font-size="19.4" textLength="40.2" lengthAdjust="spacingAndGlyphs" font-weight="700" stroke="#000" stroke-width="0.5">Sos2</text><text x="1535.4" y="932.2" font-size="19.6" textLength="29.6" lengthAdjust="spacingAndGlyphs" stroke="#000" stroke-width="0.35">Irs1</text><text x="1252.9" y="949.3" font-size="19.6" textLength="50.6" lengthAdjust="spacingAndGlyphs" stroke="#000" stroke-width="0.35">Rock2</text><text x="1468.1" y="961.5" font-size="19.6" textLength="50.5" lengthAdjust="spacingAndGlyphs" stroke="#000" stroke-width="0.35">Adcy8</text><text x="1164.6" y="963.5" font-size="19.6" textLength="58.4" lengthAdjust="spacingAndGlyphs" stroke="#000" stroke-width="0.35">Lamb2</text><text x="1245.8" y="992.0" font-size="19.6" textLength="36.3" lengthAdjust="spacingAndGlyphs" stroke="#000" stroke-width="0.35">Arf2</text><text x="1360.9" y="973.5" font-size="19.4" textLength="49.1" lengthAdjust="spacingAndGlyphs" font-weight="700" stroke="#000" stroke-width="0.5">Arrb1</text><text x="1145.1" y="992.4" font-size="19.6" textLength="55.1" lengthAdjust="spacingAndGlyphs" stroke="#000" stroke-width="0.35">Lamc1</text><text x="1311.7" y="1000.0" font-size="19.6" textLength="49.8" lengthAdjust="spacingAndGlyphs" stroke="#000" stroke-width="0.35">Rock1</text><text x="1422.8" y="989.8" font-size="19.6" textLength="24.3" lengthAdjust="spacingAndGlyphs" stroke="#000" stroke-width="0.35">Src</text><text x="1458.6" y="1001.5" font-size="19.6" textLength="40.8" lengthAdjust="spacingAndGlyphs" stroke="#000" stroke-width="0.35">Grb2</text><text x="1495.0" y="1034.5" font-size="19.6" textLength="34.5" lengthAdjust="spacingAndGlyphs" stroke="#000" stroke-width="0.35">Kras</text><text x="1531.9" y="1006.8" font-size="19.6" textLength="52.6" lengthAdjust="spacingAndGlyphs" stroke="#000" stroke-width="0.35">Tyrkc1</text><text x="1530.1" y="978.1" font-size="19.6" textLength="72.5" lengthAdjust="spacingAndGlyphs" stroke="#000" stroke-width="0.35">Rps6kb1</text><text x="1023.5" y="994.2" font-size="19.6" textLength="37.0" lengthAdjust="spacingAndGlyphs" stroke="#000" stroke-width="0.35">Arf3</text><text x="1107.6" y="1013.0" font-size="19.6" textLength="37.3" lengthAdjust="spacingAndGlyphs" stroke="#000" stroke-width="0.35">Arf4</text><text x="1180.3" y="1066.1" font-size="19.6" textLength="36.3" lengthAdjust="spacingAndGlyphs" stroke="#000" stroke-width="0.35">Arf1</text><text x="1179.8" y="1026.9" font-size="19.6" textLength="57.4" lengthAdjust="spacingAndGlyphs" stroke="#000" stroke-width="0.35">Lama2</text><text x="1256.8" y="1049.0" font-size="19.6" textLength="49.5" lengthAdjust="spacingAndGlyphs" stroke="#000" stroke-width="0.35">Cyth2</text><text x="1342.1" y="1035.8" font-size="19.6" textLength="36.6" lengthAdjust="spacingAndGlyphs" stroke="#000" stroke-width="0.35">Ptk2</text><text x="1412.6" y="1041.5" font-size="19.6" textLength="58.7" lengthAdjust="spacingAndGlyphs" stroke="#000" stroke-width="0.35">Mapk1</text><text x="1461.1" y="1057.5" font-size="19.6" textLength="36.4" lengthAdjust="spacingAndGlyphs" stroke="#000" stroke-width="0.35">Akt1</text><text x="1385.8" y="1074.7" font-size="19.6" textLength="51.1" lengthAdjust="spacingAndGlyphs" stroke="#000" stroke-width="0.35">Dock1</text><text x="1327.0" y="1081.1" font-size="19.6" textLength="42.8" lengthAdjust="spacingAndGlyphs" stroke="#000" stroke-width="0.35">Itgb2</text><text x="1444.5" y="1084.9" font-size="19.6" textLength="56.2" lengthAdjust="spacingAndGlyphs" stroke="#000" stroke-width="0.35">Prkacb</text><text x="1508.3" y="1073.0" font-size="19.6" textLength="55.5" lengthAdjust="spacingAndGlyphs" stroke="#000" stroke-width="0.35">Prkaa1</text><text x="1542.8" y="1053.8" font-size="19.6" textLength="37.9" lengthAdjust="spacingAndGlyphs" stroke="#000" stroke-width="0.35">Akt3</text><text x="1387.0" y="1102.4" font-size="19.6" textLength="47.9" lengthAdjust="spacingAndGlyphs" stroke="#000" stroke-width="0.35">Ptk2b</text><text x="1447.7" y="1120.0" font-size="19.6" textLength="15.3" lengthAdjust="spacingAndGlyphs" stroke="#000" stroke-width="0.35">Ilk</text><text x="1479.0" y="1120.0" font-size="19.6" textLength="28.1" lengthAdjust="spacingAndGlyphs" stroke="#000" stroke-width="0.35">Fyn</text><text x="1292.2" y="1102.5" font-size="19.6" textLength="35.6" lengthAdjust="spacingAndGlyphs" stroke="#000" stroke-width="0.35">Tln1</text><text x="1346.8" y="1118.1" font-size="19.6" textLength="50.5" lengthAdjust="spacingAndGlyphs" stroke="#000" stroke-width="0.35">Casp3</text><text x="1222.3" y="1098.6" font-size="19.6" textLength="37.0" lengthAdjust="spacingAndGlyphs" stroke="#000" stroke-width="0.35">Stk4</text><text x="1254.0" y="1122.8" font-size="19.6" textLength="53.4" lengthAdjust="spacingAndGlyphs" stroke="#000" stroke-width="0.35">Cyfip1</text><text x="1236.6" y="1146.2" font-size="19.6" textLength="53.5" lengthAdjust="spacingAndGlyphs" stroke="#000" stroke-width="0.35">Cyfip2</text><text x="1399.4" y="1141.3" font-size="19.6" textLength="29.3" lengthAdjust="spacingAndGlyphs" stroke="#000" stroke-width="0.35">Pxn</text><text x="1361.9" y="1161.5" font-size="19.6" textLength="22.4" lengthAdjust="spacingAndGlyphs" stroke="#000" stroke-width="0.35">Vcl</text><text x="1158.8" y="1150.5" font-size="19.6" textLength="49.4" lengthAdjust="spacingAndGlyphs" stroke="#000" stroke-width="0.35">Actn2</text><text x="1090.3" y="1193.2" font-size="19.4" textLength="48.8" lengthAdjust="spacingAndGlyphs" font-weight="700" stroke="#000" stroke-width="0.5">Actc1</text><text x="1235.3" y="1182.6" font-size="19.6" textLength="49.8" lengthAdjust="spacingAndGlyphs" stroke="#000" stroke-width="0.35">Arpc3</text><text x="1158.1" y="1209.6" font-size="19.6" textLength="49.4" lengthAdjust="spacingAndGlyphs" stroke="#000" stroke-width="0.35">Arpc2</text><text x="1339.0" y="1196.4" font-size="19.4" textLength="49.6" lengthAdjust="spacingAndGlyphs" font-weight="700" stroke="#000" stroke-width="0.5">Acta2</text><text x="1131.3" y="1251.6" font-size="19.4" textLength="62.6" lengthAdjust="spacingAndGlyphs" font-weight="700" stroke="#000" stroke-width="0.5">Arpc1a</text><text x="1241.7" y="1226.7" font-size="19.6" textLength="45.5" lengthAdjust="spacingAndGlyphs" stroke="#000" stroke-width="0.35">Actr2</text><text x="1288.7" y="1249.5" font-size="19.4" textLength="49.1" lengthAdjust="spacingAndGlyphs" font-weight="700" stroke="#000" stroke-width="0.5">Actg1</text><text x="1359.1" y="1237.0" font-size="24.2" textLength="74.3" lengthAdjust="spacingAndGlyphs" font-weight="700" fill="#FF0000" stroke="#FF0000" stroke-width="0.5">Ctnna2</text><text x="1348.9" y="1262.9" font-size="19.4" textLength="38.8" lengthAdjust="spacingAndGlyphs" font-weight="700" stroke="#000" stroke-width="0.5">Actb</text><text x="1431.0" y="1248.1" font-size="19.6" textLength="41.3" lengthAdjust="spacingAndGlyphs" stroke="#000" stroke-width="0.35">Mylk</text><text x="1404.6" y="1170.6" font-size="19.4" textLength="46.5" lengthAdjust="spacingAndGlyphs" font-weight="700" stroke="#000" stroke-width="0.5">Prkca</text><text x="1435.9" y="1193.4" font-size="19.4" textLength="47.9" lengthAdjust="spacingAndGlyphs" font-weight="700" stroke="#000" stroke-width="0.5">Prkcb</text><text x="1487.6" y="1183.8" font-size="19.6" textLength="65.1" lengthAdjust="spacingAndGlyphs" stroke="#000" stroke-width="0.35">Prkar1a</text><text x="1524.9" y="1120.9" font-size="19.6" textLength="37.4" lengthAdjust="spacingAndGlyphs" stroke="#000" stroke-width="0.35">Dlg4</text><text x="1553.0" y="1141.3" font-size="19.6" textLength="69.0" lengthAdjust="spacingAndGlyphs" stroke="#000" stroke-width="0.35">Camk2a</text><text x="1610.1" y="1105.6" font-size="19.6" textLength="70.0" lengthAdjust="spacingAndGlyphs" stroke="#000" stroke-width="0.35">Camk2b</text><text x="1550.4" y="1089.9" font-size="19.6" textLength="49.2" lengthAdjust="spacingAndGlyphs" stroke="#000" stroke-width="0.35">Creb1</text><text x="1613.7" y="1060.0" font-size="19.4" textLength="42.1" lengthAdjust="spacingAndGlyphs" font-weight="700" stroke="#000" stroke-width="0.5">Itpr1</text><text x="1652.0" y="1034.7" font-size="19.6" textLength="43.4" lengthAdjust="spacingAndGlyphs" stroke="#000" stroke-width="0.35">Crtc1</text><text x="1630.9" y="1080.9" font-size="19.6" textLength="43.4" lengthAdjust="spacingAndGlyphs" stroke="#000" stroke-width="0.35">Kalrn</text><text x="1699.2" y="1076.8" font-size="19.4" textLength="64.4" lengthAdjust="spacingAndGlyphs" font-weight="700" stroke="#000" stroke-width="0.5">Ppp3ca</text><text x="1726.0" y="1034.5" font-size="19.4" textLength="65.5" lengthAdjust="spacingAndGlyphs" font-weight="700" stroke="#000" stroke-width="0.5">Ppp3cb</text><text x="1728.4" y="969.1" font-size="19.4" textLength="63.2" lengthAdjust="spacingAndGlyphs" font-weight="700" stroke="#000" stroke-width="0.5">Ppp3cc</text><text x="1699.6" y="1003.0" font-size="19.4" textLength="62.6" lengthAdjust="spacingAndGlyphs" font-weight="700" stroke="#000" stroke-width="0.5">Ppp3r1</text><text x="1665.4" y="1126.4" font-size="19.6" textLength="52.3" lengthAdjust="spacingAndGlyphs" stroke="#000" stroke-width="0.35">Hspb1</text><text x="1644.6" y="1147.1" font-size="19.6" textLength="25.9" lengthAdjust="spacingAndGlyphs" stroke="#000" stroke-width="0.35">Htt</text><text x="1526.6" y="1161.1" font-size="19.6" textLength="41.7" lengthAdjust="spacingAndGlyphs" stroke="#000" stroke-width="0.35">Nos1</text><text x="1585.0" y="1176.1" font-size="19.6" textLength="54.0" lengthAdjust="spacingAndGlyphs" stroke="#000" stroke-width="0.35">Calm3</text><text x="1700.6" y="1157.0" font-size="19.6" textLength="52.9" lengthAdjust="spacingAndGlyphs" stroke="#000" stroke-width="0.35">Hspa8</text><text x="1651.0" y="1185.8" font-size="19.6" textLength="46.8" lengthAdjust="spacingAndGlyphs" stroke="#000" stroke-width="0.35">Hip1r</text><text x="1669.0" y="1209.8" font-size="19.6" textLength="48.3" lengthAdjust="spacingAndGlyphs" stroke="#000" stroke-width="0.35">Grm5</text><text x="1579.6" y="1198.2" font-size="19.6" textLength="57.0" lengthAdjust="spacingAndGlyphs" stroke="#000" stroke-width="0.35">Gapdh</text><text x="1487.9" y="1213.3" font-size="19.6" textLength="45.7" lengthAdjust="spacingAndGlyphs" stroke="#000" stroke-width="0.35">Gria3</text><text x="1559.6" y="1226.0" font-size="19.6" textLength="45.4" lengthAdjust="spacingAndGlyphs" stroke="#000" stroke-width="0.35">Gria1</text><text x="1565.8" y="1254.0" font-size="19.6" textLength="38.0" lengthAdjust="spacingAndGlyphs" stroke="#000" stroke-width="0.35">Ryr2</text><text x="1494.3" y="1253.6" font-size="19.6" textLength="45.3" lengthAdjust="spacingAndGlyphs" stroke="#000" stroke-width="0.35">Gria2</text><text x="1619.4" y="1240.7" font-size="19.6" textLength="39.8" lengthAdjust="spacingAndGlyphs" stroke="#000" stroke-width="0.35">Snca</text><text x="1696.6" y="1236.6" font-size="19.6" textLength="52.7" lengthAdjust="spacingAndGlyphs" stroke="#000" stroke-width="0.35">Pde1a</text><text x="1698.5" y="1269.2" font-size="19.6" textLength="48.5" lengthAdjust="spacingAndGlyphs" stroke="#000" stroke-width="0.35">Uchl1</text><text x="1765.5" y="1213.1" font-size="19.6" textLength="65.8" lengthAdjust="spacingAndGlyphs" stroke="#000" stroke-width="0.35">Pik3c2a</text><text x="1504.5" y="1280.9" font-size="19.6" textLength="53.3" lengthAdjust="spacingAndGlyphs" stroke="#000" stroke-width="0.35">Calm1</text><text x="1500.6" y="1322.2" font-size="19.6" textLength="61.9" lengthAdjust="spacingAndGlyphs" stroke="#000" stroke-width="0.35">Ap2m1</text><text x="1424.8" y="1283.1" font-size="19.4" textLength="44.7" lengthAdjust="spacingAndGlyphs" font-weight="700" stroke="#000" stroke-width="0.5">Cdh2</text><text x="1442.3" y="1339.5" font-size="19.6" textLength="54.2" lengthAdjust="spacingAndGlyphs" stroke="#000" stroke-width="0.35">Calm2</text><text x="1374.0" y="1307.2" font-size="19.6" textLength="49.3" lengthAdjust="spacingAndGlyphs" stroke="#000" stroke-width="0.35">Myh9</text><text x="1496.5" y="1404.4" font-size="19.6" textLength="45.1" lengthAdjust="spacingAndGlyphs" stroke="#000" stroke-width="0.35">Synj1</text><text x="1659.0" y="1286.8" font-size="19.6" textLength="51.4" lengthAdjust="spacingAndGlyphs" stroke="#000" stroke-width="0.35">Phka1</text><text x="1570.2" y="1317.8" font-size="19.6" textLength="51.4" lengthAdjust="spacingAndGlyphs" stroke="#000" stroke-width="0.35">Phkg1</text><text x="1677.3" y="1306.7" font-size="19.6" textLength="60.4" lengthAdjust="spacingAndGlyphs" stroke="#000" stroke-width="0.35">Vamp2</text><text x="1708.1" y="1332.6" font-size="19.6" textLength="36.6" lengthAdjust="spacingAndGlyphs" stroke="#000" stroke-width="0.35">Cask</text><text x="1662.4" y="1357.9" font-size="19.6" textLength="59.1" lengthAdjust="spacingAndGlyphs" stroke="#000" stroke-width="0.35">Vamp8</text><text x="1594.2" y="1393.3" font-size="19.6" textLength="59.8" lengthAdjust="spacingAndGlyphs" stroke="#000" stroke-width="0.35">Vamp1</text><text x="1698.3" y="1384.6" font-size="19.6" textLength="64.0" lengthAdjust="spacingAndGlyphs" stroke="#000" stroke-width="0.35">Snap29</text><text x="1729.9" y="1457.5" font-size="19.6" textLength="59.1" lengthAdjust="spacingAndGlyphs" stroke="#000" stroke-width="0.35">Vamp3</text><text x="1194.8" y="1305.8" font-size="19.4" textLength="76.6" lengthAdjust="spacingAndGlyphs" font-weight="700" stroke="#000" stroke-width="0.5">Smarcd1</text><text x="1284.1" y="1317.8" font-size="19.4" textLength="76.7" lengthAdjust="spacingAndGlyphs" font-weight="700" stroke="#000" stroke-width="0.5">Smarca4</text><text x="1296.1" y="1351.6" font-size="19.4" textLength="45.0" lengthAdjust="spacingAndGlyphs" font-weight="700" stroke="#000" stroke-width="0.5">Cdh4</text><text x="1370.6" y="1345.2" font-size="19.6" textLength="49.3" lengthAdjust="spacingAndGlyphs" stroke="#000" stroke-width="0.35">Kat2b</text><text x="1191.3" y="1355.1" font-size="19.4" textLength="74.5" lengthAdjust="spacingAndGlyphs" font-weight="700" stroke="#000" stroke-width="0.5">Smarcc2</text><text x="1351.6" y="1378.3" font-size="19.6" textLength="38.0" lengthAdjust="spacingAndGlyphs" stroke="#000" stroke-width="0.35">Pfn1</text><text x="1422.3" y="1362.8" font-size="19.6" textLength="38.2" lengthAdjust="spacingAndGlyphs" stroke="#000" stroke-width="0.35">Pfn2</text><text x="1267.9" y="1392.4" font-size="19.4" textLength="78.1" lengthAdjust="spacingAndGlyphs" font-weight="700" stroke="#000" stroke-width="0.5">Smarcb1</text><text x="1386.5" y="1441.6" font-size="19.6" textLength="49.5" lengthAdjust="spacingAndGlyphs" stroke="#000" stroke-width="0.35">Diap2</text><text x="1872.4" y="754.5" font-size="19.6" textLength="51.3" lengthAdjust="spacingAndGlyphs" stroke="#000" stroke-width="0.35">Tubb6</text><text x="1775.3" y="808.4" font-size="19.6" textLength="63.3" lengthAdjust="spacingAndGlyphs" stroke="#000" stroke-width="0.35">Tuba1b</text><text x="1803.5" y="832.3" font-size="19.6" textLength="59.0" lengthAdjust="spacingAndGlyphs" stroke="#000" stroke-width="0.35">Tuba1c</text><text x="1916.0" y="819.2" font-size="19.6" textLength="63.3" lengthAdjust="spacingAndGlyphs" stroke="#000" stroke-width="0.35">Tubb4a</text><text x="1935.7" y="849.4" font-size="19.6" textLength="62.6" lengthAdjust="spacingAndGlyphs" stroke="#000" stroke-width="0.35">Tubb2b</text><text x="1758.4" y="856.0" font-size="19.6" textLength="52.8" lengthAdjust="spacingAndGlyphs" stroke="#000" stroke-width="0.35">Tubb5</text><text x="1853.4" y="892.3" font-size="19.6" textLength="61.2" lengthAdjust="spacingAndGlyphs" stroke="#000" stroke-width="0.35">Tuba1a</text><text x="1930.8" y="880.4" font-size="19.6" textLength="61.2" lengthAdjust="spacingAndGlyphs" stroke="#000" stroke-width="0.35">Tubb2a</text><text x="1778.1" y="902.9" font-size="19.6" textLength="63.3" lengthAdjust="spacingAndGlyphs" stroke="#000" stroke-width="0.35">Tubb4b</text><text x="1603.2" y="876.0" font-size="19.6" textLength="56.8" lengthAdjust="spacingAndGlyphs" stroke="#000" stroke-width="0.35">Ywhae</text><text x="1686.9" y="889.4" font-size="19.6" textLength="55.5" lengthAdjust="spacingAndGlyphs" stroke="#000" stroke-width="0.35">Ywhag</text><text x="1586.0" y="920.0" font-size="19.6" textLength="54.2" lengthAdjust="spacingAndGlyphs" stroke="#000" stroke-width="0.35">Ywhaz</text><text x="1665.8" y="940.5" font-size="19.6" textLength="55.5" lengthAdjust="spacingAndGlyphs" stroke="#000" stroke-width="0.35">Ywhah</text><text x="1708.6" y="921.9" font-size="19.6" textLength="56.1" lengthAdjust="spacingAndGlyphs" stroke="#000" stroke-width="0.35">Ywhaq</text><text x="1569.4" y="947.5" font-size="19.6" textLength="58.7" lengthAdjust="spacingAndGlyphs" stroke="#000" stroke-width="0.35">Akt1s1</text><text x="1612.1" y="989.0" font-size="19.6" textLength="55.6" lengthAdjust="spacingAndGlyphs" stroke="#000" stroke-width="0.35">Ywhab</text><text x="1939.2" y="949.9" font-size="19.6" textLength="74.6" lengthAdjust="spacingAndGlyphs" stroke="#000" stroke-width="0.35">Dync1h1</text><text x="1966.7" y="1001.3" font-size="19.6" textLength="53.4" lengthAdjust="spacingAndGlyphs" stroke="#000" stroke-width="0.35">Dync1</text><text x="1821.0" y="1011.1" font-size="19.6" textLength="62.0" lengthAdjust="spacingAndGlyphs" stroke="#000" stroke-width="0.35">Ndufv2</text><text x="1864.0" y="1044.2" font-size="19.6" textLength="53.4" lengthAdjust="spacingAndGlyphs" stroke="#000" stroke-width="0.35">Dynll1</text><text x="1877.3" y="1086.0" font-size="19.6" textLength="54.2" lengthAdjust="spacingAndGlyphs" stroke="#000" stroke-width="0.35">Dynll2</text><text x="1959.6" y="1084.3" font-size="19.6" textLength="74.9" lengthAdjust="spacingAndGlyphs" stroke="#000" stroke-width="0.35">Dync2h1</text><text x="1791.5" y="1086.0" font-size="19.6" textLength="39.4" lengthAdjust="spacingAndGlyphs" stroke="#000" stroke-width="0.35">Cyc1</text><text x="1742.0" y="1134.7" font-size="19.6" textLength="64.3" lengthAdjust="spacingAndGlyphs" stroke="#000" stroke-width="0.35">mt-Co2</text><text x="1847.8" y="1125.6" font-size="19.6" textLength="58.4" lengthAdjust="spacingAndGlyphs" stroke="#000" stroke-width="0.35">Prkag1</text><text x="1845.7" y="1155.1" font-size="19.6" textLength="57.6" lengthAdjust="spacingAndGlyphs" stroke="#000" stroke-width="0.35">Prkag2</text><text x="1938.5" y="1154.1" font-size="19.6" textLength="57.7" lengthAdjust="spacingAndGlyphs" stroke="#000" stroke-width="0.35">Prkaa1</text><text x="1871.3" y="1202.0" font-size="19.6" textLength="50.6" lengthAdjust="spacingAndGlyphs" stroke="#000" stroke-width="0.35">Acaca</text><text x="1772.2" y="1177.6" font-size="19.6" textLength="73.2" lengthAdjust="spacingAndGlyphs" stroke="#000" stroke-width="0.35">Cacna1a</text><text x="1757.7" y="1252.2" font-size="19.6" textLength="52.8" lengthAdjust="spacingAndGlyphs" stroke="#000" stroke-width="0.35">Hspa2</text><text x="1858.3" y="1245.9" font-size="19.6" textLength="63.1" lengthAdjust="spacingAndGlyphs" stroke="#000" stroke-width="0.35">Cacnb1</text><text x="1867.5" y="1283.3" font-size="19.6" textLength="57.7" lengthAdjust="spacingAndGlyphs" stroke="#000" stroke-width="0.35">Psmb7</text><text x="1791.5" y="1301.9" font-size="19.6" textLength="57.0" lengthAdjust="spacingAndGlyphs" stroke="#000" stroke-width="0.35">Psmb3</text><text x="1912.5" y="1308.6" font-size="19.6" textLength="55.6" lengthAdjust="spacingAndGlyphs" stroke="#000" stroke-width="0.35">Psma3</text><text x="1772.5" y="1360.4" font-size="19.6" textLength="56.6" lengthAdjust="spacingAndGlyphs" stroke="#000" stroke-width="0.35">Psma6</text><text x="1847.8" y="1344.1" font-size="19.6" textLength="55.8" lengthAdjust="spacingAndGlyphs" stroke="#000" stroke-width="0.35">Psma2</text><text x="1930.8" y="1366.3" font-size="19.6" textLength="57.0" lengthAdjust="spacingAndGlyphs" stroke="#000" stroke-width="0.35">Psmb1</text><text x="1753.1" y="1403.6" font-size="19.6" textLength="68.9" lengthAdjust="spacingAndGlyphs" stroke="#000" stroke-width="0.35">Psmb10</text><text x="1906.4" y="1412.0" font-size="19.6" textLength="55.8" lengthAdjust="spacingAndGlyphs" stroke="#000" stroke-width="0.35">Psma1</text><text x="1857.6" y="1429.6" font-size="19.6" textLength="37.3" lengthAdjust="spacingAndGlyphs" stroke="#000" stroke-width="0.35">Cul1</text>
</svg>
</body>
</html>
